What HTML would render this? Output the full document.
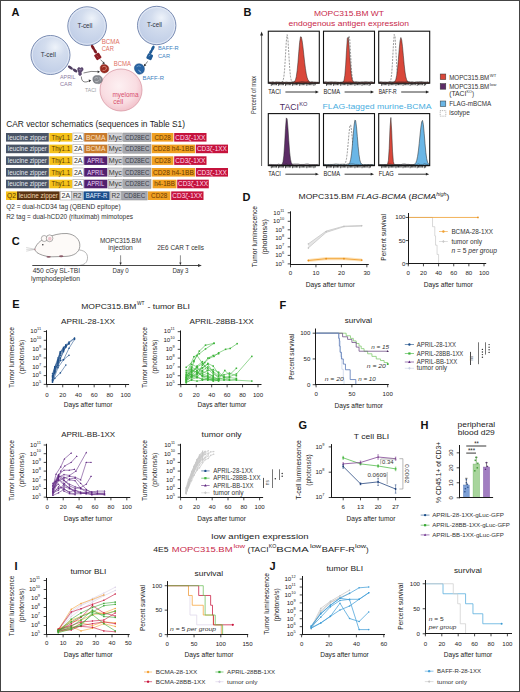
<!DOCTYPE html>
<html><head><meta charset="utf-8"><style>
html,body{margin:0;padding:0;background:#fff;}
svg{display:block;font-family:"Liberation Sans", sans-serif;}
</style></head><body>
<svg width="520" height="692" viewBox="0 0 520 692">
<rect x="0" y="0" width="520" height="692" fill="#fff"/>
<text x="11.60" y="16.40" font-size="11.0" fill="#111" font-weight="bold">A</text>
<defs>
<radialGradient id="tc" cx="62%" cy="30%" r="75%"><stop offset="0" stop-color="#eef3fa"/><stop offset="0.35" stop-color="#d3ddee"/><stop offset="0.85" stop-color="#c3d0e8"/><stop offset="1" stop-color="#b9c8e2"/></radialGradient>
<radialGradient id="my" cx="45%" cy="40%" r="60%"><stop offset="0" stop-color="#fdf0f2"/><stop offset="0.7" stop-color="#f9dde2"/><stop offset="1" stop-color="#f2c3cc"/></radialGradient>
</defs>
<circle cx="87.10" cy="26.10" r="19.30" fill="url(#tc)" stroke="#7a8cb2" stroke-width="1.0"/>
<circle cx="87.10" cy="26.10" r="18.10" fill="none" stroke="#e8eef8" stroke-width="0.8"/>
<text x="84.90" y="27.90" font-size="6.8" fill="#2e3444" text-anchor="middle" textLength="15.00" lengthAdjust="spacingAndGlyphs">T-cell</text>
<circle cx="50.50" cy="55.00" r="19.50" fill="url(#tc)" stroke="#7a8cb2" stroke-width="1.0"/>
<circle cx="50.50" cy="55.00" r="18.30" fill="none" stroke="#e8eef8" stroke-width="0.8"/>
<text x="48.30" y="56.80" font-size="6.8" fill="#2e3444" text-anchor="middle" textLength="15.00" lengthAdjust="spacingAndGlyphs">T-cell</text>
<circle cx="156.70" cy="25.50" r="19.20" fill="url(#tc)" stroke="#7a8cb2" stroke-width="1.0"/>
<circle cx="156.70" cy="25.50" r="18.00" fill="none" stroke="#e8eef8" stroke-width="0.8"/>
<text x="154.50" y="27.30" font-size="6.8" fill="#2e3444" text-anchor="middle" textLength="15.00" lengthAdjust="spacingAndGlyphs">T-cell</text>
<circle cx="121.00" cy="90.00" r="21.00" fill="url(#my)" stroke="#d99aa6" stroke-width="0.8"/>
<text x="112.50" y="96.60" font-size="6.6" fill="#d8506e" textLength="26.00" lengthAdjust="spacingAndGlyphs">myeloma</text>
<text x="113.30" y="103.80" font-size="6.6" fill="#d8506e">cell</text>
<ellipse cx="92.9" cy="47.4" rx="2.9" ry="1.45" fill="#7e1a22" transform="rotate(58 92.9 47.4)"/>
<ellipse cx="95.2" cy="51.2" rx="2.6" ry="1.45" fill="#7e1a22" transform="rotate(58 95.2 51.2)"/>
<rect x="95.00" y="53.40" width="5.60" height="6.00" fill="#8c1d24" stroke="none" stroke-width="0.5" rx="0.8" transform="rotate(-32 97.8 56.4)"/>
<line x1="96.60" y1="55.60" x2="98.60" y2="57.40" stroke="#d07070" stroke-width="0.45"/>
<path d="M100.5,59.6 L103.8,63" fill="none" stroke="#333" stroke-width="0.6"/>
<polygon points="104.8,64.2 102.2,63.4 104.0,61.6" fill="#333"/>
<path d="M100.2,68.5 C99.8,65.5 102.5,63.8 105,64.6 C107.8,65.2 109.4,67.6 108.6,70.2 C107.8,72.6 104.6,73.6 102.4,72.6 C100.8,71.8 100.3,70.2 100.2,68.5 Z" fill="#9c2c20" stroke="#6e1a12" stroke-width="0.4"/>
<path d="M102.2,67.2 q1.8,-1.8 3.6,-0.4 M102.6,70.4 q2.2,0.6 3.8,-1.2 M105.8,66.8 q1.2,1.2 0.2,2.4" fill="none" stroke="#f2c0b0" stroke-width="0.55"/>
<ellipse cx="70.4" cy="67.6" rx="2.9" ry="1.35" fill="#4e3e60" transform="rotate(32 70.4 67.6)"/>
<ellipse cx="75.0" cy="70.5" rx="2.6" ry="1.35" fill="#4e3e60" transform="rotate(32 75.0 70.5)"/>
<path d="M77.6,69.2 C77.4,67.4 79.4,66.8 80.4,68.2 C81.2,67 83.4,67.4 83.2,69.4 C83,71 81.4,71.4 81.2,72.6 C82,73.6 81.6,75.6 80,75.6 C78.6,75.6 78.2,74 78.8,72.8 C78,72 77.7,70.6 77.6,69.2 Z" fill="#5e4a72" stroke="#3e2e50" stroke-width="0.4"/>
<path d="M79,69.4 q1.2,1 2.6,0" fill="none" stroke="#c8b8d8" stroke-width="0.45"/>
<path d="M83.5,73 Q91,70.5 98.8,71.7" fill="none" stroke="#333" stroke-width="0.6"/>
<polygon points="100,71.8 97.6,70.4 97.7,73.2" fill="#333"/>
<path d="M81.3,76.5 Q81.5,82.5 86,82 Q88,81.5 90,80.7" fill="none" stroke="#333" stroke-width="0.6"/>
<polygon points="91.2,80.2 88.6,79.6 89.3,82.2" fill="#333"/>
<path d="M92.8,79.2 C92.6,76.6 95,75 97.4,75.6 C100.2,75.2 102.8,77.2 102.4,80 C102.2,82.6 99.6,84.2 97.2,83.6 C94.6,83.8 92.9,81.8 92.8,79.2 Z" fill="#868a90" stroke="#5a5e64" stroke-width="0.4"/>
<path d="M94.6,78.4 q1.6,-1.8 3.4,-0.2 M95.2,81.4 q2,0.8 3.6,-0.8 M99.2,77.4 q1.6,1 1,3" fill="none" stroke="#e6e8ea" stroke-width="0.5"/>
<ellipse cx="152.8" cy="48.2" rx="2.8" ry="1.4" fill="#1f5a96" transform="rotate(-60 152.8 48.2)"/>
<ellipse cx="150.9" cy="51.8" rx="2.6" ry="1.4" fill="#1f5a96" transform="rotate(-60 150.9 51.8)"/>
<rect x="146.90" y="53.80" width="5.60" height="5.80" fill="#1f5a96" stroke="none" stroke-width="0.5" rx="1.2" transform="rotate(25 149.7 56.7)"/>
<line x1="148.60" y1="56.20" x2="150.40" y2="55.00" stroke="#a8c8ea" stroke-width="0.5"/>
<path d="M147.6,61.4 L145,65" fill="none" stroke="#333" stroke-width="0.6"/>
<polygon points="144.0,66.6 144.1,63.7 146.3,65.2" fill="#333"/>
<path d="M134.4,67.6 C134.6,64.6 137.4,63.4 139.8,63.8 C142.8,64.2 144.8,66.6 144.4,69.6 C144.2,72.6 141.8,74.4 139.2,74.2 C137.8,74.1 136.6,73.2 136.2,72.2 C135.2,71.2 134.3,69.6 134.4,67.6 Z" fill="#2764a4" stroke="#174478" stroke-width="0.45"/>
<path d="M136.6,66.8 q2,-1.8 4.2,-0.4" fill="none" stroke="#9cc0e6" stroke-width="0.55"/>
<line x1="138.40" y1="70.20" x2="141.20" y2="72.40" stroke="#dbe8f6" stroke-width="0.7"/>
<text x="101.70" y="44.20" font-size="6.4" fill="#e0705f" textLength="18.00" lengthAdjust="spacingAndGlyphs">BCMA</text>
<text x="101.70" y="51.40" font-size="6.4" fill="#e0705f" textLength="12.20" lengthAdjust="spacingAndGlyphs">CAR</text>
<text x="113.80" y="66.00" font-size="6.4" fill="#e0705f" textLength="17.30" lengthAdjust="spacingAndGlyphs">BCMA</text>
<text x="60.00" y="79.20" font-size="6.2" fill="#8c7ca2" textLength="15.50" lengthAdjust="spacingAndGlyphs">APRIL</text>
<text x="60.00" y="86.40" font-size="6.2" fill="#8c7ca2" textLength="12.00" lengthAdjust="spacingAndGlyphs">CAR</text>
<text x="85.00" y="92.00" font-size="6.2" fill="#9a9ea4" textLength="11.30" lengthAdjust="spacingAndGlyphs">TACI</text>
<text x="158.00" y="50.20" font-size="6.2" fill="#3d7fc0" textLength="20.70" lengthAdjust="spacingAndGlyphs">BAFF-R</text>
<text x="158.00" y="57.80" font-size="6.2" fill="#3d7fc0" textLength="12.00" lengthAdjust="spacingAndGlyphs">CAR</text>
<text x="142.40" y="79.60" font-size="6.2" fill="#3d7fc0" textLength="21.60" lengthAdjust="spacingAndGlyphs">BAFF-R</text>
<text x="6.20" y="127.40" font-size="8.3" fill="#222" textLength="178.80" lengthAdjust="spacingAndGlyphs">CAR vector schematics (sequences in Table S1)</text>
<rect x="6.00" y="133.00" width="42.80" height="8.60" fill="#4a5466" stroke="none" stroke-width="0.5"/>
<text x="27.40" y="139.70" font-size="7.0" fill="#e4e7ee" text-anchor="middle" textLength="39.20" lengthAdjust="spacingAndGlyphs">leucine zipper</text>
<rect x="49.30" y="133.00" width="22.90" height="8.60" fill="#f5c21a" stroke="none" stroke-width="0.5"/>
<text x="60.75" y="139.70" font-size="7.0" fill="#573800" text-anchor="middle" textLength="18.50" lengthAdjust="spacingAndGlyphs">Thy1.1</text>
<rect x="72.90" y="133.00" width="10.50" height="8.60" fill="#ffffff" stroke="#999" stroke-width="0.5"/>
<text x="78.15" y="139.70" font-size="7.0" fill="#333" text-anchor="middle" textLength="8.50" lengthAdjust="spacingAndGlyphs">2A</text>
<rect x="84.20" y="133.00" width="23.10" height="8.60" fill="#c87a2c" stroke="none" stroke-width="0.5"/>
<text x="95.75" y="139.70" font-size="7.0" fill="#fbe3c5" text-anchor="middle" textLength="19.30" lengthAdjust="spacingAndGlyphs">BCMA</text>
<rect x="108.00" y="133.00" width="14.70" height="8.60" fill="#d3d3d7" stroke="#9a9a9a" stroke-width="0.5"/>
<text x="115.35" y="139.70" font-size="7.0" fill="#3a3a3a" text-anchor="middle" textLength="13.00" lengthAdjust="spacingAndGlyphs">Myc</text>
<rect x="123.40" y="133.00" width="27.60" height="8.60" fill="#a6a8b0" stroke="#888" stroke-width="0.5"/>
<text x="137.20" y="139.70" font-size="7.0" fill="#3c3f48" text-anchor="middle" textLength="24.60" lengthAdjust="spacingAndGlyphs">CD28EC</text>
<rect x="151.80" y="133.00" width="21.60" height="8.60" fill="#f0a022" stroke="none" stroke-width="0.5"/>
<text x="162.60" y="139.70" font-size="7.0" fill="#6a3a00" text-anchor="middle" textLength="16.10" lengthAdjust="spacingAndGlyphs">CD28</text>
<rect x="174.20" y="133.00" width="32.30" height="8.60" fill="#c5133c" stroke="none" stroke-width="0.5"/>
<text x="190.35" y="139.70" font-size="7.0" fill="#fde" text-anchor="middle" textLength="30.00" lengthAdjust="spacingAndGlyphs">CD3&#950;-1XX</text>
<rect x="6.00" y="144.60" width="42.80" height="8.60" fill="#4a5466" stroke="none" stroke-width="0.5"/>
<text x="27.40" y="151.30" font-size="7.0" fill="#e4e7ee" text-anchor="middle" textLength="39.20" lengthAdjust="spacingAndGlyphs">leucine zipper</text>
<rect x="49.30" y="144.60" width="22.90" height="8.60" fill="#f5c21a" stroke="none" stroke-width="0.5"/>
<text x="60.75" y="151.30" font-size="7.0" fill="#573800" text-anchor="middle" textLength="18.50" lengthAdjust="spacingAndGlyphs">Thy1.1</text>
<rect x="72.90" y="144.60" width="10.50" height="8.60" fill="#ffffff" stroke="#999" stroke-width="0.5"/>
<text x="78.15" y="151.30" font-size="7.0" fill="#333" text-anchor="middle" textLength="8.50" lengthAdjust="spacingAndGlyphs">2A</text>
<rect x="84.20" y="144.60" width="23.10" height="8.60" fill="#c87a2c" stroke="none" stroke-width="0.5"/>
<text x="95.75" y="151.30" font-size="7.0" fill="#fbe3c5" text-anchor="middle" textLength="19.30" lengthAdjust="spacingAndGlyphs">BCMA</text>
<rect x="108.00" y="144.60" width="14.70" height="8.60" fill="#d3d3d7" stroke="#9a9a9a" stroke-width="0.5"/>
<text x="115.35" y="151.30" font-size="7.0" fill="#3a3a3a" text-anchor="middle" textLength="13.00" lengthAdjust="spacingAndGlyphs">Myc</text>
<rect x="123.40" y="144.60" width="27.60" height="8.60" fill="#a6a8b0" stroke="#888" stroke-width="0.5"/>
<text x="137.20" y="151.30" font-size="7.0" fill="#3c3f48" text-anchor="middle" textLength="24.60" lengthAdjust="spacingAndGlyphs">CD28EC</text>
<rect x="151.80" y="144.60" width="43.20" height="8.60" fill="#f0a022" stroke="none" stroke-width="0.5"/>
<text x="173.40" y="151.30" font-size="7.0" fill="#6a3a00" text-anchor="middle" textLength="40.80" lengthAdjust="spacingAndGlyphs">CD28 h4-1BB</text>
<rect x="195.80" y="144.60" width="32.20" height="8.60" fill="#c5133c" stroke="none" stroke-width="0.5"/>
<text x="211.90" y="151.30" font-size="7.0" fill="#fde" text-anchor="middle" textLength="30.00" lengthAdjust="spacingAndGlyphs">CD3&#950;-1XX</text>
<rect x="6.00" y="156.30" width="42.80" height="8.60" fill="#4a5466" stroke="none" stroke-width="0.5"/>
<text x="27.40" y="163.00" font-size="7.0" fill="#e4e7ee" text-anchor="middle" textLength="39.20" lengthAdjust="spacingAndGlyphs">leucine zipper</text>
<rect x="49.30" y="156.30" width="22.90" height="8.60" fill="#f5c21a" stroke="none" stroke-width="0.5"/>
<text x="60.75" y="163.00" font-size="7.0" fill="#573800" text-anchor="middle" textLength="18.50" lengthAdjust="spacingAndGlyphs">Thy1.1</text>
<rect x="72.90" y="156.30" width="10.50" height="8.60" fill="#ffffff" stroke="#999" stroke-width="0.5"/>
<text x="78.15" y="163.00" font-size="7.0" fill="#333" text-anchor="middle" textLength="8.50" lengthAdjust="spacingAndGlyphs">2A</text>
<rect x="84.20" y="156.30" width="23.10" height="8.60" fill="#53206f" stroke="none" stroke-width="0.5"/>
<text x="95.75" y="163.00" font-size="7.0" fill="#ecd6f6" text-anchor="middle" textLength="17.00" lengthAdjust="spacingAndGlyphs">APRIL</text>
<rect x="108.00" y="156.30" width="14.70" height="8.60" fill="#d3d3d7" stroke="#9a9a9a" stroke-width="0.5"/>
<text x="115.35" y="163.00" font-size="7.0" fill="#3a3a3a" text-anchor="middle" textLength="13.00" lengthAdjust="spacingAndGlyphs">Myc</text>
<rect x="123.40" y="156.30" width="27.60" height="8.60" fill="#a6a8b0" stroke="#888" stroke-width="0.5"/>
<text x="137.20" y="163.00" font-size="7.0" fill="#3c3f48" text-anchor="middle" textLength="24.60" lengthAdjust="spacingAndGlyphs">CD28EC</text>
<rect x="151.80" y="156.30" width="21.60" height="8.60" fill="#f0a022" stroke="none" stroke-width="0.5"/>
<text x="162.60" y="163.00" font-size="7.0" fill="#6a3a00" text-anchor="middle" textLength="16.10" lengthAdjust="spacingAndGlyphs">CD28</text>
<rect x="174.20" y="156.30" width="32.30" height="8.60" fill="#c5133c" stroke="none" stroke-width="0.5"/>
<text x="190.35" y="163.00" font-size="7.0" fill="#fde" text-anchor="middle" textLength="30.00" lengthAdjust="spacingAndGlyphs">CD3&#950;-1XX</text>
<rect x="6.00" y="168.00" width="42.80" height="8.60" fill="#4a5466" stroke="none" stroke-width="0.5"/>
<text x="27.40" y="174.70" font-size="7.0" fill="#e4e7ee" text-anchor="middle" textLength="39.20" lengthAdjust="spacingAndGlyphs">leucine zipper</text>
<rect x="49.30" y="168.00" width="22.90" height="8.60" fill="#f5c21a" stroke="none" stroke-width="0.5"/>
<text x="60.75" y="174.70" font-size="7.0" fill="#573800" text-anchor="middle" textLength="18.50" lengthAdjust="spacingAndGlyphs">Thy1.1</text>
<rect x="72.90" y="168.00" width="10.50" height="8.60" fill="#ffffff" stroke="#999" stroke-width="0.5"/>
<text x="78.15" y="174.70" font-size="7.0" fill="#333" text-anchor="middle" textLength="8.50" lengthAdjust="spacingAndGlyphs">2A</text>
<rect x="84.20" y="168.00" width="23.10" height="8.60" fill="#53206f" stroke="none" stroke-width="0.5"/>
<text x="95.75" y="174.70" font-size="7.0" fill="#ecd6f6" text-anchor="middle" textLength="17.00" lengthAdjust="spacingAndGlyphs">APRIL</text>
<rect x="108.00" y="168.00" width="14.70" height="8.60" fill="#d3d3d7" stroke="#9a9a9a" stroke-width="0.5"/>
<text x="115.35" y="174.70" font-size="7.0" fill="#3a3a3a" text-anchor="middle" textLength="13.00" lengthAdjust="spacingAndGlyphs">Myc</text>
<rect x="123.40" y="168.00" width="27.60" height="8.60" fill="#a6a8b0" stroke="#888" stroke-width="0.5"/>
<text x="137.20" y="174.70" font-size="7.0" fill="#3c3f48" text-anchor="middle" textLength="24.60" lengthAdjust="spacingAndGlyphs">CD28EC</text>
<rect x="151.80" y="168.00" width="43.20" height="8.60" fill="#f0a022" stroke="none" stroke-width="0.5"/>
<text x="173.40" y="174.70" font-size="7.0" fill="#6a3a00" text-anchor="middle" textLength="40.80" lengthAdjust="spacingAndGlyphs">CD28 h4-1BB</text>
<rect x="195.80" y="168.00" width="32.20" height="8.60" fill="#c5133c" stroke="none" stroke-width="0.5"/>
<text x="211.90" y="174.70" font-size="7.0" fill="#fde" text-anchor="middle" textLength="30.00" lengthAdjust="spacingAndGlyphs">CD3&#950;-1XX</text>
<rect x="6.00" y="179.70" width="42.80" height="8.60" fill="#4a5466" stroke="none" stroke-width="0.5"/>
<text x="27.40" y="186.40" font-size="7.0" fill="#e4e7ee" text-anchor="middle" textLength="39.20" lengthAdjust="spacingAndGlyphs">leucine zipper</text>
<rect x="49.30" y="179.70" width="22.90" height="8.60" fill="#f5c21a" stroke="none" stroke-width="0.5"/>
<text x="60.75" y="186.40" font-size="7.0" fill="#573800" text-anchor="middle" textLength="18.50" lengthAdjust="spacingAndGlyphs">Thy1.1</text>
<rect x="72.90" y="179.70" width="10.50" height="8.60" fill="#ffffff" stroke="#999" stroke-width="0.5"/>
<text x="78.15" y="186.40" font-size="7.0" fill="#333" text-anchor="middle" textLength="8.50" lengthAdjust="spacingAndGlyphs">2A</text>
<rect x="84.20" y="179.70" width="23.10" height="8.60" fill="#53206f" stroke="none" stroke-width="0.5"/>
<text x="95.75" y="186.40" font-size="7.0" fill="#ecd6f6" text-anchor="middle" textLength="17.00" lengthAdjust="spacingAndGlyphs">APRIL</text>
<rect x="108.00" y="179.70" width="14.70" height="8.60" fill="#d3d3d7" stroke="#9a9a9a" stroke-width="0.5"/>
<text x="115.35" y="186.40" font-size="7.0" fill="#3a3a3a" text-anchor="middle" textLength="13.00" lengthAdjust="spacingAndGlyphs">Myc</text>
<rect x="123.40" y="179.70" width="27.60" height="8.60" fill="#a6a8b0" stroke="#888" stroke-width="0.5"/>
<text x="137.20" y="186.40" font-size="7.0" fill="#3c3f48" text-anchor="middle" textLength="24.60" lengthAdjust="spacingAndGlyphs">CD28EC</text>
<rect x="152.60" y="179.70" width="23.90" height="8.60" fill="#f0a022" stroke="none" stroke-width="0.5"/>
<text x="164.55" y="186.40" font-size="7.0" fill="#6a3a00" text-anchor="middle" textLength="20.80" lengthAdjust="spacingAndGlyphs">h4-1BB</text>
<rect x="177.20" y="179.70" width="31.60" height="8.60" fill="#c5133c" stroke="none" stroke-width="0.5"/>
<text x="193.00" y="186.40" font-size="7.0" fill="#fde" text-anchor="middle" textLength="30.00" lengthAdjust="spacingAndGlyphs">CD3&#950;-1XX</text>
<rect x="6.00" y="191.40" width="11.00" height="8.60" fill="#f5c21a" stroke="none" stroke-width="0.5"/>
<text x="11.50" y="198.10" font-size="7.0" fill="#573800" text-anchor="middle" textLength="9.00" lengthAdjust="spacingAndGlyphs">Q2</text>
<rect x="17.00" y="191.40" width="42.60" height="8.60" fill="#5a3412" stroke="none" stroke-width="0.5"/>
<text x="38.30" y="198.10" font-size="7.0" fill="#f3d7b0" text-anchor="middle" textLength="39.20" lengthAdjust="spacingAndGlyphs">leucine zipper</text>
<rect x="60.40" y="191.40" width="10.80" height="8.60" fill="#ffffff" stroke="#999" stroke-width="0.5"/>
<text x="65.80" y="198.10" font-size="7.0" fill="#333" text-anchor="middle" textLength="8.50" lengthAdjust="spacingAndGlyphs">2A</text>
<rect x="71.60" y="191.40" width="11.10" height="8.60" fill="#d3d3d7" stroke="#9a9a9a" stroke-width="0.5"/>
<text x="77.15" y="198.10" font-size="7.0" fill="#3a3a3a" text-anchor="middle" textLength="8.50" lengthAdjust="spacingAndGlyphs">R2</text>
<rect x="83.50" y="191.40" width="26.10" height="8.60" fill="#1d4f8c" stroke="none" stroke-width="0.5"/>
<text x="96.55" y="198.10" font-size="7.0" fill="#e6f0ff" text-anchor="middle" textLength="21.50" lengthAdjust="spacingAndGlyphs">BAFF-R</text>
<rect x="110.40" y="191.40" width="10.80" height="8.60" fill="#d3d3d7" stroke="#9a9a9a" stroke-width="0.5"/>
<text x="115.80" y="198.10" font-size="7.0" fill="#3a3a3a" text-anchor="middle" textLength="8.50" lengthAdjust="spacingAndGlyphs">R2</text>
<rect x="121.80" y="191.40" width="25.40" height="8.60" fill="#a6a8b0" stroke="#888" stroke-width="0.5"/>
<text x="134.50" y="198.10" font-size="7.0" fill="#3c3f48" text-anchor="middle" textLength="21.60" lengthAdjust="spacingAndGlyphs">CD8EC</text>
<rect x="148.00" y="191.40" width="22.30" height="8.60" fill="#f0a022" stroke="none" stroke-width="0.5"/>
<text x="159.15" y="198.10" font-size="7.0" fill="#6a3a00" text-anchor="middle" textLength="16.10" lengthAdjust="spacingAndGlyphs">CD28</text>
<rect x="171.20" y="191.40" width="32.30" height="8.60" fill="#c5133c" stroke="none" stroke-width="0.5"/>
<text x="187.35" y="198.10" font-size="7.0" fill="#fde" text-anchor="middle" textLength="30.00" lengthAdjust="spacingAndGlyphs">CD3&#950;-1XX</text>
<text x="6.20" y="209.40" font-size="6.3" fill="#333" textLength="114.40" lengthAdjust="spacingAndGlyphs">Q2 = dual-hCD34 tag (QBEND epitope)</text>
<text x="6.20" y="219.40" font-size="6.3" fill="#333" textLength="126.80" lengthAdjust="spacingAndGlyphs">R2 tag = dual-hCD20 (rituximab) mimotopes</text>
<text x="243.60" y="16.40" font-size="11.0" fill="#111" font-weight="bold">B</text>
<text x="349.00" y="16.20" font-size="8.0" fill="#c8284a" text-anchor="middle" textLength="70.00" lengthAdjust="spacingAndGlyphs">MOPC315.BM WT</text>
<text x="348.80" y="26.20" font-size="8.0" fill="#c8284a" text-anchor="middle" textLength="120.50" lengthAdjust="spacingAndGlyphs">endogenous antigen expression</text>
<line x1="261.60" y1="34.00" x2="261.60" y2="166.00" stroke="#222" stroke-width="0.7"/>
<polygon points="261.6,31.5 260.1,35.5 263.1,35.5" fill="#222"/>
<text x="256.00" y="95.00" font-size="6.4" fill="#333" text-anchor="middle" textLength="38.00" lengthAdjust="spacingAndGlyphs" transform="rotate(-90 256.00 95.00)">Percent of max</text>
<rect x="268.30" y="31.20" width="51.00" height="52.00" fill="#fff" stroke="none" stroke-width="0.5"/>
<path d="M268.80,82.40 L269.63,82.40 L270.47,82.40 L271.30,82.40 L272.13,82.40 L272.97,82.40 L273.80,82.40 L274.63,82.40 L275.47,82.40 L276.30,82.40 L277.13,82.40 L277.97,82.40 L278.80,82.40 L279.63,82.40 L280.47,82.39 L281.30,82.35 L282.13,82.08 L282.97,80.96 L283.80,77.40 L284.63,69.20 L285.47,55.82 L286.30,41.59 L287.13,34.64 L287.97,39.78 L288.80,53.41 L289.63,67.36 L290.47,76.45 L291.30,80.61 L292.13,81.99 L292.97,82.33 L293.80,82.39 L294.63,82.40 L295.47,82.40 L296.30,82.40 L297.13,82.40 L297.97,82.40 L298.80,82.40 L299.63,82.40 L300.47,82.40 L301.30,82.40 L302.13,82.40 L302.97,82.40 L303.80,82.40 L304.63,82.40 L305.47,82.40 L306.30,82.40 L307.13,82.40 L307.97,82.40 L308.80,82.40 L309.63,82.40 L310.47,82.40 L311.30,82.40 L312.13,82.40 L312.97,82.40 L313.80,82.40 L314.63,82.40 L315.47,82.40 L316.30,82.40 L317.13,82.40 L317.97,82.40 L318.80,82.40" fill="none" stroke="#666" stroke-width="0.65" stroke-dasharray="2,1.2"/>
<path d="M268.80,82.40 L269.63,82.40 L270.47,82.40 L271.30,82.40 L272.13,82.40 L272.97,82.40 L273.80,82.40 L274.63,82.40 L275.47,82.40 L276.30,82.40 L277.13,82.40 L277.97,82.40 L278.80,82.40 L279.63,82.40 L280.47,82.40 L281.30,82.40 L282.13,82.40 L282.97,82.40 L283.80,82.40 L284.63,82.40 L285.47,82.40 L286.30,82.40 L287.13,82.40 L287.97,82.40 L288.80,82.40 L289.63,82.40 L290.47,82.40 L291.30,82.40 L292.13,82.38 L292.97,82.31 L293.80,82.09 L294.63,81.46 L295.47,79.89 L296.30,76.60 L297.13,70.76 L297.97,62.13 L298.80,51.79 L299.63,42.30 L300.47,36.82 L301.30,36.94 L302.13,40.66 L302.97,46.95 L303.80,54.53 L304.63,62.13 L305.47,68.76 L306.30,73.91 L307.13,77.51 L307.97,79.79 L308.80,81.11 L309.63,81.81 L310.47,82.15 L311.30,82.30 L312.13,82.37 L312.97,82.39 L313.80,82.40 L314.63,82.40 L315.47,82.40 L316.30,82.40 L317.13,82.40 L317.97,82.40 L318.80,82.40 L318.80,83.20 L268.80,83.20 Z" fill="#d9473a" stroke="#222" stroke-width="0.5"/>
<polyline points="268.80,82.11 270.76,82.26 272.72,81.81 274.68,82.33 276.64,81.92 278.60,82.07 280.56,82.35 282.53,81.94 284.49,82.37 286.45,82.01 288.41,82.34 290.37,82.32 292.33,82.02 294.29,81.66 296.25,82.29 298.21,82.20 300.17,81.84 302.13,81.55 304.09,81.88 306.05,82.04 308.02,81.52 309.98,82.36 311.94,81.63 313.90,82.14 315.86,82.27 317.82,82.29" fill="none" stroke="#222" stroke-width="0.5" stroke-linejoin="round"/>
<rect x="268.30" y="31.20" width="51.00" height="52.00" fill="none" stroke="#111" stroke-width="1.1"/>
<line x1="271.30" y1="83.60" x2="271.30" y2="85.80" stroke="#111" stroke-width="0.75"/>
<line x1="272.60" y1="83.60" x2="272.60" y2="85.20" stroke="#111" stroke-width="0.75"/>
<line x1="273.90" y1="83.60" x2="273.90" y2="85.20" stroke="#111" stroke-width="0.75"/>
<line x1="275.20" y1="83.60" x2="275.20" y2="85.20" stroke="#111" stroke-width="0.75"/>
<line x1="276.50" y1="83.60" x2="276.50" y2="85.20" stroke="#111" stroke-width="0.75"/>
<line x1="278.40" y1="83.60" x2="278.40" y2="85.80" stroke="#111" stroke-width="0.75"/>
<line x1="279.70" y1="83.60" x2="279.70" y2="85.20" stroke="#111" stroke-width="0.75"/>
<line x1="281.00" y1="83.60" x2="281.00" y2="85.20" stroke="#111" stroke-width="0.75"/>
<line x1="282.30" y1="83.60" x2="282.30" y2="85.20" stroke="#111" stroke-width="0.75"/>
<line x1="283.60" y1="83.60" x2="283.60" y2="85.20" stroke="#111" stroke-width="0.75"/>
<line x1="285.50" y1="83.60" x2="285.50" y2="85.80" stroke="#111" stroke-width="0.75"/>
<line x1="286.80" y1="83.60" x2="286.80" y2="85.20" stroke="#111" stroke-width="0.75"/>
<line x1="288.10" y1="83.60" x2="288.10" y2="85.20" stroke="#111" stroke-width="0.75"/>
<line x1="289.40" y1="83.60" x2="289.40" y2="85.20" stroke="#111" stroke-width="0.75"/>
<line x1="290.70" y1="83.60" x2="290.70" y2="85.20" stroke="#111" stroke-width="0.75"/>
<line x1="292.60" y1="83.60" x2="292.60" y2="85.80" stroke="#111" stroke-width="0.75"/>
<line x1="293.90" y1="83.60" x2="293.90" y2="85.20" stroke="#111" stroke-width="0.75"/>
<line x1="295.20" y1="83.60" x2="295.20" y2="85.20" stroke="#111" stroke-width="0.75"/>
<line x1="296.50" y1="83.60" x2="296.50" y2="85.20" stroke="#111" stroke-width="0.75"/>
<line x1="297.80" y1="83.60" x2="297.80" y2="85.20" stroke="#111" stroke-width="0.75"/>
<line x1="299.70" y1="83.60" x2="299.70" y2="85.80" stroke="#111" stroke-width="0.75"/>
<line x1="301.00" y1="83.60" x2="301.00" y2="85.20" stroke="#111" stroke-width="0.75"/>
<line x1="302.30" y1="83.60" x2="302.30" y2="85.20" stroke="#111" stroke-width="0.75"/>
<line x1="303.60" y1="83.60" x2="303.60" y2="85.20" stroke="#111" stroke-width="0.75"/>
<line x1="304.90" y1="83.60" x2="304.90" y2="85.20" stroke="#111" stroke-width="0.75"/>
<line x1="306.80" y1="83.60" x2="306.80" y2="85.80" stroke="#111" stroke-width="0.75"/>
<line x1="308.10" y1="83.60" x2="308.10" y2="85.20" stroke="#111" stroke-width="0.75"/>
<line x1="309.40" y1="83.60" x2="309.40" y2="85.20" stroke="#111" stroke-width="0.75"/>
<line x1="310.70" y1="83.60" x2="310.70" y2="85.20" stroke="#111" stroke-width="0.75"/>
<line x1="312.00" y1="83.60" x2="312.00" y2="85.20" stroke="#111" stroke-width="0.75"/>
<line x1="313.90" y1="83.60" x2="313.90" y2="85.80" stroke="#111" stroke-width="0.75"/>
<line x1="315.20" y1="83.60" x2="315.20" y2="85.20" stroke="#111" stroke-width="0.75"/>
<rect x="323.50" y="31.20" width="51.00" height="52.00" fill="#fff" stroke="none" stroke-width="0.5"/>
<path d="M324.00,82.40 L324.83,82.40 L325.67,82.40 L326.50,82.40 L327.33,82.40 L328.17,82.40 L329.00,82.40 L329.83,82.40 L330.67,82.40 L331.50,82.40 L332.33,82.40 L333.17,82.40 L334.00,82.40 L334.83,82.40 L335.67,82.40 L336.50,82.40 L337.33,82.40 L338.17,82.40 L339.00,82.40 L339.83,82.40 L340.67,82.40 L341.50,82.40 L342.33,82.40 L343.17,82.40 L344.00,82.35 L344.83,82.04 L345.67,80.46 L346.50,75.10 L347.33,63.12 L348.17,46.68 L349.00,35.98 L349.83,40.06 L350.67,55.31 L351.50,70.24 L352.33,78.57 L353.17,81.55 L354.00,82.27 L354.83,82.39 L355.67,82.40 L356.50,82.40 L357.33,82.40 L358.17,82.40 L359.00,82.40 L359.83,82.40 L360.67,82.40 L361.50,82.40 L362.33,82.40 L363.17,82.40 L364.00,82.40 L364.83,82.40 L365.67,82.40 L366.50,82.40 L367.33,82.40 L368.17,82.40 L369.00,82.40 L369.83,82.40 L370.67,82.40 L371.50,82.40 L372.33,82.40 L373.17,82.40 L374.00,82.40" fill="none" stroke="#666" stroke-width="0.65" stroke-dasharray="2,1.2"/>
<path d="M324.00,82.40 L324.83,82.40 L325.67,82.40 L326.50,82.40 L327.33,82.40 L328.17,82.40 L329.00,82.40 L329.83,82.40 L330.67,82.40 L331.50,82.40 L332.33,82.40 L333.17,82.40 L334.00,82.40 L334.83,82.40 L335.67,82.40 L336.50,82.40 L337.33,82.40 L338.17,82.40 L339.00,82.40 L339.83,82.40 L340.67,82.40 L341.50,82.39 L342.33,82.32 L343.17,81.93 L344.00,80.29 L344.83,75.36 L345.67,64.96 L346.50,50.27 L347.33,38.40 L348.17,37.18 L349.00,44.88 L349.83,56.88 L350.67,68.16 L351.50,75.89 L352.33,79.96 L353.17,81.65 L354.00,82.21 L354.83,82.36 L355.67,82.39 L356.50,82.40 L357.33,82.40 L358.17,82.40 L359.00,82.40 L359.83,82.40 L360.67,82.40 L361.50,82.40 L362.33,82.40 L363.17,82.40 L364.00,82.40 L364.83,82.40 L365.67,82.40 L366.50,82.40 L367.33,82.40 L368.17,82.40 L369.00,82.40 L369.83,82.40 L370.67,82.40 L371.50,82.40 L372.33,82.40 L373.17,82.40 L374.00,82.40 L374.00,83.20 L324.00,83.20 Z" fill="#d9473a" stroke="#222" stroke-width="0.5"/>
<polyline points="324.00,82.12 325.96,81.67 327.92,82.24 329.88,81.88 331.84,81.82 333.80,82.06 335.76,81.91 337.73,82.34 339.69,82.35 341.65,82.21 343.61,81.79 345.57,82.02 347.53,82.12 349.49,81.87 351.45,81.99 353.41,82.13 355.37,81.69 357.33,81.77 359.29,82.18 361.25,81.88 363.22,81.93 365.18,81.61 367.14,81.74 369.10,82.14 371.06,81.52 373.02,82.29" fill="none" stroke="#222" stroke-width="0.5" stroke-linejoin="round"/>
<rect x="323.50" y="31.20" width="51.00" height="52.00" fill="none" stroke="#111" stroke-width="1.1"/>
<line x1="326.50" y1="83.60" x2="326.50" y2="85.80" stroke="#111" stroke-width="0.75"/>
<line x1="327.80" y1="83.60" x2="327.80" y2="85.20" stroke="#111" stroke-width="0.75"/>
<line x1="329.10" y1="83.60" x2="329.10" y2="85.20" stroke="#111" stroke-width="0.75"/>
<line x1="330.40" y1="83.60" x2="330.40" y2="85.20" stroke="#111" stroke-width="0.75"/>
<line x1="331.70" y1="83.60" x2="331.70" y2="85.20" stroke="#111" stroke-width="0.75"/>
<line x1="333.60" y1="83.60" x2="333.60" y2="85.80" stroke="#111" stroke-width="0.75"/>
<line x1="334.90" y1="83.60" x2="334.90" y2="85.20" stroke="#111" stroke-width="0.75"/>
<line x1="336.20" y1="83.60" x2="336.20" y2="85.20" stroke="#111" stroke-width="0.75"/>
<line x1="337.50" y1="83.60" x2="337.50" y2="85.20" stroke="#111" stroke-width="0.75"/>
<line x1="338.80" y1="83.60" x2="338.80" y2="85.20" stroke="#111" stroke-width="0.75"/>
<line x1="340.70" y1="83.60" x2="340.70" y2="85.80" stroke="#111" stroke-width="0.75"/>
<line x1="342.00" y1="83.60" x2="342.00" y2="85.20" stroke="#111" stroke-width="0.75"/>
<line x1="343.30" y1="83.60" x2="343.30" y2="85.20" stroke="#111" stroke-width="0.75"/>
<line x1="344.60" y1="83.60" x2="344.60" y2="85.20" stroke="#111" stroke-width="0.75"/>
<line x1="345.90" y1="83.60" x2="345.90" y2="85.20" stroke="#111" stroke-width="0.75"/>
<line x1="347.80" y1="83.60" x2="347.80" y2="85.80" stroke="#111" stroke-width="0.75"/>
<line x1="349.10" y1="83.60" x2="349.10" y2="85.20" stroke="#111" stroke-width="0.75"/>
<line x1="350.40" y1="83.60" x2="350.40" y2="85.20" stroke="#111" stroke-width="0.75"/>
<line x1="351.70" y1="83.60" x2="351.70" y2="85.20" stroke="#111" stroke-width="0.75"/>
<line x1="353.00" y1="83.60" x2="353.00" y2="85.20" stroke="#111" stroke-width="0.75"/>
<line x1="354.90" y1="83.60" x2="354.90" y2="85.80" stroke="#111" stroke-width="0.75"/>
<line x1="356.20" y1="83.60" x2="356.20" y2="85.20" stroke="#111" stroke-width="0.75"/>
<line x1="357.50" y1="83.60" x2="357.50" y2="85.20" stroke="#111" stroke-width="0.75"/>
<line x1="358.80" y1="83.60" x2="358.80" y2="85.20" stroke="#111" stroke-width="0.75"/>
<line x1="360.10" y1="83.60" x2="360.10" y2="85.20" stroke="#111" stroke-width="0.75"/>
<line x1="362.00" y1="83.60" x2="362.00" y2="85.80" stroke="#111" stroke-width="0.75"/>
<line x1="363.30" y1="83.60" x2="363.30" y2="85.20" stroke="#111" stroke-width="0.75"/>
<line x1="364.60" y1="83.60" x2="364.60" y2="85.20" stroke="#111" stroke-width="0.75"/>
<line x1="365.90" y1="83.60" x2="365.90" y2="85.20" stroke="#111" stroke-width="0.75"/>
<line x1="367.20" y1="83.60" x2="367.20" y2="85.20" stroke="#111" stroke-width="0.75"/>
<line x1="369.10" y1="83.60" x2="369.10" y2="85.80" stroke="#111" stroke-width="0.75"/>
<line x1="370.40" y1="83.60" x2="370.40" y2="85.20" stroke="#111" stroke-width="0.75"/>
<rect x="378.70" y="31.20" width="51.00" height="52.00" fill="#fff" stroke="none" stroke-width="0.5"/>
<path d="M379.20,82.40 L380.03,82.40 L380.87,82.40 L381.70,82.40 L382.53,82.40 L383.37,82.40 L384.20,82.40 L385.03,82.40 L385.87,82.40 L386.70,82.40 L387.53,82.40 L388.37,82.39 L389.20,82.30 L390.03,81.82 L390.87,79.80 L391.70,73.84 L392.53,61.70 L393.37,45.64 L394.20,34.47 L395.03,36.50 L395.87,50.11 L396.70,65.72 L397.53,76.07 L398.37,80.64 L399.20,82.04 L400.03,82.35 L400.87,82.39 L401.70,82.40 L402.53,82.40 L403.37,82.40 L404.20,82.40 L405.03,82.40 L405.87,82.40 L406.70,82.40 L407.53,82.40 L408.37,82.40 L409.20,82.40 L410.03,82.40 L410.87,82.40 L411.70,82.40 L412.53,82.40 L413.37,82.40 L414.20,82.40 L415.03,82.40 L415.87,82.40 L416.70,82.40 L417.53,82.40 L418.37,82.40 L419.20,82.40 L420.03,82.40 L420.87,82.40 L421.70,82.40 L422.53,82.40 L423.37,82.40 L424.20,82.40 L425.03,82.40 L425.87,82.40 L426.70,82.40 L427.53,82.40 L428.37,82.40 L429.20,82.40" fill="none" stroke="#666" stroke-width="0.65" stroke-dasharray="2,1.2"/>
<path d="M379.20,82.40 L380.03,82.40 L380.87,82.40 L381.70,82.40 L382.53,82.40 L383.37,82.40 L384.20,82.40 L385.03,82.40 L385.87,82.40 L386.70,82.40 L387.53,82.40 L388.37,82.40 L389.20,82.40 L390.03,82.40 L390.87,82.40 L391.70,82.39 L392.53,82.37 L393.37,82.28 L394.20,81.99 L395.03,81.18 L395.87,79.24 L396.70,75.32 L397.53,68.70 L398.37,59.47 L399.20,49.23 L400.03,40.90 L400.87,37.51 L401.70,39.90 L402.53,46.68 L403.37,55.75 L404.20,64.75 L405.03,72.02 L405.87,76.98 L406.70,79.89 L407.53,81.37 L408.37,82.02 L409.20,82.28 L410.03,82.36 L410.87,82.39 L411.70,82.40 L412.53,82.40 L413.37,82.40 L414.20,82.40 L415.03,82.40 L415.87,82.40 L416.70,82.40 L417.53,82.40 L418.37,82.40 L419.20,82.40 L420.03,82.40 L420.87,82.40 L421.70,82.40 L422.53,82.40 L423.37,82.40 L424.20,82.40 L425.03,82.40 L425.87,82.40 L426.70,82.40 L427.53,82.40 L428.37,82.40 L429.20,82.40 L429.20,83.20 L379.20,83.20 Z" fill="#d9473a" stroke="#222" stroke-width="0.5"/>
<polyline points="379.20,82.02 381.16,81.72 383.12,82.26 385.08,81.96 387.04,82.36 389.00,81.80 390.96,81.71 392.93,81.88 394.89,81.61 396.85,82.12 398.81,81.77 400.77,81.87 402.73,81.88 404.69,81.99 406.65,81.64 408.61,81.55 410.57,81.97 412.53,81.80 414.49,82.35 416.45,81.77 418.42,81.82 420.38,81.51 422.34,81.66 424.30,82.14 426.26,82.05 428.22,81.80" fill="none" stroke="#222" stroke-width="0.5" stroke-linejoin="round"/>
<rect x="378.70" y="31.20" width="51.00" height="52.00" fill="none" stroke="#111" stroke-width="1.1"/>
<line x1="381.70" y1="83.60" x2="381.70" y2="85.80" stroke="#111" stroke-width="0.75"/>
<line x1="383.00" y1="83.60" x2="383.00" y2="85.20" stroke="#111" stroke-width="0.75"/>
<line x1="384.30" y1="83.60" x2="384.30" y2="85.20" stroke="#111" stroke-width="0.75"/>
<line x1="385.60" y1="83.60" x2="385.60" y2="85.20" stroke="#111" stroke-width="0.75"/>
<line x1="386.90" y1="83.60" x2="386.90" y2="85.20" stroke="#111" stroke-width="0.75"/>
<line x1="388.80" y1="83.60" x2="388.80" y2="85.80" stroke="#111" stroke-width="0.75"/>
<line x1="390.10" y1="83.60" x2="390.10" y2="85.20" stroke="#111" stroke-width="0.75"/>
<line x1="391.40" y1="83.60" x2="391.40" y2="85.20" stroke="#111" stroke-width="0.75"/>
<line x1="392.70" y1="83.60" x2="392.70" y2="85.20" stroke="#111" stroke-width="0.75"/>
<line x1="394.00" y1="83.60" x2="394.00" y2="85.20" stroke="#111" stroke-width="0.75"/>
<line x1="395.90" y1="83.60" x2="395.90" y2="85.80" stroke="#111" stroke-width="0.75"/>
<line x1="397.20" y1="83.60" x2="397.20" y2="85.20" stroke="#111" stroke-width="0.75"/>
<line x1="398.50" y1="83.60" x2="398.50" y2="85.20" stroke="#111" stroke-width="0.75"/>
<line x1="399.80" y1="83.60" x2="399.80" y2="85.20" stroke="#111" stroke-width="0.75"/>
<line x1="401.10" y1="83.60" x2="401.10" y2="85.20" stroke="#111" stroke-width="0.75"/>
<line x1="403.00" y1="83.60" x2="403.00" y2="85.80" stroke="#111" stroke-width="0.75"/>
<line x1="404.30" y1="83.60" x2="404.30" y2="85.20" stroke="#111" stroke-width="0.75"/>
<line x1="405.60" y1="83.60" x2="405.60" y2="85.20" stroke="#111" stroke-width="0.75"/>
<line x1="406.90" y1="83.60" x2="406.90" y2="85.20" stroke="#111" stroke-width="0.75"/>
<line x1="408.20" y1="83.60" x2="408.20" y2="85.20" stroke="#111" stroke-width="0.75"/>
<line x1="410.10" y1="83.60" x2="410.10" y2="85.80" stroke="#111" stroke-width="0.75"/>
<line x1="411.40" y1="83.60" x2="411.40" y2="85.20" stroke="#111" stroke-width="0.75"/>
<line x1="412.70" y1="83.60" x2="412.70" y2="85.20" stroke="#111" stroke-width="0.75"/>
<line x1="414.00" y1="83.60" x2="414.00" y2="85.20" stroke="#111" stroke-width="0.75"/>
<line x1="415.30" y1="83.60" x2="415.30" y2="85.20" stroke="#111" stroke-width="0.75"/>
<line x1="417.20" y1="83.60" x2="417.20" y2="85.80" stroke="#111" stroke-width="0.75"/>
<line x1="418.50" y1="83.60" x2="418.50" y2="85.20" stroke="#111" stroke-width="0.75"/>
<line x1="419.80" y1="83.60" x2="419.80" y2="85.20" stroke="#111" stroke-width="0.75"/>
<line x1="421.10" y1="83.60" x2="421.10" y2="85.20" stroke="#111" stroke-width="0.75"/>
<line x1="422.40" y1="83.60" x2="422.40" y2="85.20" stroke="#111" stroke-width="0.75"/>
<line x1="424.30" y1="83.60" x2="424.30" y2="85.80" stroke="#111" stroke-width="0.75"/>
<line x1="425.60" y1="83.60" x2="425.60" y2="85.20" stroke="#111" stroke-width="0.75"/>
<rect x="268.30" y="113.60" width="51.00" height="52.00" fill="#fff" stroke="none" stroke-width="0.5"/>
<path d="M268.80,164.80 L269.63,164.80 L270.47,164.80 L271.30,164.80 L272.13,164.80 L272.97,164.80 L273.80,164.80 L274.63,164.80 L275.47,164.80 L276.30,164.80 L277.13,164.80 L277.97,164.80 L278.80,164.80 L279.63,164.80 L280.47,164.78 L281.30,164.68 L282.13,164.13 L282.97,161.95 L283.80,155.84 L284.63,143.88 L285.47,128.47 L286.30,117.91 L287.13,118.91 L287.97,128.20 L288.80,140.87 L289.63,151.97 L290.47,159.16 L291.30,162.77 L292.13,164.20 L292.97,164.65 L293.80,164.77 L294.63,164.80 L295.47,164.80 L296.30,164.80 L297.13,164.80 L297.97,164.80 L298.80,164.80 L299.63,164.80 L300.47,164.80 L301.30,164.80 L302.13,164.80 L302.97,164.80 L303.80,164.80 L304.63,164.80 L305.47,164.80 L306.30,164.80 L307.13,164.80 L307.97,164.80 L308.80,164.80 L309.63,164.80 L310.47,164.80 L311.30,164.80 L312.13,164.80 L312.97,164.80 L313.80,164.80 L314.63,164.80 L315.47,164.80 L316.30,164.80 L317.13,164.80 L317.97,164.80 L318.80,164.80 L318.80,165.60 L268.80,165.60 Z" fill="#5c2c66" stroke="#222" stroke-width="0.5"/>
<polyline points="268.80,164.78 270.76,164.38 272.72,164.65 274.68,164.69 276.64,164.75 278.60,164.11 280.56,164.68 282.53,164.58 284.49,164.45 286.45,164.02 288.41,164.73 290.37,164.40 292.33,164.31 294.29,164.00 296.25,164.06 298.21,164.02 300.17,164.55 302.13,164.43 304.09,164.48 306.05,164.00 308.02,163.94 309.98,164.66 311.94,164.64 313.90,164.59 315.86,164.59 317.82,164.36" fill="none" stroke="#222" stroke-width="0.5" stroke-linejoin="round"/>
<rect x="268.30" y="113.60" width="51.00" height="52.00" fill="none" stroke="#111" stroke-width="1.1"/>
<line x1="271.30" y1="166.00" x2="271.30" y2="168.20" stroke="#111" stroke-width="0.75"/>
<line x1="272.60" y1="166.00" x2="272.60" y2="167.60" stroke="#111" stroke-width="0.75"/>
<line x1="273.90" y1="166.00" x2="273.90" y2="167.60" stroke="#111" stroke-width="0.75"/>
<line x1="275.20" y1="166.00" x2="275.20" y2="167.60" stroke="#111" stroke-width="0.75"/>
<line x1="276.50" y1="166.00" x2="276.50" y2="167.60" stroke="#111" stroke-width="0.75"/>
<line x1="278.40" y1="166.00" x2="278.40" y2="168.20" stroke="#111" stroke-width="0.75"/>
<line x1="279.70" y1="166.00" x2="279.70" y2="167.60" stroke="#111" stroke-width="0.75"/>
<line x1="281.00" y1="166.00" x2="281.00" y2="167.60" stroke="#111" stroke-width="0.75"/>
<line x1="282.30" y1="166.00" x2="282.30" y2="167.60" stroke="#111" stroke-width="0.75"/>
<line x1="283.60" y1="166.00" x2="283.60" y2="167.60" stroke="#111" stroke-width="0.75"/>
<line x1="285.50" y1="166.00" x2="285.50" y2="168.20" stroke="#111" stroke-width="0.75"/>
<line x1="286.80" y1="166.00" x2="286.80" y2="167.60" stroke="#111" stroke-width="0.75"/>
<line x1="288.10" y1="166.00" x2="288.10" y2="167.60" stroke="#111" stroke-width="0.75"/>
<line x1="289.40" y1="166.00" x2="289.40" y2="167.60" stroke="#111" stroke-width="0.75"/>
<line x1="290.70" y1="166.00" x2="290.70" y2="167.60" stroke="#111" stroke-width="0.75"/>
<line x1="292.60" y1="166.00" x2="292.60" y2="168.20" stroke="#111" stroke-width="0.75"/>
<line x1="293.90" y1="166.00" x2="293.90" y2="167.60" stroke="#111" stroke-width="0.75"/>
<line x1="295.20" y1="166.00" x2="295.20" y2="167.60" stroke="#111" stroke-width="0.75"/>
<line x1="296.50" y1="166.00" x2="296.50" y2="167.60" stroke="#111" stroke-width="0.75"/>
<line x1="297.80" y1="166.00" x2="297.80" y2="167.60" stroke="#111" stroke-width="0.75"/>
<line x1="299.70" y1="166.00" x2="299.70" y2="168.20" stroke="#111" stroke-width="0.75"/>
<line x1="301.00" y1="166.00" x2="301.00" y2="167.60" stroke="#111" stroke-width="0.75"/>
<line x1="302.30" y1="166.00" x2="302.30" y2="167.60" stroke="#111" stroke-width="0.75"/>
<line x1="303.60" y1="166.00" x2="303.60" y2="167.60" stroke="#111" stroke-width="0.75"/>
<line x1="304.90" y1="166.00" x2="304.90" y2="167.60" stroke="#111" stroke-width="0.75"/>
<line x1="306.80" y1="166.00" x2="306.80" y2="168.20" stroke="#111" stroke-width="0.75"/>
<line x1="308.10" y1="166.00" x2="308.10" y2="167.60" stroke="#111" stroke-width="0.75"/>
<line x1="309.40" y1="166.00" x2="309.40" y2="167.60" stroke="#111" stroke-width="0.75"/>
<line x1="310.70" y1="166.00" x2="310.70" y2="167.60" stroke="#111" stroke-width="0.75"/>
<line x1="312.00" y1="166.00" x2="312.00" y2="167.60" stroke="#111" stroke-width="0.75"/>
<line x1="313.90" y1="166.00" x2="313.90" y2="168.20" stroke="#111" stroke-width="0.75"/>
<line x1="315.20" y1="166.00" x2="315.20" y2="167.60" stroke="#111" stroke-width="0.75"/>
<rect x="323.50" y="113.60" width="51.00" height="52.00" fill="#fff" stroke="none" stroke-width="0.5"/>
<path d="M324.00,164.80 L324.83,164.80 L325.67,164.80 L326.50,164.80 L327.33,164.80 L328.17,164.80 L329.00,164.80 L329.83,164.80 L330.67,164.80 L331.50,164.80 L332.33,164.80 L333.17,164.80 L334.00,164.80 L334.83,164.80 L335.67,164.80 L336.50,164.80 L337.33,164.80 L338.17,164.80 L339.00,164.80 L339.83,164.80 L340.67,164.80 L341.50,164.80 L342.33,164.79 L343.17,164.74 L344.00,164.56 L344.83,163.96 L345.67,162.35 L346.50,158.78 L347.33,152.36 L348.17,143.20 L349.00,133.26 L349.83,126.09 L350.67,124.86 L351.50,130.16 L352.33,139.54 L353.17,149.32 L354.00,156.82 L354.83,161.35 L355.67,163.54 L356.50,164.42 L357.33,164.70 L358.17,164.78 L359.00,164.80 L359.83,164.80 L360.67,164.80 L361.50,164.80 L362.33,164.80 L363.17,164.80 L364.00,164.80 L364.83,164.80 L365.67,164.80 L366.50,164.80 L367.33,164.80 L368.17,164.80 L369.00,164.80 L369.83,164.80 L370.67,164.80 L371.50,164.80 L372.33,164.80 L373.17,164.80 L374.00,164.80" fill="none" stroke="#666" stroke-width="0.65" stroke-dasharray="2,1.2"/>
<path d="M324.00,164.80 L324.83,164.80 L325.67,164.80 L326.50,164.80 L327.33,164.80 L328.17,164.80 L329.00,164.80 L329.83,164.80 L330.67,164.80 L331.50,164.80 L332.33,164.80 L333.17,164.80 L334.00,164.80 L334.83,164.80 L335.67,164.80 L336.50,164.80 L337.33,164.80 L338.17,164.80 L339.00,164.80 L339.83,164.80 L340.67,164.80 L341.50,164.80 L342.33,164.80 L343.17,164.80 L344.00,164.80 L344.83,164.80 L345.67,164.80 L346.50,164.78 L347.33,164.72 L348.17,164.53 L349.00,163.95 L349.83,162.49 L350.67,159.39 L351.50,153.81 L352.33,145.46 L353.17,135.31 L354.00,125.85 L354.83,120.22 L355.67,120.61 L356.50,126.84 L357.33,136.55 L358.17,146.59 L359.00,154.63 L359.83,159.88 L360.67,162.74 L361.50,164.05 L362.33,164.56 L363.17,164.74 L364.00,164.78 L364.83,164.80 L365.67,164.80 L366.50,164.80 L367.33,164.80 L368.17,164.80 L369.00,164.80 L369.83,164.80 L370.67,164.80 L371.50,164.80 L372.33,164.80 L373.17,164.80 L374.00,164.80 L374.00,165.60 L324.00,165.60 Z" fill="#6ab6e6" stroke="#222" stroke-width="0.5"/>
<polyline points="324.00,164.27 325.96,164.56 327.92,164.80 329.88,164.42 331.84,164.47 333.80,164.29 335.76,163.94 337.73,164.18 339.69,164.34 341.65,164.24 343.61,164.19 345.57,164.75 347.53,163.99 349.49,164.10 351.45,164.01 353.41,164.08 355.37,164.45 357.33,164.44 359.29,164.71 361.25,164.23 363.22,164.74 365.18,164.74 367.14,164.61 369.10,164.65 371.06,164.49 373.02,164.75" fill="none" stroke="#222" stroke-width="0.5" stroke-linejoin="round"/>
<rect x="323.50" y="113.60" width="51.00" height="52.00" fill="none" stroke="#111" stroke-width="1.1"/>
<line x1="326.50" y1="166.00" x2="326.50" y2="168.20" stroke="#111" stroke-width="0.75"/>
<line x1="327.80" y1="166.00" x2="327.80" y2="167.60" stroke="#111" stroke-width="0.75"/>
<line x1="329.10" y1="166.00" x2="329.10" y2="167.60" stroke="#111" stroke-width="0.75"/>
<line x1="330.40" y1="166.00" x2="330.40" y2="167.60" stroke="#111" stroke-width="0.75"/>
<line x1="331.70" y1="166.00" x2="331.70" y2="167.60" stroke="#111" stroke-width="0.75"/>
<line x1="333.60" y1="166.00" x2="333.60" y2="168.20" stroke="#111" stroke-width="0.75"/>
<line x1="334.90" y1="166.00" x2="334.90" y2="167.60" stroke="#111" stroke-width="0.75"/>
<line x1="336.20" y1="166.00" x2="336.20" y2="167.60" stroke="#111" stroke-width="0.75"/>
<line x1="337.50" y1="166.00" x2="337.50" y2="167.60" stroke="#111" stroke-width="0.75"/>
<line x1="338.80" y1="166.00" x2="338.80" y2="167.60" stroke="#111" stroke-width="0.75"/>
<line x1="340.70" y1="166.00" x2="340.70" y2="168.20" stroke="#111" stroke-width="0.75"/>
<line x1="342.00" y1="166.00" x2="342.00" y2="167.60" stroke="#111" stroke-width="0.75"/>
<line x1="343.30" y1="166.00" x2="343.30" y2="167.60" stroke="#111" stroke-width="0.75"/>
<line x1="344.60" y1="166.00" x2="344.60" y2="167.60" stroke="#111" stroke-width="0.75"/>
<line x1="345.90" y1="166.00" x2="345.90" y2="167.60" stroke="#111" stroke-width="0.75"/>
<line x1="347.80" y1="166.00" x2="347.80" y2="168.20" stroke="#111" stroke-width="0.75"/>
<line x1="349.10" y1="166.00" x2="349.10" y2="167.60" stroke="#111" stroke-width="0.75"/>
<line x1="350.40" y1="166.00" x2="350.40" y2="167.60" stroke="#111" stroke-width="0.75"/>
<line x1="351.70" y1="166.00" x2="351.70" y2="167.60" stroke="#111" stroke-width="0.75"/>
<line x1="353.00" y1="166.00" x2="353.00" y2="167.60" stroke="#111" stroke-width="0.75"/>
<line x1="354.90" y1="166.00" x2="354.90" y2="168.20" stroke="#111" stroke-width="0.75"/>
<line x1="356.20" y1="166.00" x2="356.20" y2="167.60" stroke="#111" stroke-width="0.75"/>
<line x1="357.50" y1="166.00" x2="357.50" y2="167.60" stroke="#111" stroke-width="0.75"/>
<line x1="358.80" y1="166.00" x2="358.80" y2="167.60" stroke="#111" stroke-width="0.75"/>
<line x1="360.10" y1="166.00" x2="360.10" y2="167.60" stroke="#111" stroke-width="0.75"/>
<line x1="362.00" y1="166.00" x2="362.00" y2="168.20" stroke="#111" stroke-width="0.75"/>
<line x1="363.30" y1="166.00" x2="363.30" y2="167.60" stroke="#111" stroke-width="0.75"/>
<line x1="364.60" y1="166.00" x2="364.60" y2="167.60" stroke="#111" stroke-width="0.75"/>
<line x1="365.90" y1="166.00" x2="365.90" y2="167.60" stroke="#111" stroke-width="0.75"/>
<line x1="367.20" y1="166.00" x2="367.20" y2="167.60" stroke="#111" stroke-width="0.75"/>
<line x1="369.10" y1="166.00" x2="369.10" y2="168.20" stroke="#111" stroke-width="0.75"/>
<line x1="370.40" y1="166.00" x2="370.40" y2="167.60" stroke="#111" stroke-width="0.75"/>
<rect x="378.70" y="113.60" width="51.00" height="52.00" fill="#fff" stroke="none" stroke-width="0.5"/>
<path d="M379.20,164.80 L380.03,164.80 L380.87,164.80 L381.70,164.80 L382.53,164.80 L383.37,164.80 L384.20,164.80 L385.03,164.80 L385.87,164.80 L386.70,164.75 L387.53,164.22 L388.37,160.70 L389.20,148.34 L390.03,127.62 L390.87,117.49 L391.70,130.88 L392.53,151.10 L393.37,161.68 L394.20,164.40 L395.03,164.77 L395.87,164.80 L396.70,164.80 L397.53,164.80 L398.37,164.80 L399.20,164.80 L400.03,164.80 L400.87,164.80 L401.70,164.80 L402.53,164.80 L403.37,164.80 L404.20,164.80 L405.03,164.80 L405.87,164.80 L406.70,164.80 L407.53,164.80 L408.37,164.80 L409.20,164.80 L410.03,164.80 L410.87,164.80 L411.70,164.80 L412.53,164.80 L413.37,164.80 L414.20,164.80 L415.03,164.80 L415.87,164.80 L416.70,164.80 L417.53,164.80 L418.37,164.80 L419.20,164.80 L420.03,164.80 L420.87,164.80 L421.70,164.80 L422.53,164.80 L423.37,164.80 L424.20,164.80 L425.03,164.80 L425.87,164.80 L426.70,164.80 L427.53,164.80 L428.37,164.80 L429.20,164.80 L429.20,165.60 L379.20,165.60 Z" fill="#d9473a" stroke="#222" stroke-width="0.5"/>
<path d="M379.20,164.80 L380.03,164.80 L380.87,164.80 L381.70,164.80 L382.53,164.80 L383.37,164.80 L384.20,164.80 L385.03,164.80 L385.87,164.80 L386.70,164.80 L387.53,164.80 L388.37,164.80 L389.20,164.80 L390.03,164.80 L390.87,164.80 L391.70,164.80 L392.53,164.80 L393.37,164.80 L394.20,164.80 L395.03,164.80 L395.87,164.80 L396.70,164.80 L397.53,164.80 L398.37,164.80 L399.20,164.80 L400.03,164.80 L400.87,164.80 L401.70,164.80 L402.53,164.80 L403.37,164.80 L404.20,164.80 L405.03,164.80 L405.87,164.80 L406.70,164.80 L407.53,164.80 L408.37,164.80 L409.20,164.80 L410.03,164.80 L410.87,164.80 L411.70,164.79 L412.53,164.76 L413.37,164.67 L414.20,164.44 L415.03,163.89 L415.87,162.72 L416.70,160.47 L417.53,156.66 L418.37,150.95 L419.20,143.45 L420.03,135.03 L420.87,127.21 L421.70,121.84 L422.53,120.38 L423.37,124.54 L424.20,133.35 L425.03,143.64 L425.87,152.52 L426.70,158.67 L427.53,162.16 L428.37,163.82 L429.20,164.49 L429.20,165.60 L379.20,165.60 Z" fill="#6ab6e6" stroke="#222" stroke-width="0.5"/>
<polyline points="379.20,164.80 381.16,164.66 383.12,164.71 385.08,164.47 387.04,164.78 389.00,164.01 390.96,164.25 392.93,164.67 394.89,164.57 396.85,164.49 398.81,164.47 400.77,164.69 402.73,164.04 404.69,163.91 406.65,164.38 408.61,164.36 410.57,164.72 412.53,164.71 414.49,164.49 416.45,164.56 418.42,164.05 420.38,164.65 422.34,164.78 424.30,163.94 426.26,164.32 428.22,164.67" fill="none" stroke="#222" stroke-width="0.5" stroke-linejoin="round"/>
<rect x="378.70" y="113.60" width="51.00" height="52.00" fill="none" stroke="#111" stroke-width="1.1"/>
<line x1="381.70" y1="166.00" x2="381.70" y2="168.20" stroke="#111" stroke-width="0.75"/>
<line x1="383.00" y1="166.00" x2="383.00" y2="167.60" stroke="#111" stroke-width="0.75"/>
<line x1="384.30" y1="166.00" x2="384.30" y2="167.60" stroke="#111" stroke-width="0.75"/>
<line x1="385.60" y1="166.00" x2="385.60" y2="167.60" stroke="#111" stroke-width="0.75"/>
<line x1="386.90" y1="166.00" x2="386.90" y2="167.60" stroke="#111" stroke-width="0.75"/>
<line x1="388.80" y1="166.00" x2="388.80" y2="168.20" stroke="#111" stroke-width="0.75"/>
<line x1="390.10" y1="166.00" x2="390.10" y2="167.60" stroke="#111" stroke-width="0.75"/>
<line x1="391.40" y1="166.00" x2="391.40" y2="167.60" stroke="#111" stroke-width="0.75"/>
<line x1="392.70" y1="166.00" x2="392.70" y2="167.60" stroke="#111" stroke-width="0.75"/>
<line x1="394.00" y1="166.00" x2="394.00" y2="167.60" stroke="#111" stroke-width="0.75"/>
<line x1="395.90" y1="166.00" x2="395.90" y2="168.20" stroke="#111" stroke-width="0.75"/>
<line x1="397.20" y1="166.00" x2="397.20" y2="167.60" stroke="#111" stroke-width="0.75"/>
<line x1="398.50" y1="166.00" x2="398.50" y2="167.60" stroke="#111" stroke-width="0.75"/>
<line x1="399.80" y1="166.00" x2="399.80" y2="167.60" stroke="#111" stroke-width="0.75"/>
<line x1="401.10" y1="166.00" x2="401.10" y2="167.60" stroke="#111" stroke-width="0.75"/>
<line x1="403.00" y1="166.00" x2="403.00" y2="168.20" stroke="#111" stroke-width="0.75"/>
<line x1="404.30" y1="166.00" x2="404.30" y2="167.60" stroke="#111" stroke-width="0.75"/>
<line x1="405.60" y1="166.00" x2="405.60" y2="167.60" stroke="#111" stroke-width="0.75"/>
<line x1="406.90" y1="166.00" x2="406.90" y2="167.60" stroke="#111" stroke-width="0.75"/>
<line x1="408.20" y1="166.00" x2="408.20" y2="167.60" stroke="#111" stroke-width="0.75"/>
<line x1="410.10" y1="166.00" x2="410.10" y2="168.20" stroke="#111" stroke-width="0.75"/>
<line x1="411.40" y1="166.00" x2="411.40" y2="167.60" stroke="#111" stroke-width="0.75"/>
<line x1="412.70" y1="166.00" x2="412.70" y2="167.60" stroke="#111" stroke-width="0.75"/>
<line x1="414.00" y1="166.00" x2="414.00" y2="167.60" stroke="#111" stroke-width="0.75"/>
<line x1="415.30" y1="166.00" x2="415.30" y2="167.60" stroke="#111" stroke-width="0.75"/>
<line x1="417.20" y1="166.00" x2="417.20" y2="168.20" stroke="#111" stroke-width="0.75"/>
<line x1="418.50" y1="166.00" x2="418.50" y2="167.60" stroke="#111" stroke-width="0.75"/>
<line x1="419.80" y1="166.00" x2="419.80" y2="167.60" stroke="#111" stroke-width="0.75"/>
<line x1="421.10" y1="166.00" x2="421.10" y2="167.60" stroke="#111" stroke-width="0.75"/>
<line x1="422.40" y1="166.00" x2="422.40" y2="167.60" stroke="#111" stroke-width="0.75"/>
<line x1="424.30" y1="166.00" x2="424.30" y2="168.20" stroke="#111" stroke-width="0.75"/>
<line x1="425.60" y1="166.00" x2="425.60" y2="167.60" stroke="#111" stroke-width="0.75"/>
<text x="268.30" y="94.20" font-size="6.6" fill="#222" textLength="12.60" lengthAdjust="spacingAndGlyphs">TACI</text>
<line x1="285.40" y1="92.00" x2="316.30" y2="92.00" stroke="#222" stroke-width="0.9"/>
<polygon points="318.80,92.00 315.50,90.60 315.50,93.40" fill="#222"/>
<text x="323.50" y="94.20" font-size="6.6" fill="#222" textLength="16.60" lengthAdjust="spacingAndGlyphs">BCMA</text>
<line x1="344.60" y1="92.00" x2="371.50" y2="92.00" stroke="#222" stroke-width="0.9"/>
<polygon points="374.00,92.00 370.70,90.60 370.70,93.40" fill="#222"/>
<text x="378.70" y="94.20" font-size="6.6" fill="#222" textLength="18.00" lengthAdjust="spacingAndGlyphs">BAFF-R</text>
<line x1="401.20" y1="92.00" x2="426.70" y2="92.00" stroke="#222" stroke-width="0.9"/>
<polygon points="429.20,92.00 425.90,90.60 425.90,93.40" fill="#222"/>
<text x="268.30" y="176.40" font-size="6.6" fill="#222" textLength="12.60" lengthAdjust="spacingAndGlyphs">TACI</text>
<line x1="285.40" y1="174.20" x2="316.30" y2="174.20" stroke="#222" stroke-width="0.9"/>
<polygon points="318.80,174.20 315.50,172.80 315.50,175.60" fill="#222"/>
<text x="323.50" y="176.40" font-size="6.6" fill="#222" textLength="16.60" lengthAdjust="spacingAndGlyphs">BCMA</text>
<line x1="344.60" y1="174.20" x2="371.50" y2="174.20" stroke="#222" stroke-width="0.9"/>
<polygon points="374.00,174.20 370.70,172.80 370.70,175.60" fill="#222"/>
<text x="378.70" y="176.40" font-size="6.6" fill="#222" textLength="15.00" lengthAdjust="spacingAndGlyphs">FLAG</text>
<line x1="398.20" y1="174.20" x2="426.70" y2="174.20" stroke="#222" stroke-width="0.9"/>
<polygon points="429.20,174.20 425.90,172.80 425.90,175.60" fill="#222"/>
<text x="279.80" y="109.80" font-size="8.4" fill="#4a2a5e" textLength="19.00" lengthAdjust="spacingAndGlyphs">TACI</text>
<text x="299.20" y="106.00" font-size="5.4" fill="#4a2a5e" textLength="8.20" lengthAdjust="spacingAndGlyphs">KO</text>
<text x="377.00" y="109.00" font-size="8.0" fill="#4aaee0" text-anchor="middle" textLength="109.00" lengthAdjust="spacingAndGlyphs">FLAG-tagged murine-BCMA</text>
<rect x="440.20" y="74.00" width="5.60" height="5.60" fill="#d9473a" stroke="#333" stroke-width="0.5"/>
<rect x="440.20" y="83.60" width="5.60" height="5.60" fill="#5c2c66" stroke="#333" stroke-width="0.5"/>
<rect x="440.20" y="101.00" width="5.60" height="5.60" fill="#6ab6e6" stroke="#333" stroke-width="0.5"/>
<rect x="440.20" y="110.60" width="5.60" height="5.60" fill="#fff" stroke="#888" stroke-width="0.6" stroke-dasharray="1,0.8"/>
<text x="449.20" y="79.60" font-size="6.3" fill="#333" textLength="40.00" lengthAdjust="spacingAndGlyphs">MOPC315.BM</text>
<text x="489.80" y="76.60" font-size="4.0" fill="#333" textLength="6.50" lengthAdjust="spacingAndGlyphs">WT</text>
<text x="449.20" y="88.60" font-size="6.3" fill="#333" textLength="40.00" lengthAdjust="spacingAndGlyphs">MOPC315.BM</text>
<text x="489.80" y="85.60" font-size="4.0" fill="#333" textLength="6.50" lengthAdjust="spacingAndGlyphs">low</text>
<text x="449.20" y="95.60" font-size="6.3" fill="#333" textLength="17.20" lengthAdjust="spacingAndGlyphs">(TACI</text>
<text x="466.60" y="92.60" font-size="4.0" fill="#333" textLength="5.20" lengthAdjust="spacingAndGlyphs">KO</text>
<text x="472.00" y="95.60" font-size="6.3" fill="#333">)</text>
<text x="449.20" y="106.40" font-size="6.3" fill="#333" textLength="42.00" lengthAdjust="spacingAndGlyphs">FLAG-mBCMA</text>
<text x="449.20" y="114.80" font-size="6.3" fill="#333" textLength="20.70" lengthAdjust="spacingAndGlyphs">isotype</text>
<text x="11.80" y="244.50" font-size="11.0" fill="#111" font-weight="bold">C</text>
<g transform="translate(57 246) scale(1.0 1.04) translate(-57 -246)">
<path d="M79.2,249.8 C86.5,250.5 88.4,255 87.2,259.5 C86.2,263 83,264.6 77,265 L64,265" fill="none" stroke="#8a8a8a" stroke-width="0.6"/>
<path d="M34.6,249.5 C36,244.5 40,240.5 46,238.5 C52,235.5 60,233.6 67,234 C75,234.8 80.5,240 79.8,246.5 C79.2,252.2 74,255.6 66,256 L51,256.4 C44.5,256 40,254.2 37,252.4 Z" fill="#fdfaf8" stroke="#555" stroke-width="0.55"/>
<circle cx="44.20" cy="238.80" r="2.90" fill="#fdfaf8" stroke="#555" stroke-width="0.45"/>
<circle cx="49.60" cy="238.60" r="3.30" fill="#fdfaf8" stroke="#555" stroke-width="0.45"/>
<circle cx="49.80" cy="239.00" r="1.80" fill="#ecc3cb" stroke="none" stroke-width="0.5"/>
<circle cx="42.80" cy="244.80" r="0.80" fill="#333" stroke="none" stroke-width="0.5"/>
<circle cx="34.90" cy="249.30" r="0.70" fill="#d08a98" stroke="none" stroke-width="0.5"/>
<line x1="35.00" y1="249.20" x2="26.20" y2="247.40" stroke="#999" stroke-width="0.35"/>
<line x1="35.00" y1="249.20" x2="26.20" y2="249.20" stroke="#999" stroke-width="0.35"/>
<line x1="35.00" y1="249.20" x2="26.20" y2="251.00" stroke="#999" stroke-width="0.35"/>
<ellipse cx="48.6" cy="256.4" rx="2.2" ry="0.9" fill="#8a5a68"/>
<ellipse cx="61.2" cy="255.9" rx="2.2" ry="0.9" fill="#8a5a68"/>
</g>
<line x1="32.30" y1="265.50" x2="199.00" y2="265.50" stroke="#333" stroke-width="0.9"/>
<polygon points="201.8,265.5 198,263.9 198,267.1" fill="#333"/>
<line x1="120.60" y1="255.30" x2="120.60" y2="263.50" stroke="#333" stroke-width="0.55"/>
<polygon points="120.6,265.3 119.5,262.6 121.69999999999999,262.6" fill="#333"/>
<line x1="180.40" y1="255.30" x2="180.40" y2="263.50" stroke="#333" stroke-width="0.55"/>
<polygon points="180.4,265.3 179.3,262.6 181.5,262.6" fill="#333"/>
<text x="120.60" y="243.00" font-size="6.4" fill="#333" text-anchor="middle" textLength="41.30" lengthAdjust="spacingAndGlyphs">MOPC315.BM</text>
<text x="120.60" y="249.60" font-size="6.4" fill="#333" text-anchor="middle" textLength="24.50" lengthAdjust="spacingAndGlyphs">injection</text>
<text x="180.60" y="249.60" font-size="6.4" fill="#333" text-anchor="middle" textLength="46.70" lengthAdjust="spacingAndGlyphs">2E6 CAR T cells</text>
<text x="120.60" y="273.40" font-size="6.4" fill="#333" text-anchor="middle" textLength="16.00" lengthAdjust="spacingAndGlyphs">Day 0</text>
<text x="180.40" y="273.40" font-size="6.4" fill="#333" text-anchor="middle" textLength="16.00" lengthAdjust="spacingAndGlyphs">Day 3</text>
<text x="56.40" y="273.40" font-size="6.4" fill="#333" text-anchor="middle" textLength="47.50" lengthAdjust="spacingAndGlyphs">450 cGy SL-TBI</text>
<text x="55.60" y="280.60" font-size="6.4" fill="#333" text-anchor="middle" textLength="49.00" lengthAdjust="spacingAndGlyphs">lymphodepletion</text>
<text x="242.40" y="201.30" font-size="11.0" fill="#111" font-weight="bold">D</text>
<text x="374" y="199.2" font-size="7.2" fill="#222" text-anchor="middle" textLength="151" lengthAdjust="spacingAndGlyphs">MOPC315.BM <tspan font-style="italic">FLAG-BCMA</tspan> (<tspan font-style="italic">BCMA</tspan><tspan font-size="4.6" dy="-2.8" font-style="italic">high</tspan><tspan dy="2.8">)</tspan></text>
<polygon points="308.31,243.88 326.13,231.10 343.94,226.16 361.76,225.56 361.76,226.07 343.94,226.67 326.13,232.38 308.31,247.97" fill="#e6e6e6"/>
<polyline points="308.31,243.88 326.13,231.10 343.94,226.16 361.76,225.56" fill="none" stroke="#cccccc" stroke-width="0.9" stroke-linejoin="round"/>
<polyline points="308.31,247.97 326.13,232.38 343.94,226.67 361.76,226.07" fill="none" stroke="#cccccc" stroke-width="0.9" stroke-linejoin="round"/>
<polygon points="308.31,246.98 307.42,247.97 308.31,248.96 309.21,247.97" fill="#bdbdbd"/>
<polygon points="308.31,242.89 307.42,243.88 308.31,244.87 309.21,243.88" fill="#bdbdbd"/>
<polygon points="326.13,230.79 325.23,231.78 326.13,232.77 327.03,231.78" fill="#bdbdbd"/>
<polygon points="343.94,225.42 343.05,226.41 343.94,227.40 344.84,226.41" fill="#bdbdbd"/>
<polygon points="361.76,224.83 360.86,225.82 361.76,226.81 362.66,225.82" fill="#bdbdbd"/>
<polygon points="308.31,258.96 326.13,257.08 343.94,257.08 361.76,258.53 361.76,261.60 343.94,260.32 326.13,260.32 308.31,262.03" fill="#fde3bb"/>
<polyline points="308.31,260.49 326.13,258.70 343.94,258.70 361.76,260.07" fill="none" stroke="#f0a030" stroke-width="0.9" stroke-linejoin="round"/>
<circle cx="308.31" cy="260.49" r="0.90" fill="#e8901a" stroke="none" stroke-width="0.5"/>
<circle cx="326.13" cy="258.70" r="0.90" fill="#e8901a" stroke="none" stroke-width="0.5"/>
<circle cx="343.94" cy="258.70" r="0.90" fill="#e8901a" stroke="none" stroke-width="0.5"/>
<circle cx="361.76" cy="260.07" r="0.90" fill="#e8901a" stroke="none" stroke-width="0.5"/>
<line x1="290.50" y1="211.30" x2="290.50" y2="265.00" stroke="#1a1a1a" stroke-width="1.0"/>
<line x1="287.70" y1="263.90" x2="290.50" y2="263.90" stroke="#1a1a1a" stroke-width="0.8"/>
<text x="284.20" y="265.70" font-size="6.1" fill="#222" text-anchor="end">10<tspan font-size="3.90" dy="-3.05">5</tspan></text>
<line x1="287.70" y1="255.38" x2="290.50" y2="255.38" stroke="#1a1a1a" stroke-width="0.8"/>
<text x="284.20" y="257.18" font-size="6.1" fill="#222" text-anchor="end">10<tspan font-size="3.90" dy="-3.05">6</tspan></text>
<line x1="287.70" y1="246.86" x2="290.50" y2="246.86" stroke="#1a1a1a" stroke-width="0.8"/>
<text x="284.20" y="248.66" font-size="6.1" fill="#222" text-anchor="end">10<tspan font-size="3.90" dy="-3.05">7</tspan></text>
<line x1="287.70" y1="238.34" x2="290.50" y2="238.34" stroke="#1a1a1a" stroke-width="0.8"/>
<text x="284.20" y="240.14" font-size="6.1" fill="#222" text-anchor="end">10<tspan font-size="3.90" dy="-3.05">8</tspan></text>
<line x1="287.70" y1="229.82" x2="290.50" y2="229.82" stroke="#1a1a1a" stroke-width="0.8"/>
<text x="284.20" y="231.62" font-size="6.1" fill="#222" text-anchor="end">10<tspan font-size="3.90" dy="-3.05">9</tspan></text>
<line x1="287.70" y1="221.30" x2="290.50" y2="221.30" stroke="#1a1a1a" stroke-width="0.8"/>
<text x="284.20" y="223.10" font-size="6.1" fill="#222" text-anchor="end">10<tspan font-size="3.90" dy="-3.05">10</tspan></text>
<line x1="287.70" y1="212.78" x2="290.50" y2="212.78" stroke="#1a1a1a" stroke-width="0.8"/>
<text x="284.20" y="214.58" font-size="6.1" fill="#222" text-anchor="end">10<tspan font-size="3.90" dy="-3.05">11</tspan></text>
<line x1="290.00" y1="264.50" x2="368.80" y2="264.50" stroke="#1a1a1a" stroke-width="1.0"/>
<line x1="290.50" y1="264.50" x2="290.50" y2="267.30" stroke="#1a1a1a" stroke-width="0.8"/>
<text x="290.50" y="275.20" font-size="6.1" fill="#222" text-anchor="middle">0</text>
<line x1="315.95" y1="264.50" x2="315.95" y2="267.30" stroke="#1a1a1a" stroke-width="0.8"/>
<text x="315.95" y="275.20" font-size="6.1" fill="#222" text-anchor="middle">10</text>
<line x1="341.40" y1="264.50" x2="341.40" y2="267.30" stroke="#1a1a1a" stroke-width="0.8"/>
<text x="341.40" y="275.20" font-size="6.1" fill="#222" text-anchor="middle">20</text>
<line x1="366.85" y1="264.50" x2="366.85" y2="267.30" stroke="#1a1a1a" stroke-width="0.8"/>
<text x="366.85" y="275.20" font-size="6.1" fill="#222" text-anchor="middle">30</text>
<text x="330.40" y="286.50" font-size="7.4" fill="#222" text-anchor="middle" textLength="49.30" lengthAdjust="spacingAndGlyphs">Days after tumor</text>
<text x="257.20" y="236.60" font-size="7.3" fill="#222" text-anchor="middle" textLength="61.20" lengthAdjust="spacingAndGlyphs" transform="rotate(-90 257.20 236.60)">Tumor luminescence</text>
<text x="266.70" y="236.90" font-size="7.3" fill="#222" text-anchor="middle" textLength="35.40" lengthAdjust="spacingAndGlyphs" transform="rotate(-90 266.70 236.90)">(photons/s)</text>
<path d="M408.30,217.45 H432.52 V226.70 H434.80 V235.95 H435.55 V245.20 H437.07 V254.45 H438.58 V263.70" fill="none" stroke="#c8c8c8" stroke-width="0.7"/>
<line x1="408.30" y1="217.45" x2="477.94" y2="217.45" stroke="#f0a030" stroke-width="0.8"/>
<circle cx="477.94" cy="217.45" r="0.90" fill="#e8901a" stroke="none" stroke-width="0.5"/>
<line x1="408.50" y1="213.00" x2="408.50" y2="264.40" stroke="#1a1a1a" stroke-width="1.0"/>
<line x1="405.70" y1="217.45" x2="408.50" y2="217.45" stroke="#1a1a1a" stroke-width="0.8"/>
<text x="405.50" y="219.45" font-size="6.1" fill="#222" text-anchor="end">100</text>
<line x1="405.70" y1="240.57" x2="408.50" y2="240.57" stroke="#1a1a1a" stroke-width="0.8"/>
<text x="405.50" y="242.57" font-size="6.1" fill="#222" text-anchor="end">50</text>
<line x1="405.70" y1="263.70" x2="408.50" y2="263.70" stroke="#1a1a1a" stroke-width="0.8"/>
<text x="405.50" y="265.70" font-size="6.1" fill="#222" text-anchor="end">0</text>
<line x1="408.00" y1="263.50" x2="486.20" y2="263.50" stroke="#1a1a1a" stroke-width="1.0"/>
<line x1="408.30" y1="263.50" x2="408.30" y2="266.30" stroke="#1a1a1a" stroke-width="0.8"/>
<text x="408.30" y="274.90" font-size="6.1" fill="#222" text-anchor="middle">0</text>
<line x1="423.44" y1="263.50" x2="423.44" y2="266.30" stroke="#1a1a1a" stroke-width="0.8"/>
<text x="423.44" y="274.90" font-size="6.1" fill="#222" text-anchor="middle">20</text>
<line x1="438.58" y1="263.50" x2="438.58" y2="266.30" stroke="#1a1a1a" stroke-width="0.8"/>
<text x="438.58" y="274.90" font-size="6.1" fill="#222" text-anchor="middle">40</text>
<line x1="453.72" y1="263.50" x2="453.72" y2="266.30" stroke="#1a1a1a" stroke-width="0.8"/>
<text x="453.72" y="274.90" font-size="6.1" fill="#222" text-anchor="middle">60</text>
<line x1="468.86" y1="263.50" x2="468.86" y2="266.30" stroke="#1a1a1a" stroke-width="0.8"/>
<text x="468.86" y="274.90" font-size="6.1" fill="#222" text-anchor="middle">80</text>
<line x1="484.00" y1="263.50" x2="484.00" y2="266.30" stroke="#1a1a1a" stroke-width="0.8"/>
<text x="484.00" y="274.90" font-size="6.1" fill="#222" text-anchor="middle">100</text>
<text x="448.30" y="286.50" font-size="7.4" fill="#222" text-anchor="middle" textLength="49.30" lengthAdjust="spacingAndGlyphs">Days after tumor</text>
<text x="386.40" y="237.40" font-size="7.3" fill="#222" text-anchor="middle" textLength="46.50" lengthAdjust="spacingAndGlyphs" transform="rotate(-90 386.40 237.40)">Percent survival</text>
<line x1="439.00" y1="231.50" x2="447.80" y2="231.50" stroke="#f0a030" stroke-width="0.6"/>
<circle cx="443.40" cy="231.50" r="1.17" fill="#f0a030" stroke="none" stroke-width="0.5"/>
<text x="451.40" y="233.60" font-size="6.3" fill="#333" textLength="41.50" lengthAdjust="spacingAndGlyphs">BCMA-28-1XX</text>
<line x1="439.00" y1="241.50" x2="447.80" y2="241.50" stroke="#c8c8c8" stroke-width="0.6"/>
<polygon points="443.40,240.07 442.10,241.50 443.40,242.93 444.70,241.50" fill="#c8c8c8"/>
<text x="451.40" y="243.60" font-size="6.3" fill="#333" textLength="30.70" lengthAdjust="spacingAndGlyphs">tumor only</text>
<text x="451.4" y="252.8" font-size="6.3" fill="#333" textLength="45.5" lengthAdjust="spacingAndGlyphs"><tspan font-style="italic">n</tspan> = 5 <tspan font-style="italic">per group</tspan></text>
<text x="12.20" y="307.60" font-size="11.0" fill="#111" font-weight="bold">E</text>
<text x="81.25" y="308.80" font-size="7.8" fill="#222" textLength="55.00" lengthAdjust="spacingAndGlyphs">MOPC315.BM</text>
<text x="137.00" y="305.00" font-size="4.8" fill="#222" textLength="7.50" lengthAdjust="spacingAndGlyphs">WT</text>
<text x="147.50" y="308.80" font-size="7.8" fill="#222" textLength="42.50" lengthAdjust="spacingAndGlyphs">- tumor BLI</text>
<polyline points="52.50,379.99 54.86,371.17 58.00,362.35 60.36,355.29 63.51,350.00 65.86,346.47 69.01,342.95 74.51,338.54" fill="none" stroke="#1d4f8a" stroke-width="0.55" stroke-linejoin="round"/>
<circle cx="52.50" cy="379.99" r="0.81" fill="#1d4f8a" stroke="none" stroke-width="0.5"/>
<circle cx="54.86" cy="371.17" r="0.81" fill="#1d4f8a" stroke="none" stroke-width="0.5"/>
<circle cx="58.00" cy="362.35" r="0.81" fill="#1d4f8a" stroke="none" stroke-width="0.5"/>
<circle cx="60.36" cy="355.29" r="0.81" fill="#1d4f8a" stroke="none" stroke-width="0.5"/>
<circle cx="63.51" cy="350.00" r="0.81" fill="#1d4f8a" stroke="none" stroke-width="0.5"/>
<circle cx="65.86" cy="346.47" r="0.81" fill="#1d4f8a" stroke="none" stroke-width="0.5"/>
<circle cx="69.01" cy="342.95" r="0.81" fill="#1d4f8a" stroke="none" stroke-width="0.5"/>
<circle cx="74.51" cy="338.54" r="0.81" fill="#1d4f8a" stroke="none" stroke-width="0.5"/>
<polyline points="52.50,377.34 54.86,367.64 58.00,359.70 60.36,352.65 63.51,349.12 65.86,345.59 69.01,343.83" fill="none" stroke="#1d4f8a" stroke-width="0.55" stroke-linejoin="round"/>
<circle cx="52.50" cy="377.34" r="0.81" fill="#1d4f8a" stroke="none" stroke-width="0.5"/>
<circle cx="54.86" cy="367.64" r="0.81" fill="#1d4f8a" stroke="none" stroke-width="0.5"/>
<circle cx="58.00" cy="359.70" r="0.81" fill="#1d4f8a" stroke="none" stroke-width="0.5"/>
<circle cx="60.36" cy="352.65" r="0.81" fill="#1d4f8a" stroke="none" stroke-width="0.5"/>
<circle cx="63.51" cy="349.12" r="0.81" fill="#1d4f8a" stroke="none" stroke-width="0.5"/>
<circle cx="65.86" cy="345.59" r="0.81" fill="#1d4f8a" stroke="none" stroke-width="0.5"/>
<circle cx="69.01" cy="343.83" r="0.81" fill="#1d4f8a" stroke="none" stroke-width="0.5"/>
<polyline points="52.50,373.82 54.86,366.76 58.00,357.94 60.36,351.77 63.51,348.24 65.86,344.71 69.01,342.06 74.51,338.09" fill="none" stroke="#1d4f8a" stroke-width="0.55" stroke-linejoin="round"/>
<circle cx="52.50" cy="373.82" r="0.81" fill="#1d4f8a" stroke="none" stroke-width="0.5"/>
<circle cx="54.86" cy="366.76" r="0.81" fill="#1d4f8a" stroke="none" stroke-width="0.5"/>
<circle cx="58.00" cy="357.94" r="0.81" fill="#1d4f8a" stroke="none" stroke-width="0.5"/>
<circle cx="60.36" cy="351.77" r="0.81" fill="#1d4f8a" stroke="none" stroke-width="0.5"/>
<circle cx="63.51" cy="348.24" r="0.81" fill="#1d4f8a" stroke="none" stroke-width="0.5"/>
<circle cx="65.86" cy="344.71" r="0.81" fill="#1d4f8a" stroke="none" stroke-width="0.5"/>
<circle cx="69.01" cy="342.06" r="0.81" fill="#1d4f8a" stroke="none" stroke-width="0.5"/>
<circle cx="74.51" cy="338.09" r="0.81" fill="#1d4f8a" stroke="none" stroke-width="0.5"/>
<polyline points="52.50,379.11 54.86,370.29 58.00,363.23 60.36,357.94 63.51,350.88 65.86,347.36" fill="none" stroke="#1d4f8a" stroke-width="0.55" stroke-linejoin="round"/>
<circle cx="52.50" cy="379.11" r="0.81" fill="#1d4f8a" stroke="none" stroke-width="0.5"/>
<circle cx="54.86" cy="370.29" r="0.81" fill="#1d4f8a" stroke="none" stroke-width="0.5"/>
<circle cx="58.00" cy="363.23" r="0.81" fill="#1d4f8a" stroke="none" stroke-width="0.5"/>
<circle cx="60.36" cy="357.94" r="0.81" fill="#1d4f8a" stroke="none" stroke-width="0.5"/>
<circle cx="63.51" cy="350.88" r="0.81" fill="#1d4f8a" stroke="none" stroke-width="0.5"/>
<circle cx="65.86" cy="347.36" r="0.81" fill="#1d4f8a" stroke="none" stroke-width="0.5"/>
<polyline points="52.50,380.87 54.86,372.93 58.00,365.88 60.36,360.59 63.51,359.70 69.01,348.24 74.51,339.42" fill="none" stroke="#1d4f8a" stroke-width="0.55" stroke-linejoin="round"/>
<circle cx="52.50" cy="380.87" r="0.81" fill="#1d4f8a" stroke="none" stroke-width="0.5"/>
<circle cx="54.86" cy="372.93" r="0.81" fill="#1d4f8a" stroke="none" stroke-width="0.5"/>
<circle cx="58.00" cy="365.88" r="0.81" fill="#1d4f8a" stroke="none" stroke-width="0.5"/>
<circle cx="60.36" cy="360.59" r="0.81" fill="#1d4f8a" stroke="none" stroke-width="0.5"/>
<circle cx="63.51" cy="359.70" r="0.81" fill="#1d4f8a" stroke="none" stroke-width="0.5"/>
<circle cx="69.01" cy="348.24" r="0.81" fill="#1d4f8a" stroke="none" stroke-width="0.5"/>
<circle cx="74.51" cy="339.42" r="0.81" fill="#1d4f8a" stroke="none" stroke-width="0.5"/>
<polyline points="52.50,375.58 54.86,366.76 58.00,361.47 60.36,353.53 63.51,349.12" fill="none" stroke="#1d4f8a" stroke-width="0.55" stroke-linejoin="round"/>
<circle cx="52.50" cy="375.58" r="0.81" fill="#1d4f8a" stroke="none" stroke-width="0.5"/>
<circle cx="54.86" cy="366.76" r="0.81" fill="#1d4f8a" stroke="none" stroke-width="0.5"/>
<circle cx="58.00" cy="361.47" r="0.81" fill="#1d4f8a" stroke="none" stroke-width="0.5"/>
<circle cx="60.36" cy="353.53" r="0.81" fill="#1d4f8a" stroke="none" stroke-width="0.5"/>
<circle cx="63.51" cy="349.12" r="0.81" fill="#1d4f8a" stroke="none" stroke-width="0.5"/>
<polyline points="52.50,381.75 54.86,378.23 60.36,372.93 65.86,365.00" fill="none" stroke="#1d4f8a" stroke-width="0.55" stroke-linejoin="round"/>
<circle cx="52.50" cy="381.75" r="0.81" fill="#1d4f8a" stroke="none" stroke-width="0.5"/>
<circle cx="54.86" cy="378.23" r="0.81" fill="#1d4f8a" stroke="none" stroke-width="0.5"/>
<circle cx="60.36" cy="372.93" r="0.81" fill="#1d4f8a" stroke="none" stroke-width="0.5"/>
<circle cx="65.86" cy="365.00" r="0.81" fill="#1d4f8a" stroke="none" stroke-width="0.5"/>
<polyline points="52.50,379.99 54.86,368.52 58.00,365.00 60.36,358.82 63.51,351.77 65.86,346.47 69.01,343.83" fill="none" stroke="#1d4f8a" stroke-width="0.55" stroke-linejoin="round"/>
<circle cx="52.50" cy="379.99" r="0.81" fill="#1d4f8a" stroke="none" stroke-width="0.5"/>
<circle cx="54.86" cy="368.52" r="0.81" fill="#1d4f8a" stroke="none" stroke-width="0.5"/>
<circle cx="58.00" cy="365.00" r="0.81" fill="#1d4f8a" stroke="none" stroke-width="0.5"/>
<circle cx="60.36" cy="358.82" r="0.81" fill="#1d4f8a" stroke="none" stroke-width="0.5"/>
<circle cx="63.51" cy="351.77" r="0.81" fill="#1d4f8a" stroke="none" stroke-width="0.5"/>
<circle cx="65.86" cy="346.47" r="0.81" fill="#1d4f8a" stroke="none" stroke-width="0.5"/>
<circle cx="69.01" cy="343.83" r="0.81" fill="#1d4f8a" stroke="none" stroke-width="0.5"/>
<polyline points="52.50,376.46 54.86,372.05 58.00,360.59 60.36,351.77 63.51,347.36 65.86,345.59" fill="none" stroke="#1d4f8a" stroke-width="0.55" stroke-linejoin="round"/>
<circle cx="52.50" cy="376.46" r="0.81" fill="#1d4f8a" stroke="none" stroke-width="0.5"/>
<circle cx="54.86" cy="372.05" r="0.81" fill="#1d4f8a" stroke="none" stroke-width="0.5"/>
<circle cx="58.00" cy="360.59" r="0.81" fill="#1d4f8a" stroke="none" stroke-width="0.5"/>
<circle cx="60.36" cy="351.77" r="0.81" fill="#1d4f8a" stroke="none" stroke-width="0.5"/>
<circle cx="63.51" cy="347.36" r="0.81" fill="#1d4f8a" stroke="none" stroke-width="0.5"/>
<circle cx="65.86" cy="345.59" r="0.81" fill="#1d4f8a" stroke="none" stroke-width="0.5"/>
<polyline points="52.50,382.19 58.00,367.64 63.51,359.70 69.01,355.29" fill="none" stroke="#1d4f8a" stroke-width="0.55" stroke-linejoin="round"/>
<circle cx="52.50" cy="382.19" r="0.81" fill="#1d4f8a" stroke="none" stroke-width="0.5"/>
<circle cx="58.00" cy="367.64" r="0.81" fill="#1d4f8a" stroke="none" stroke-width="0.5"/>
<circle cx="63.51" cy="359.70" r="0.81" fill="#1d4f8a" stroke="none" stroke-width="0.5"/>
<circle cx="69.01" cy="355.29" r="0.81" fill="#1d4f8a" stroke="none" stroke-width="0.5"/>
<line x1="46.50" y1="330.28" x2="46.50" y2="384.90" stroke="#1a1a1a" stroke-width="1.0"/>
<line x1="43.70" y1="384.40" x2="46.50" y2="384.40" stroke="#1a1a1a" stroke-width="0.8"/>
<text x="41.10" y="386.20" font-size="6.1" fill="#222" text-anchor="end">10<tspan font-size="3.90" dy="-3.05">5</tspan></text>
<line x1="43.70" y1="375.58" x2="46.50" y2="375.58" stroke="#1a1a1a" stroke-width="0.8"/>
<text x="41.10" y="377.38" font-size="6.1" fill="#222" text-anchor="end">10<tspan font-size="3.90" dy="-3.05">6</tspan></text>
<line x1="43.70" y1="366.76" x2="46.50" y2="366.76" stroke="#1a1a1a" stroke-width="0.8"/>
<text x="41.10" y="368.56" font-size="6.1" fill="#222" text-anchor="end">10<tspan font-size="3.90" dy="-3.05">7</tspan></text>
<line x1="43.70" y1="357.94" x2="46.50" y2="357.94" stroke="#1a1a1a" stroke-width="0.8"/>
<text x="41.10" y="359.74" font-size="6.1" fill="#222" text-anchor="end">10<tspan font-size="3.90" dy="-3.05">8</tspan></text>
<line x1="43.70" y1="349.12" x2="46.50" y2="349.12" stroke="#1a1a1a" stroke-width="0.8"/>
<text x="41.10" y="350.92" font-size="6.1" fill="#222" text-anchor="end">10<tspan font-size="3.90" dy="-3.05">9</tspan></text>
<line x1="43.70" y1="340.30" x2="46.50" y2="340.30" stroke="#1a1a1a" stroke-width="0.8"/>
<text x="41.10" y="342.10" font-size="6.1" fill="#222" text-anchor="end">10<tspan font-size="3.90" dy="-3.05">10</tspan></text>
<line x1="43.70" y1="331.48" x2="46.50" y2="331.48" stroke="#1a1a1a" stroke-width="0.8"/>
<text x="41.10" y="333.28" font-size="6.1" fill="#222" text-anchor="end">10<tspan font-size="3.90" dy="-3.05">11</tspan></text>
<line x1="46.00" y1="384.50" x2="129.10" y2="384.50" stroke="#1a1a1a" stroke-width="1.0"/>
<line x1="47.00" y1="384.50" x2="47.00" y2="387.30" stroke="#1a1a1a" stroke-width="0.8"/>
<text x="47.00" y="396.50" font-size="6.1" fill="#222" text-anchor="middle">0</text>
<line x1="62.72" y1="384.50" x2="62.72" y2="387.30" stroke="#1a1a1a" stroke-width="0.8"/>
<text x="62.72" y="396.50" font-size="6.1" fill="#222" text-anchor="middle">20</text>
<line x1="78.44" y1="384.50" x2="78.44" y2="387.30" stroke="#1a1a1a" stroke-width="0.8"/>
<text x="78.44" y="396.50" font-size="6.1" fill="#222" text-anchor="middle">40</text>
<line x1="94.16" y1="384.50" x2="94.16" y2="387.30" stroke="#1a1a1a" stroke-width="0.8"/>
<text x="94.16" y="396.50" font-size="6.1" fill="#222" text-anchor="middle">60</text>
<line x1="109.88" y1="384.50" x2="109.88" y2="387.30" stroke="#1a1a1a" stroke-width="0.8"/>
<text x="109.88" y="396.50" font-size="6.1" fill="#222" text-anchor="middle">80</text>
<line x1="125.60" y1="384.50" x2="125.60" y2="387.30" stroke="#1a1a1a" stroke-width="0.8"/>
<text x="125.60" y="396.50" font-size="6.1" fill="#222" text-anchor="middle">100</text>
<text x="88.00" y="323.50" font-size="7.8" fill="#222" text-anchor="middle" textLength="53.80" lengthAdjust="spacingAndGlyphs">APRIL-28-1XX</text>
<text x="88.10" y="406.80" font-size="7.4" fill="#222" text-anchor="middle" textLength="48.80" lengthAdjust="spacingAndGlyphs">Days after tumor</text>
<text x="13.80" y="357.50" font-size="7.3" fill="#222" text-anchor="middle" textLength="61.00" lengthAdjust="spacingAndGlyphs" transform="rotate(-90 13.80 357.50)">Tumor luminescence</text>
<text x="23.60" y="356.80" font-size="7.3" fill="#222" text-anchor="middle" textLength="34.20" lengthAdjust="spacingAndGlyphs" transform="rotate(-90 23.60 356.80)">(photons/s)</text>
<polyline points="186.20,367.31 193.92,360.61 199.33,351.08 205.50,345.17 214.00,343.32" fill="none" stroke="#3db43a" stroke-width="0.55" stroke-linejoin="round"/>
<rect x="185.44" y="366.55" width="1.53" height="1.53" fill="#3db43a" stroke="none" stroke-width="0.5"/>
<rect x="193.16" y="359.84" width="1.53" height="1.53" fill="#3db43a" stroke="none" stroke-width="0.5"/>
<rect x="198.56" y="350.32" width="1.53" height="1.53" fill="#3db43a" stroke="none" stroke-width="0.5"/>
<rect x="204.74" y="344.41" width="1.53" height="1.53" fill="#3db43a" stroke="none" stroke-width="0.5"/>
<rect x="213.23" y="342.56" width="1.53" height="1.53" fill="#3db43a" stroke="none" stroke-width="0.5"/>
<polyline points="186.20,374.02 193.92,356.73 199.33,353.73 205.50,348.97 214.00,343.32" fill="none" stroke="#3db43a" stroke-width="0.55" stroke-linejoin="round"/>
<rect x="185.44" y="373.25" width="1.53" height="1.53" fill="#3db43a" stroke="none" stroke-width="0.5"/>
<rect x="193.16" y="355.96" width="1.53" height="1.53" fill="#3db43a" stroke="none" stroke-width="0.5"/>
<rect x="198.56" y="352.97" width="1.53" height="1.53" fill="#3db43a" stroke="none" stroke-width="0.5"/>
<rect x="204.74" y="348.20" width="1.53" height="1.53" fill="#3db43a" stroke="none" stroke-width="0.5"/>
<rect x="213.23" y="342.56" width="1.53" height="1.53" fill="#3db43a" stroke="none" stroke-width="0.5"/>
<polyline points="186.20,377.54 191.61,371.37 197.01,366.96 204.73,362.55 209.36,358.14 214.00,356.38 218.63,352.85 225.58,349.32 230.21,348.44 237.16,343.68" fill="none" stroke="#3db43a" stroke-width="0.55" stroke-linejoin="round"/>
<rect x="185.44" y="376.78" width="1.53" height="1.53" fill="#3db43a" stroke="none" stroke-width="0.5"/>
<rect x="190.84" y="370.61" width="1.53" height="1.53" fill="#3db43a" stroke="none" stroke-width="0.5"/>
<rect x="196.25" y="366.20" width="1.53" height="1.53" fill="#3db43a" stroke="none" stroke-width="0.5"/>
<rect x="203.97" y="361.79" width="1.53" height="1.53" fill="#3db43a" stroke="none" stroke-width="0.5"/>
<rect x="208.60" y="357.38" width="1.53" height="1.53" fill="#3db43a" stroke="none" stroke-width="0.5"/>
<rect x="213.23" y="355.61" width="1.53" height="1.53" fill="#3db43a" stroke="none" stroke-width="0.5"/>
<rect x="217.86" y="352.08" width="1.53" height="1.53" fill="#3db43a" stroke="none" stroke-width="0.5"/>
<rect x="224.81" y="348.56" width="1.53" height="1.53" fill="#3db43a" stroke="none" stroke-width="0.5"/>
<rect x="229.44" y="347.67" width="1.53" height="1.53" fill="#3db43a" stroke="none" stroke-width="0.5"/>
<rect x="236.39" y="342.91" width="1.53" height="1.53" fill="#3db43a" stroke="none" stroke-width="0.5"/>
<polyline points="186.20,379.31 191.61,375.78 197.01,373.13 202.42,375.78 207.82,377.54 213.22,378.43 218.63,379.31 224.03,377.54 229.44,376.66 236.38,374.02 251.82,356.38" fill="none" stroke="#3db43a" stroke-width="0.55" stroke-linejoin="round"/>
<rect x="185.44" y="378.54" width="1.53" height="1.53" fill="#3db43a" stroke="none" stroke-width="0.5"/>
<rect x="190.84" y="375.02" width="1.53" height="1.53" fill="#3db43a" stroke="none" stroke-width="0.5"/>
<rect x="196.25" y="372.37" width="1.53" height="1.53" fill="#3db43a" stroke="none" stroke-width="0.5"/>
<rect x="201.65" y="375.02" width="1.53" height="1.53" fill="#3db43a" stroke="none" stroke-width="0.5"/>
<rect x="207.06" y="376.78" width="1.53" height="1.53" fill="#3db43a" stroke="none" stroke-width="0.5"/>
<rect x="212.46" y="377.66" width="1.53" height="1.53" fill="#3db43a" stroke="none" stroke-width="0.5"/>
<rect x="217.86" y="378.54" width="1.53" height="1.53" fill="#3db43a" stroke="none" stroke-width="0.5"/>
<rect x="223.27" y="376.78" width="1.53" height="1.53" fill="#3db43a" stroke="none" stroke-width="0.5"/>
<rect x="228.67" y="375.90" width="1.53" height="1.53" fill="#3db43a" stroke="none" stroke-width="0.5"/>
<rect x="235.62" y="373.25" width="1.53" height="1.53" fill="#3db43a" stroke="none" stroke-width="0.5"/>
<rect x="251.06" y="355.61" width="1.53" height="1.53" fill="#3db43a" stroke="none" stroke-width="0.5"/>
<polyline points="186.20,380.19 191.61,377.54 197.01,376.66 202.42,379.31 207.82,378.43 213.22,380.19 224.03,380.19 236.38,380.19 251.82,381.07" fill="none" stroke="#3db43a" stroke-width="0.55" stroke-linejoin="round"/>
<rect x="185.44" y="379.43" width="1.53" height="1.53" fill="#3db43a" stroke="none" stroke-width="0.5"/>
<rect x="190.84" y="376.78" width="1.53" height="1.53" fill="#3db43a" stroke="none" stroke-width="0.5"/>
<rect x="196.25" y="375.90" width="1.53" height="1.53" fill="#3db43a" stroke="none" stroke-width="0.5"/>
<rect x="201.65" y="378.54" width="1.53" height="1.53" fill="#3db43a" stroke="none" stroke-width="0.5"/>
<rect x="207.06" y="377.66" width="1.53" height="1.53" fill="#3db43a" stroke="none" stroke-width="0.5"/>
<rect x="212.46" y="379.43" width="1.53" height="1.53" fill="#3db43a" stroke="none" stroke-width="0.5"/>
<rect x="223.27" y="379.43" width="1.53" height="1.53" fill="#3db43a" stroke="none" stroke-width="0.5"/>
<rect x="235.62" y="379.43" width="1.53" height="1.53" fill="#3db43a" stroke="none" stroke-width="0.5"/>
<rect x="251.06" y="380.31" width="1.53" height="1.53" fill="#3db43a" stroke="none" stroke-width="0.5"/>
<polyline points="186.20,375.78 191.61,370.49 197.01,372.25 202.42,374.02 207.82,375.78 213.22,377.54 218.63,379.31 224.80,370.49 229.44,374.90 236.38,368.28" fill="none" stroke="#3db43a" stroke-width="0.55" stroke-linejoin="round"/>
<rect x="185.44" y="375.02" width="1.53" height="1.53" fill="#3db43a" stroke="none" stroke-width="0.5"/>
<rect x="190.84" y="369.72" width="1.53" height="1.53" fill="#3db43a" stroke="none" stroke-width="0.5"/>
<rect x="196.25" y="371.49" width="1.53" height="1.53" fill="#3db43a" stroke="none" stroke-width="0.5"/>
<rect x="201.65" y="373.25" width="1.53" height="1.53" fill="#3db43a" stroke="none" stroke-width="0.5"/>
<rect x="207.06" y="375.02" width="1.53" height="1.53" fill="#3db43a" stroke="none" stroke-width="0.5"/>
<rect x="212.46" y="376.78" width="1.53" height="1.53" fill="#3db43a" stroke="none" stroke-width="0.5"/>
<rect x="217.86" y="378.54" width="1.53" height="1.53" fill="#3db43a" stroke="none" stroke-width="0.5"/>
<rect x="224.04" y="369.72" width="1.53" height="1.53" fill="#3db43a" stroke="none" stroke-width="0.5"/>
<rect x="228.67" y="374.13" width="1.53" height="1.53" fill="#3db43a" stroke="none" stroke-width="0.5"/>
<rect x="235.62" y="367.52" width="1.53" height="1.53" fill="#3db43a" stroke="none" stroke-width="0.5"/>
<polyline points="186.20,381.95 191.61,368.72 193.92,361.67 197.01,355.49 202.42,363.43 207.82,368.72 213.22,374.02 218.63,376.66" fill="none" stroke="#3db43a" stroke-width="0.55" stroke-linejoin="round"/>
<rect x="185.44" y="381.19" width="1.53" height="1.53" fill="#3db43a" stroke="none" stroke-width="0.5"/>
<rect x="190.84" y="367.96" width="1.53" height="1.53" fill="#3db43a" stroke="none" stroke-width="0.5"/>
<rect x="193.16" y="360.90" width="1.53" height="1.53" fill="#3db43a" stroke="none" stroke-width="0.5"/>
<rect x="196.25" y="354.73" width="1.53" height="1.53" fill="#3db43a" stroke="none" stroke-width="0.5"/>
<rect x="201.65" y="362.67" width="1.53" height="1.53" fill="#3db43a" stroke="none" stroke-width="0.5"/>
<rect x="207.06" y="367.96" width="1.53" height="1.53" fill="#3db43a" stroke="none" stroke-width="0.5"/>
<rect x="212.46" y="373.25" width="1.53" height="1.53" fill="#3db43a" stroke="none" stroke-width="0.5"/>
<rect x="217.86" y="375.90" width="1.53" height="1.53" fill="#3db43a" stroke="none" stroke-width="0.5"/>
<polyline points="186.20,378.43 191.61,366.96 197.01,370.49 202.42,367.84 207.82,364.31 213.22,372.25 218.63,378.43 224.03,379.31 229.44,380.19 236.38,379.31" fill="none" stroke="#3db43a" stroke-width="0.55" stroke-linejoin="round"/>
<rect x="185.44" y="377.66" width="1.53" height="1.53" fill="#3db43a" stroke="none" stroke-width="0.5"/>
<rect x="190.84" y="366.20" width="1.53" height="1.53" fill="#3db43a" stroke="none" stroke-width="0.5"/>
<rect x="196.25" y="369.72" width="1.53" height="1.53" fill="#3db43a" stroke="none" stroke-width="0.5"/>
<rect x="201.65" y="367.08" width="1.53" height="1.53" fill="#3db43a" stroke="none" stroke-width="0.5"/>
<rect x="207.06" y="363.55" width="1.53" height="1.53" fill="#3db43a" stroke="none" stroke-width="0.5"/>
<rect x="212.46" y="371.49" width="1.53" height="1.53" fill="#3db43a" stroke="none" stroke-width="0.5"/>
<rect x="217.86" y="377.66" width="1.53" height="1.53" fill="#3db43a" stroke="none" stroke-width="0.5"/>
<rect x="223.27" y="378.54" width="1.53" height="1.53" fill="#3db43a" stroke="none" stroke-width="0.5"/>
<rect x="228.67" y="379.43" width="1.53" height="1.53" fill="#3db43a" stroke="none" stroke-width="0.5"/>
<rect x="235.62" y="378.54" width="1.53" height="1.53" fill="#3db43a" stroke="none" stroke-width="0.5"/>
<polyline points="186.20,376.66 191.61,374.02 197.01,366.08 202.42,361.67 207.82,373.13 213.22,376.66 218.63,379.31" fill="none" stroke="#3db43a" stroke-width="0.55" stroke-linejoin="round"/>
<rect x="185.44" y="375.90" width="1.53" height="1.53" fill="#3db43a" stroke="none" stroke-width="0.5"/>
<rect x="190.84" y="373.25" width="1.53" height="1.53" fill="#3db43a" stroke="none" stroke-width="0.5"/>
<rect x="196.25" y="365.31" width="1.53" height="1.53" fill="#3db43a" stroke="none" stroke-width="0.5"/>
<rect x="201.65" y="360.90" width="1.53" height="1.53" fill="#3db43a" stroke="none" stroke-width="0.5"/>
<rect x="207.06" y="372.37" width="1.53" height="1.53" fill="#3db43a" stroke="none" stroke-width="0.5"/>
<rect x="212.46" y="375.90" width="1.53" height="1.53" fill="#3db43a" stroke="none" stroke-width="0.5"/>
<rect x="217.86" y="378.54" width="1.53" height="1.53" fill="#3db43a" stroke="none" stroke-width="0.5"/>
<polyline points="186.20,381.07 191.61,376.66 197.01,374.02 202.42,367.84 207.82,363.43 213.22,366.08 218.63,374.02 224.03,377.54 229.44,379.31" fill="none" stroke="#3db43a" stroke-width="0.55" stroke-linejoin="round"/>
<rect x="185.44" y="380.31" width="1.53" height="1.53" fill="#3db43a" stroke="none" stroke-width="0.5"/>
<rect x="190.84" y="375.90" width="1.53" height="1.53" fill="#3db43a" stroke="none" stroke-width="0.5"/>
<rect x="196.25" y="373.25" width="1.53" height="1.53" fill="#3db43a" stroke="none" stroke-width="0.5"/>
<rect x="201.65" y="367.08" width="1.53" height="1.53" fill="#3db43a" stroke="none" stroke-width="0.5"/>
<rect x="207.06" y="362.67" width="1.53" height="1.53" fill="#3db43a" stroke="none" stroke-width="0.5"/>
<rect x="212.46" y="365.31" width="1.53" height="1.53" fill="#3db43a" stroke="none" stroke-width="0.5"/>
<rect x="217.86" y="373.25" width="1.53" height="1.53" fill="#3db43a" stroke="none" stroke-width="0.5"/>
<rect x="223.27" y="376.78" width="1.53" height="1.53" fill="#3db43a" stroke="none" stroke-width="0.5"/>
<rect x="228.67" y="378.54" width="1.53" height="1.53" fill="#3db43a" stroke="none" stroke-width="0.5"/>
<polyline points="186.20,372.25 191.61,374.90 197.01,377.54 202.42,379.31 207.82,380.19 213.22,379.31 218.63,380.19" fill="none" stroke="#3db43a" stroke-width="0.55" stroke-linejoin="round"/>
<rect x="185.44" y="371.49" width="1.53" height="1.53" fill="#3db43a" stroke="none" stroke-width="0.5"/>
<rect x="190.84" y="374.13" width="1.53" height="1.53" fill="#3db43a" stroke="none" stroke-width="0.5"/>
<rect x="196.25" y="376.78" width="1.53" height="1.53" fill="#3db43a" stroke="none" stroke-width="0.5"/>
<rect x="201.65" y="378.54" width="1.53" height="1.53" fill="#3db43a" stroke="none" stroke-width="0.5"/>
<rect x="207.06" y="379.43" width="1.53" height="1.53" fill="#3db43a" stroke="none" stroke-width="0.5"/>
<rect x="212.46" y="378.54" width="1.53" height="1.53" fill="#3db43a" stroke="none" stroke-width="0.5"/>
<rect x="217.86" y="379.43" width="1.53" height="1.53" fill="#3db43a" stroke="none" stroke-width="0.5"/>
<polyline points="186.20,382.84 191.61,379.31 197.01,377.54 202.42,370.49 207.82,366.96 213.22,371.37 218.63,375.78 224.03,374.90 229.44,373.13 236.38,375.78" fill="none" stroke="#3db43a" stroke-width="0.55" stroke-linejoin="round"/>
<rect x="185.44" y="382.07" width="1.53" height="1.53" fill="#3db43a" stroke="none" stroke-width="0.5"/>
<rect x="190.84" y="378.54" width="1.53" height="1.53" fill="#3db43a" stroke="none" stroke-width="0.5"/>
<rect x="196.25" y="376.78" width="1.53" height="1.53" fill="#3db43a" stroke="none" stroke-width="0.5"/>
<rect x="201.65" y="369.72" width="1.53" height="1.53" fill="#3db43a" stroke="none" stroke-width="0.5"/>
<rect x="207.06" y="366.20" width="1.53" height="1.53" fill="#3db43a" stroke="none" stroke-width="0.5"/>
<rect x="212.46" y="370.61" width="1.53" height="1.53" fill="#3db43a" stroke="none" stroke-width="0.5"/>
<rect x="217.86" y="375.02" width="1.53" height="1.53" fill="#3db43a" stroke="none" stroke-width="0.5"/>
<rect x="223.27" y="374.13" width="1.53" height="1.53" fill="#3db43a" stroke="none" stroke-width="0.5"/>
<rect x="228.67" y="372.37" width="1.53" height="1.53" fill="#3db43a" stroke="none" stroke-width="0.5"/>
<rect x="235.62" y="375.02" width="1.53" height="1.53" fill="#3db43a" stroke="none" stroke-width="0.5"/>
<polyline points="186.20,370.49 191.61,369.61 197.01,372.25 202.42,375.78 207.82,376.66 213.22,379.31 218.63,381.07" fill="none" stroke="#3db43a" stroke-width="0.55" stroke-linejoin="round"/>
<rect x="185.44" y="369.72" width="1.53" height="1.53" fill="#3db43a" stroke="none" stroke-width="0.5"/>
<rect x="190.84" y="368.84" width="1.53" height="1.53" fill="#3db43a" stroke="none" stroke-width="0.5"/>
<rect x="196.25" y="371.49" width="1.53" height="1.53" fill="#3db43a" stroke="none" stroke-width="0.5"/>
<rect x="201.65" y="375.02" width="1.53" height="1.53" fill="#3db43a" stroke="none" stroke-width="0.5"/>
<rect x="207.06" y="375.90" width="1.53" height="1.53" fill="#3db43a" stroke="none" stroke-width="0.5"/>
<rect x="212.46" y="378.54" width="1.53" height="1.53" fill="#3db43a" stroke="none" stroke-width="0.5"/>
<rect x="217.86" y="380.31" width="1.53" height="1.53" fill="#3db43a" stroke="none" stroke-width="0.5"/>
<polyline points="186.20,379.31 191.61,372.25 197.01,367.84 202.42,373.13 207.82,370.49 213.22,369.61 218.63,372.25 224.03,376.66 229.44,377.54 236.38,378.43" fill="none" stroke="#3db43a" stroke-width="0.55" stroke-linejoin="round"/>
<rect x="185.44" y="378.54" width="1.53" height="1.53" fill="#3db43a" stroke="none" stroke-width="0.5"/>
<rect x="190.84" y="371.49" width="1.53" height="1.53" fill="#3db43a" stroke="none" stroke-width="0.5"/>
<rect x="196.25" y="367.08" width="1.53" height="1.53" fill="#3db43a" stroke="none" stroke-width="0.5"/>
<rect x="201.65" y="372.37" width="1.53" height="1.53" fill="#3db43a" stroke="none" stroke-width="0.5"/>
<rect x="207.06" y="369.72" width="1.53" height="1.53" fill="#3db43a" stroke="none" stroke-width="0.5"/>
<rect x="212.46" y="368.84" width="1.53" height="1.53" fill="#3db43a" stroke="none" stroke-width="0.5"/>
<rect x="217.86" y="371.49" width="1.53" height="1.53" fill="#3db43a" stroke="none" stroke-width="0.5"/>
<rect x="223.27" y="375.90" width="1.53" height="1.53" fill="#3db43a" stroke="none" stroke-width="0.5"/>
<rect x="228.67" y="376.78" width="1.53" height="1.53" fill="#3db43a" stroke="none" stroke-width="0.5"/>
<rect x="235.62" y="377.66" width="1.53" height="1.53" fill="#3db43a" stroke="none" stroke-width="0.5"/>
<polyline points="186.20,381.95 191.61,380.19 197.01,381.07 202.42,380.19 207.82,379.31 213.22,381.07 218.63,380.19" fill="none" stroke="#3db43a" stroke-width="0.55" stroke-linejoin="round"/>
<rect x="185.44" y="381.19" width="1.53" height="1.53" fill="#3db43a" stroke="none" stroke-width="0.5"/>
<rect x="190.84" y="379.43" width="1.53" height="1.53" fill="#3db43a" stroke="none" stroke-width="0.5"/>
<rect x="196.25" y="380.31" width="1.53" height="1.53" fill="#3db43a" stroke="none" stroke-width="0.5"/>
<rect x="201.65" y="379.43" width="1.53" height="1.53" fill="#3db43a" stroke="none" stroke-width="0.5"/>
<rect x="207.06" y="378.54" width="1.53" height="1.53" fill="#3db43a" stroke="none" stroke-width="0.5"/>
<rect x="212.46" y="380.31" width="1.53" height="1.53" fill="#3db43a" stroke="none" stroke-width="0.5"/>
<rect x="217.86" y="379.43" width="1.53" height="1.53" fill="#3db43a" stroke="none" stroke-width="0.5"/>
<polyline points="186.20,377.54 191.61,364.31 197.01,366.96 202.42,371.37 207.82,374.02 213.22,375.78" fill="none" stroke="#3db43a" stroke-width="0.55" stroke-linejoin="round"/>
<rect x="185.44" y="376.78" width="1.53" height="1.53" fill="#3db43a" stroke="none" stroke-width="0.5"/>
<rect x="190.84" y="363.55" width="1.53" height="1.53" fill="#3db43a" stroke="none" stroke-width="0.5"/>
<rect x="196.25" y="366.20" width="1.53" height="1.53" fill="#3db43a" stroke="none" stroke-width="0.5"/>
<rect x="201.65" y="370.61" width="1.53" height="1.53" fill="#3db43a" stroke="none" stroke-width="0.5"/>
<rect x="207.06" y="373.25" width="1.53" height="1.53" fill="#3db43a" stroke="none" stroke-width="0.5"/>
<rect x="212.46" y="375.02" width="1.53" height="1.53" fill="#3db43a" stroke="none" stroke-width="0.5"/>
<polyline points="186.20,374.90 191.61,376.66 197.01,374.90 202.42,365.20 207.82,358.14 213.22,355.49 218.63,353.73" fill="none" stroke="#3db43a" stroke-width="0.55" stroke-linejoin="round"/>
<rect x="185.44" y="374.13" width="1.53" height="1.53" fill="#3db43a" stroke="none" stroke-width="0.5"/>
<rect x="190.84" y="375.90" width="1.53" height="1.53" fill="#3db43a" stroke="none" stroke-width="0.5"/>
<rect x="196.25" y="374.13" width="1.53" height="1.53" fill="#3db43a" stroke="none" stroke-width="0.5"/>
<rect x="201.65" y="364.43" width="1.53" height="1.53" fill="#3db43a" stroke="none" stroke-width="0.5"/>
<rect x="207.06" y="357.38" width="1.53" height="1.53" fill="#3db43a" stroke="none" stroke-width="0.5"/>
<rect x="212.46" y="354.73" width="1.53" height="1.53" fill="#3db43a" stroke="none" stroke-width="0.5"/>
<rect x="217.86" y="352.97" width="1.53" height="1.53" fill="#3db43a" stroke="none" stroke-width="0.5"/>
<polyline points="186.20,380.19 191.61,374.90 197.01,370.49 202.42,376.66 207.82,379.31 213.22,380.19" fill="none" stroke="#3db43a" stroke-width="0.55" stroke-linejoin="round"/>
<rect x="185.44" y="379.43" width="1.53" height="1.53" fill="#3db43a" stroke="none" stroke-width="0.5"/>
<rect x="190.84" y="374.13" width="1.53" height="1.53" fill="#3db43a" stroke="none" stroke-width="0.5"/>
<rect x="196.25" y="369.72" width="1.53" height="1.53" fill="#3db43a" stroke="none" stroke-width="0.5"/>
<rect x="201.65" y="375.90" width="1.53" height="1.53" fill="#3db43a" stroke="none" stroke-width="0.5"/>
<rect x="207.06" y="378.54" width="1.53" height="1.53" fill="#3db43a" stroke="none" stroke-width="0.5"/>
<rect x="212.46" y="379.43" width="1.53" height="1.53" fill="#3db43a" stroke="none" stroke-width="0.5"/>
<line x1="180.50" y1="330.48" x2="180.50" y2="385.10" stroke="#1a1a1a" stroke-width="1.0"/>
<line x1="177.70" y1="384.60" x2="180.50" y2="384.60" stroke="#1a1a1a" stroke-width="0.8"/>
<text x="174.60" y="386.40" font-size="6.1" fill="#222" text-anchor="end">10<tspan font-size="3.90" dy="-3.05">5</tspan></text>
<line x1="177.70" y1="375.78" x2="180.50" y2="375.78" stroke="#1a1a1a" stroke-width="0.8"/>
<text x="174.60" y="377.58" font-size="6.1" fill="#222" text-anchor="end">10<tspan font-size="3.90" dy="-3.05">6</tspan></text>
<line x1="177.70" y1="366.96" x2="180.50" y2="366.96" stroke="#1a1a1a" stroke-width="0.8"/>
<text x="174.60" y="368.76" font-size="6.1" fill="#222" text-anchor="end">10<tspan font-size="3.90" dy="-3.05">7</tspan></text>
<line x1="177.70" y1="358.14" x2="180.50" y2="358.14" stroke="#1a1a1a" stroke-width="0.8"/>
<text x="174.60" y="359.94" font-size="6.1" fill="#222" text-anchor="end">10<tspan font-size="3.90" dy="-3.05">8</tspan></text>
<line x1="177.70" y1="349.32" x2="180.50" y2="349.32" stroke="#1a1a1a" stroke-width="0.8"/>
<text x="174.60" y="351.12" font-size="6.1" fill="#222" text-anchor="end">10<tspan font-size="3.90" dy="-3.05">9</tspan></text>
<line x1="177.70" y1="340.50" x2="180.50" y2="340.50" stroke="#1a1a1a" stroke-width="0.8"/>
<text x="174.60" y="342.30" font-size="6.1" fill="#222" text-anchor="end">10<tspan font-size="3.90" dy="-3.05">10</tspan></text>
<line x1="177.70" y1="331.68" x2="180.50" y2="331.68" stroke="#1a1a1a" stroke-width="0.8"/>
<text x="174.60" y="333.48" font-size="6.1" fill="#222" text-anchor="end">10<tspan font-size="3.90" dy="-3.05">11</tspan></text>
<line x1="180.00" y1="384.50" x2="261.50" y2="384.50" stroke="#1a1a1a" stroke-width="1.0"/>
<line x1="180.80" y1="384.50" x2="180.80" y2="387.30" stroke="#1a1a1a" stroke-width="0.8"/>
<text x="180.80" y="396.70" font-size="6.1" fill="#222" text-anchor="middle">0</text>
<line x1="196.24" y1="384.50" x2="196.24" y2="387.30" stroke="#1a1a1a" stroke-width="0.8"/>
<text x="196.24" y="396.70" font-size="6.1" fill="#222" text-anchor="middle">20</text>
<line x1="211.68" y1="384.50" x2="211.68" y2="387.30" stroke="#1a1a1a" stroke-width="0.8"/>
<text x="211.68" y="396.70" font-size="6.1" fill="#222" text-anchor="middle">40</text>
<line x1="227.12" y1="384.50" x2="227.12" y2="387.30" stroke="#1a1a1a" stroke-width="0.8"/>
<text x="227.12" y="396.70" font-size="6.1" fill="#222" text-anchor="middle">60</text>
<line x1="242.56" y1="384.50" x2="242.56" y2="387.30" stroke="#1a1a1a" stroke-width="0.8"/>
<text x="242.56" y="396.70" font-size="6.1" fill="#222" text-anchor="middle">80</text>
<line x1="258.00" y1="384.50" x2="258.00" y2="387.30" stroke="#1a1a1a" stroke-width="0.8"/>
<text x="258.00" y="396.70" font-size="6.1" fill="#222" text-anchor="middle">100</text>
<text x="221.60" y="323.50" font-size="7.8" fill="#222" text-anchor="middle" textLength="64.20" lengthAdjust="spacingAndGlyphs">APRIL-28BB-1XX</text>
<text x="221.90" y="406.80" font-size="7.4" fill="#222" text-anchor="middle" textLength="48.80" lengthAdjust="spacingAndGlyphs">Days after tumor</text>
<text x="147.20" y="357.50" font-size="7.3" fill="#222" text-anchor="middle" textLength="61.00" lengthAdjust="spacingAndGlyphs" transform="rotate(-90 147.20 357.50)">Tumor luminescence</text>
<text x="157.40" y="356.60" font-size="7.3" fill="#222" text-anchor="middle" textLength="34.20" lengthAdjust="spacingAndGlyphs" transform="rotate(-90 157.40 356.60)">(photons/s)</text>
<polyline points="52.86,486.76 56.05,474.14 60.81,466.75 64.39,458.92 71.15,453.00" fill="none" stroke="#5e2580" stroke-width="0.55" stroke-linejoin="round"/>
<polygon points="52.86,485.77 51.96,487.39 53.76,487.39" fill="#5e2580"/>
<polygon points="56.05,473.15 55.15,474.77 56.95,474.77" fill="#5e2580"/>
<polygon points="60.81,465.76 59.91,467.38 61.71,467.38" fill="#5e2580"/>
<polygon points="64.39,457.93 63.49,459.55 65.29,459.55" fill="#5e2580"/>
<polygon points="71.15,452.01 70.25,453.63 72.05,453.63" fill="#5e2580"/>
<polyline points="52.86,490.24 58.43,478.06 60.81,471.10 64.79,465.88 71.15,462.40 76.72,456.31" fill="none" stroke="#5e2580" stroke-width="0.55" stroke-linejoin="round"/>
<polygon points="52.86,489.25 51.96,490.87 53.76,490.87" fill="#5e2580"/>
<polygon points="58.43,477.07 57.53,478.69 59.33,478.69" fill="#5e2580"/>
<polygon points="60.81,470.11 59.91,471.73 61.71,471.73" fill="#5e2580"/>
<polygon points="64.79,464.89 63.89,466.51 65.69,466.51" fill="#5e2580"/>
<polygon points="71.15,461.41 70.25,463.03 72.05,463.03" fill="#5e2580"/>
<polygon points="76.72,455.32 75.81,456.94 77.62,456.94" fill="#5e2580"/>
<polyline points="52.86,488.50 58.43,477.19 63.99,474.58 69.56,475.45 75.92,471.10 86.25,452.57" fill="none" stroke="#5e2580" stroke-width="0.55" stroke-linejoin="round"/>
<polygon points="52.86,487.51 51.96,489.13 53.76,489.13" fill="#5e2580"/>
<polygon points="58.43,476.20 57.53,477.82 59.33,477.82" fill="#5e2580"/>
<polygon points="63.99,473.59 63.09,475.21 64.89,475.21" fill="#5e2580"/>
<polygon points="69.56,474.46 68.66,476.08 70.46,476.08" fill="#5e2580"/>
<polygon points="75.92,470.11 75.02,471.73 76.82,471.73" fill="#5e2580"/>
<polygon points="86.25,451.58 85.35,453.20 87.16,453.20" fill="#5e2580"/>
<polyline points="52.86,493.72 58.43,480.67 63.99,478.06 69.56,476.32 75.12,477.19 80.69,479.80 86.25,462.40 91.03,462.40" fill="none" stroke="#5e2580" stroke-width="0.55" stroke-linejoin="round"/>
<polygon points="52.86,492.73 51.96,494.35 53.76,494.35" fill="#5e2580"/>
<polygon points="58.43,479.68 57.53,481.30 59.33,481.30" fill="#5e2580"/>
<polygon points="63.99,477.07 63.09,478.69 64.89,478.69" fill="#5e2580"/>
<polygon points="69.56,475.33 68.66,476.95 70.46,476.95" fill="#5e2580"/>
<polygon points="75.12,476.20 74.22,477.82 76.03,477.82" fill="#5e2580"/>
<polygon points="80.69,478.81 79.79,480.43 81.59,480.43" fill="#5e2580"/>
<polygon points="86.25,461.41 85.35,463.03 87.16,463.03" fill="#5e2580"/>
<polygon points="91.03,461.41 90.12,463.03 91.93,463.03" fill="#5e2580"/>
<polyline points="52.86,491.98 58.43,475.45 63.99,479.80 69.56,485.89 75.12,488.50 80.69,487.63 86.25,484.15 91.03,476.32" fill="none" stroke="#5e2580" stroke-width="0.55" stroke-linejoin="round"/>
<polygon points="52.86,490.99 51.96,492.61 53.76,492.61" fill="#5e2580"/>
<polygon points="58.43,474.46 57.53,476.08 59.33,476.08" fill="#5e2580"/>
<polygon points="63.99,478.81 63.09,480.43 64.89,480.43" fill="#5e2580"/>
<polygon points="69.56,484.90 68.66,486.52 70.46,486.52" fill="#5e2580"/>
<polygon points="75.12,487.51 74.22,489.13 76.03,489.13" fill="#5e2580"/>
<polygon points="80.69,486.64 79.79,488.26 81.59,488.26" fill="#5e2580"/>
<polygon points="86.25,483.16 85.35,484.78 87.16,484.78" fill="#5e2580"/>
<polygon points="91.03,475.33 90.12,476.95 91.93,476.95" fill="#5e2580"/>
<polyline points="52.86,485.02 58.43,474.58 63.99,470.23 69.24,470.23 74.33,469.36" fill="none" stroke="#5e2580" stroke-width="0.55" stroke-linejoin="round"/>
<polygon points="52.86,484.03 51.96,485.65 53.76,485.65" fill="#5e2580"/>
<polygon points="58.43,473.59 57.53,475.21 59.33,475.21" fill="#5e2580"/>
<polygon points="63.99,469.24 63.09,470.86 64.89,470.86" fill="#5e2580"/>
<polygon points="69.24,469.24 68.34,470.86 70.14,470.86" fill="#5e2580"/>
<polygon points="74.33,468.37 73.43,469.99 75.23,469.99" fill="#5e2580"/>
<polyline points="52.86,494.59 58.43,486.76 63.99,488.50 69.56,492.85 75.12,493.72 80.69,493.72 86.25,492.85 91.82,494.59 97.38,493.72 104.54,492.85" fill="none" stroke="#5e2580" stroke-width="0.55" stroke-linejoin="round"/>
<polygon points="52.86,493.60 51.96,495.22 53.76,495.22" fill="#5e2580"/>
<polygon points="58.43,485.77 57.53,487.39 59.33,487.39" fill="#5e2580"/>
<polygon points="63.99,487.51 63.09,489.13 64.89,489.13" fill="#5e2580"/>
<polygon points="69.56,491.86 68.66,493.48 70.46,493.48" fill="#5e2580"/>
<polygon points="75.12,492.73 74.22,494.35 76.03,494.35" fill="#5e2580"/>
<polygon points="80.69,492.73 79.79,494.35 81.59,494.35" fill="#5e2580"/>
<polygon points="86.25,491.86 85.35,493.48 87.16,493.48" fill="#5e2580"/>
<polygon points="91.82,493.60 90.92,495.22 92.72,495.22" fill="#5e2580"/>
<polygon points="97.38,492.73 96.48,494.35 98.28,494.35" fill="#5e2580"/>
<polygon points="104.54,491.86 103.64,493.48 105.44,493.48" fill="#5e2580"/>
<polyline points="52.86,491.11 58.43,478.93 63.99,483.28 69.56,488.50 75.12,490.24 80.69,491.98 86.25,492.85 91.82,491.98 97.38,491.11 104.54,491.11" fill="none" stroke="#5e2580" stroke-width="0.55" stroke-linejoin="round"/>
<polygon points="52.86,490.12 51.96,491.74 53.76,491.74" fill="#5e2580"/>
<polygon points="58.43,477.94 57.53,479.56 59.33,479.56" fill="#5e2580"/>
<polygon points="63.99,482.29 63.09,483.91 64.89,483.91" fill="#5e2580"/>
<polygon points="69.56,487.51 68.66,489.13 70.46,489.13" fill="#5e2580"/>
<polygon points="75.12,489.25 74.22,490.87 76.03,490.87" fill="#5e2580"/>
<polygon points="80.69,490.99 79.79,492.61 81.59,492.61" fill="#5e2580"/>
<polygon points="86.25,491.86 85.35,493.48 87.16,493.48" fill="#5e2580"/>
<polygon points="91.82,490.99 90.92,492.61 92.72,492.61" fill="#5e2580"/>
<polygon points="97.38,490.12 96.48,491.74 98.28,491.74" fill="#5e2580"/>
<polygon points="104.54,490.12 103.64,491.74 105.44,491.74" fill="#5e2580"/>
<polyline points="52.86,489.37 55.25,481.54 58.43,476.32 63.99,477.19 69.56,479.80 75.12,480.67 80.69,488.50 86.25,491.98 91.82,493.72 97.38,493.72 104.54,494.59" fill="none" stroke="#5e2580" stroke-width="0.55" stroke-linejoin="round"/>
<polygon points="52.86,488.38 51.96,490.00 53.76,490.00" fill="#5e2580"/>
<polygon points="55.25,480.55 54.35,482.17 56.15,482.17" fill="#5e2580"/>
<polygon points="58.43,475.33 57.53,476.95 59.33,476.95" fill="#5e2580"/>
<polygon points="63.99,476.20 63.09,477.82 64.89,477.82" fill="#5e2580"/>
<polygon points="69.56,478.81 68.66,480.43 70.46,480.43" fill="#5e2580"/>
<polygon points="75.12,479.68 74.22,481.30 76.03,481.30" fill="#5e2580"/>
<polygon points="80.69,487.51 79.79,489.13 81.59,489.13" fill="#5e2580"/>
<polygon points="86.25,490.99 85.35,492.61 87.16,492.61" fill="#5e2580"/>
<polygon points="91.82,492.73 90.92,494.35 92.72,494.35" fill="#5e2580"/>
<polygon points="97.38,492.73 96.48,494.35 98.28,494.35" fill="#5e2580"/>
<polygon points="104.54,493.60 103.64,495.22 105.44,495.22" fill="#5e2580"/>
<polyline points="52.86,483.28 58.43,479.80 63.99,485.02 69.56,487.63 75.12,491.98 80.69,492.85 86.25,493.72" fill="none" stroke="#5e2580" stroke-width="0.55" stroke-linejoin="round"/>
<polygon points="52.86,482.29 51.96,483.91 53.76,483.91" fill="#5e2580"/>
<polygon points="58.43,478.81 57.53,480.43 59.33,480.43" fill="#5e2580"/>
<polygon points="63.99,484.03 63.09,485.65 64.89,485.65" fill="#5e2580"/>
<polygon points="69.56,486.64 68.66,488.26 70.46,488.26" fill="#5e2580"/>
<polygon points="75.12,490.99 74.22,492.61 76.03,492.61" fill="#5e2580"/>
<polygon points="80.69,491.86 79.79,493.48 81.59,493.48" fill="#5e2580"/>
<polygon points="86.25,492.73 85.35,494.35 87.16,494.35" fill="#5e2580"/>
<polyline points="52.86,492.85 58.43,490.24 63.99,484.15 69.56,478.93 75.12,478.06 80.69,483.28 86.25,489.37 91.82,492.85" fill="none" stroke="#5e2580" stroke-width="0.55" stroke-linejoin="round"/>
<polygon points="52.86,491.86 51.96,493.48 53.76,493.48" fill="#5e2580"/>
<polygon points="58.43,489.25 57.53,490.87 59.33,490.87" fill="#5e2580"/>
<polygon points="63.99,483.16 63.09,484.78 64.89,484.78" fill="#5e2580"/>
<polygon points="69.56,477.94 68.66,479.56 70.46,479.56" fill="#5e2580"/>
<polygon points="75.12,477.07 74.22,478.69 76.03,478.69" fill="#5e2580"/>
<polygon points="80.69,482.29 79.79,483.91 81.59,483.91" fill="#5e2580"/>
<polygon points="86.25,488.38 85.35,490.00 87.16,490.00" fill="#5e2580"/>
<polygon points="91.82,491.86 90.92,493.48 92.72,493.48" fill="#5e2580"/>
<polyline points="52.86,488.50 58.43,484.15 63.99,491.11 69.56,493.72 75.12,494.59" fill="none" stroke="#5e2580" stroke-width="0.55" stroke-linejoin="round"/>
<polygon points="52.86,487.51 51.96,489.13 53.76,489.13" fill="#5e2580"/>
<polygon points="58.43,483.16 57.53,484.78 59.33,484.78" fill="#5e2580"/>
<polygon points="63.99,490.12 63.09,491.74 64.89,491.74" fill="#5e2580"/>
<polygon points="69.56,492.73 68.66,494.35 70.46,494.35" fill="#5e2580"/>
<polygon points="75.12,493.60 74.22,495.22 76.03,495.22" fill="#5e2580"/>
<polyline points="52.86,495.46 58.43,492.85 63.99,489.37 69.56,491.98 75.12,490.24 80.69,492.85 86.25,493.72 91.82,494.59 104.54,494.59" fill="none" stroke="#5e2580" stroke-width="0.55" stroke-linejoin="round"/>
<polygon points="52.86,494.47 51.96,496.09 53.76,496.09" fill="#5e2580"/>
<polygon points="58.43,491.86 57.53,493.48 59.33,493.48" fill="#5e2580"/>
<polygon points="63.99,488.38 63.09,490.00 64.89,490.00" fill="#5e2580"/>
<polygon points="69.56,490.99 68.66,492.61 70.46,492.61" fill="#5e2580"/>
<polygon points="75.12,489.25 74.22,490.87 76.03,490.87" fill="#5e2580"/>
<polygon points="80.69,491.86 79.79,493.48 81.59,493.48" fill="#5e2580"/>
<polygon points="86.25,492.73 85.35,494.35 87.16,494.35" fill="#5e2580"/>
<polygon points="91.82,493.60 90.92,495.22 92.72,495.22" fill="#5e2580"/>
<polygon points="104.54,493.60 103.64,495.22 105.44,495.22" fill="#5e2580"/>
<polyline points="52.86,485.89 58.43,477.19 63.99,480.67 69.56,484.15 75.12,486.76 80.69,488.50 86.25,490.24 91.82,491.98 97.38,492.85 104.54,493.72" fill="none" stroke="#5e2580" stroke-width="0.55" stroke-linejoin="round"/>
<polygon points="52.86,484.90 51.96,486.52 53.76,486.52" fill="#5e2580"/>
<polygon points="58.43,476.20 57.53,477.82 59.33,477.82" fill="#5e2580"/>
<polygon points="63.99,479.68 63.09,481.30 64.89,481.30" fill="#5e2580"/>
<polygon points="69.56,483.16 68.66,484.78 70.46,484.78" fill="#5e2580"/>
<polygon points="75.12,485.77 74.22,487.39 76.03,487.39" fill="#5e2580"/>
<polygon points="80.69,487.51 79.79,489.13 81.59,489.13" fill="#5e2580"/>
<polygon points="86.25,489.25 85.35,490.87 87.16,490.87" fill="#5e2580"/>
<polygon points="91.82,490.99 90.92,492.61 92.72,492.61" fill="#5e2580"/>
<polygon points="97.38,491.86 96.48,493.48 98.28,493.48" fill="#5e2580"/>
<polygon points="104.54,492.73 103.64,494.35 105.44,494.35" fill="#5e2580"/>
<polyline points="52.86,491.98 58.43,488.50 63.99,486.76 69.56,488.50 75.12,491.98" fill="none" stroke="#5e2580" stroke-width="0.55" stroke-linejoin="round"/>
<polygon points="52.86,490.99 51.96,492.61 53.76,492.61" fill="#5e2580"/>
<polygon points="58.43,487.51 57.53,489.13 59.33,489.13" fill="#5e2580"/>
<polygon points="63.99,485.77 63.09,487.39 64.89,487.39" fill="#5e2580"/>
<polygon points="69.56,487.51 68.66,489.13 70.46,489.13" fill="#5e2580"/>
<polygon points="75.12,490.99 74.22,492.61 76.03,492.61" fill="#5e2580"/>
<line x1="46.50" y1="443.80" x2="46.50" y2="497.70" stroke="#1a1a1a" stroke-width="1.0"/>
<line x1="43.70" y1="497.20" x2="46.50" y2="497.20" stroke="#1a1a1a" stroke-width="0.8"/>
<text x="40.90" y="499.00" font-size="6.1" fill="#222" text-anchor="end">10<tspan font-size="3.90" dy="-3.05">5</tspan></text>
<line x1="43.70" y1="488.50" x2="46.50" y2="488.50" stroke="#1a1a1a" stroke-width="0.8"/>
<text x="40.90" y="490.30" font-size="6.1" fill="#222" text-anchor="end">10<tspan font-size="3.90" dy="-3.05">6</tspan></text>
<line x1="43.70" y1="479.80" x2="46.50" y2="479.80" stroke="#1a1a1a" stroke-width="0.8"/>
<text x="40.90" y="481.60" font-size="6.1" fill="#222" text-anchor="end">10<tspan font-size="3.90" dy="-3.05">7</tspan></text>
<line x1="43.70" y1="471.10" x2="46.50" y2="471.10" stroke="#1a1a1a" stroke-width="0.8"/>
<text x="40.90" y="472.90" font-size="6.1" fill="#222" text-anchor="end">10<tspan font-size="3.90" dy="-3.05">8</tspan></text>
<line x1="43.70" y1="462.40" x2="46.50" y2="462.40" stroke="#1a1a1a" stroke-width="0.8"/>
<text x="40.90" y="464.20" font-size="6.1" fill="#222" text-anchor="end">10<tspan font-size="3.90" dy="-3.05">9</tspan></text>
<line x1="43.70" y1="453.70" x2="46.50" y2="453.70" stroke="#1a1a1a" stroke-width="0.8"/>
<text x="40.90" y="455.50" font-size="6.1" fill="#222" text-anchor="end">10<tspan font-size="3.90" dy="-3.05">10</tspan></text>
<line x1="43.70" y1="445.00" x2="46.50" y2="445.00" stroke="#1a1a1a" stroke-width="0.8"/>
<text x="40.90" y="446.80" font-size="6.1" fill="#222" text-anchor="end">10<tspan font-size="3.90" dy="-3.05">11</tspan></text>
<line x1="46.00" y1="497.50" x2="130.30" y2="497.50" stroke="#1a1a1a" stroke-width="1.0"/>
<line x1="47.30" y1="497.50" x2="47.30" y2="500.30" stroke="#1a1a1a" stroke-width="0.8"/>
<text x="47.30" y="509.30" font-size="6.1" fill="#222" text-anchor="middle">0</text>
<line x1="63.20" y1="497.50" x2="63.20" y2="500.30" stroke="#1a1a1a" stroke-width="0.8"/>
<text x="63.20" y="509.30" font-size="6.1" fill="#222" text-anchor="middle">20</text>
<line x1="79.10" y1="497.50" x2="79.10" y2="500.30" stroke="#1a1a1a" stroke-width="0.8"/>
<text x="79.10" y="509.30" font-size="6.1" fill="#222" text-anchor="middle">40</text>
<line x1="95.00" y1="497.50" x2="95.00" y2="500.30" stroke="#1a1a1a" stroke-width="0.8"/>
<text x="95.00" y="509.30" font-size="6.1" fill="#222" text-anchor="middle">60</text>
<line x1="110.90" y1="497.50" x2="110.90" y2="500.30" stroke="#1a1a1a" stroke-width="0.8"/>
<text x="110.90" y="509.30" font-size="6.1" fill="#222" text-anchor="middle">80</text>
<line x1="126.80" y1="497.50" x2="126.80" y2="500.30" stroke="#1a1a1a" stroke-width="0.8"/>
<text x="126.80" y="509.30" font-size="6.1" fill="#222" text-anchor="middle">100</text>
<text x="88.20" y="437.00" font-size="7.8" fill="#222" text-anchor="middle" textLength="54.00" lengthAdjust="spacingAndGlyphs">APRIL-BB-1XX</text>
<text x="88.10" y="520.80" font-size="7.4" fill="#222" text-anchor="middle" textLength="48.80" lengthAdjust="spacingAndGlyphs">Days after tumor</text>
<text x="13.80" y="470.50" font-size="7.3" fill="#222" text-anchor="middle" textLength="61.00" lengthAdjust="spacingAndGlyphs" transform="rotate(-90 13.80 470.50)">Tumor luminescence</text>
<text x="23.60" y="469.80" font-size="7.3" fill="#222" text-anchor="middle" textLength="34.20" lengthAdjust="spacingAndGlyphs" transform="rotate(-90 23.60 469.80)">(photons/s)</text>
<polyline points="186.13,492.82 188.50,484.32 191.66,473.11 194.03,466.19 197.19,460.16 199.56,456.12 202.72,451.08" fill="none" stroke="#c9c9c9" stroke-width="0.7" stroke-linejoin="round"/>
<polygon points="186.13,491.94 185.33,492.82 186.13,493.70 186.93,492.82" fill="#c9c9c9"/>
<polygon points="188.50,483.44 187.70,484.32 188.50,485.20 189.30,484.32" fill="#c9c9c9"/>
<polygon points="191.66,472.23 190.86,473.11 191.66,473.99 192.46,473.11" fill="#c9c9c9"/>
<polygon points="194.03,465.31 193.23,466.19 194.03,467.07 194.83,466.19" fill="#c9c9c9"/>
<polygon points="197.19,459.28 196.39,460.16 197.19,461.04 197.99,460.16" fill="#c9c9c9"/>
<polygon points="199.56,455.24 198.76,456.12 199.56,457.00 200.36,456.12" fill="#c9c9c9"/>
<polygon points="202.72,450.20 201.92,451.08 202.72,451.96 203.52,451.08" fill="#c9c9c9"/>
<polyline points="186.13,493.48 188.50,482.96 191.66,474.11 194.03,466.43 197.19,459.77 199.56,454.82 202.72,451.99" fill="none" stroke="#c9c9c9" stroke-width="0.7" stroke-linejoin="round"/>
<polygon points="186.13,492.60 185.33,493.48 186.13,494.36 186.93,493.48" fill="#c9c9c9"/>
<polygon points="188.50,482.08 187.70,482.96 188.50,483.84 189.30,482.96" fill="#c9c9c9"/>
<polygon points="191.66,473.23 190.86,474.11 191.66,474.99 192.46,474.11" fill="#c9c9c9"/>
<polygon points="194.03,465.55 193.23,466.43 194.03,467.31 194.83,466.43" fill="#c9c9c9"/>
<polygon points="197.19,458.89 196.39,459.77 197.19,460.65 197.99,459.77" fill="#c9c9c9"/>
<polygon points="199.56,453.94 198.76,454.82 199.56,455.70 200.36,454.82" fill="#c9c9c9"/>
<polygon points="202.72,451.11 201.92,451.99 202.72,452.87 203.52,451.99" fill="#c9c9c9"/>
<polyline points="186.13,489.21 188.50,483.09 191.66,474.08 194.03,468.65 197.19,463.82 199.56,458.10 202.72,454.77 205.09,454.22" fill="none" stroke="#c9c9c9" stroke-width="0.7" stroke-linejoin="round"/>
<polygon points="186.13,488.33 185.33,489.21 186.13,490.09 186.93,489.21" fill="#c9c9c9"/>
<polygon points="188.50,482.21 187.70,483.09 188.50,483.97 189.30,483.09" fill="#c9c9c9"/>
<polygon points="191.66,473.20 190.86,474.08 191.66,474.96 192.46,474.08" fill="#c9c9c9"/>
<polygon points="194.03,467.77 193.23,468.65 194.03,469.53 194.83,468.65" fill="#c9c9c9"/>
<polygon points="197.19,462.94 196.39,463.82 197.19,464.70 197.99,463.82" fill="#c9c9c9"/>
<polygon points="199.56,457.22 198.76,458.10 199.56,458.98 200.36,458.10" fill="#c9c9c9"/>
<polygon points="202.72,453.89 201.92,454.77 202.72,455.65 203.52,454.77" fill="#c9c9c9"/>
<polygon points="205.09,453.34 204.29,454.22 205.09,455.10 205.89,454.22" fill="#c9c9c9"/>
<polyline points="186.13,493.42 188.50,486.13 191.66,475.64 194.03,468.85 197.19,462.31 199.56,457.89 202.72,456.58" fill="none" stroke="#c9c9c9" stroke-width="0.7" stroke-linejoin="round"/>
<polygon points="186.13,492.54 185.33,493.42 186.13,494.30 186.93,493.42" fill="#c9c9c9"/>
<polygon points="188.50,485.25 187.70,486.13 188.50,487.01 189.30,486.13" fill="#c9c9c9"/>
<polygon points="191.66,474.76 190.86,475.64 191.66,476.52 192.46,475.64" fill="#c9c9c9"/>
<polygon points="194.03,467.97 193.23,468.85 194.03,469.73 194.83,468.85" fill="#c9c9c9"/>
<polygon points="197.19,461.43 196.39,462.31 197.19,463.19 197.99,462.31" fill="#c9c9c9"/>
<polygon points="199.56,457.01 198.76,457.89 199.56,458.77 200.36,457.89" fill="#c9c9c9"/>
<polygon points="202.72,455.70 201.92,456.58 202.72,457.46 203.52,456.58" fill="#c9c9c9"/>
<polyline points="186.13,489.16 188.50,481.59 191.66,474.04 194.03,470.84 197.19,464.55 199.56,460.33 202.72,454.00 205.09,452.94 208.25,450.76" fill="none" stroke="#c9c9c9" stroke-width="0.7" stroke-linejoin="round"/>
<polygon points="186.13,488.28 185.33,489.16 186.13,490.04 186.93,489.16" fill="#c9c9c9"/>
<polygon points="188.50,480.71 187.70,481.59 188.50,482.47 189.30,481.59" fill="#c9c9c9"/>
<polygon points="191.66,473.16 190.86,474.04 191.66,474.92 192.46,474.04" fill="#c9c9c9"/>
<polygon points="194.03,469.96 193.23,470.84 194.03,471.72 194.83,470.84" fill="#c9c9c9"/>
<polygon points="197.19,463.67 196.39,464.55 197.19,465.43 197.99,464.55" fill="#c9c9c9"/>
<polygon points="199.56,459.45 198.76,460.33 199.56,461.21 200.36,460.33" fill="#c9c9c9"/>
<polygon points="202.72,453.12 201.92,454.00 202.72,454.88 203.52,454.00" fill="#c9c9c9"/>
<polygon points="205.09,452.06 204.29,452.94 205.09,453.82 205.89,452.94" fill="#c9c9c9"/>
<polygon points="208.25,449.88 207.45,450.76 208.25,451.64 209.05,450.76" fill="#c9c9c9"/>
<polyline points="186.13,492.48 188.50,487.38 191.66,480.71 194.03,475.40 197.19,469.64 199.56,464.89 202.72,460.84 205.09,457.20 208.25,454.12 210.62,451.94 213.78,451.51" fill="none" stroke="#c9c9c9" stroke-width="0.7" stroke-linejoin="round"/>
<polygon points="186.13,491.60 185.33,492.48 186.13,493.36 186.93,492.48" fill="#c9c9c9"/>
<polygon points="188.50,486.50 187.70,487.38 188.50,488.26 189.30,487.38" fill="#c9c9c9"/>
<polygon points="191.66,479.83 190.86,480.71 191.66,481.59 192.46,480.71" fill="#c9c9c9"/>
<polygon points="194.03,474.52 193.23,475.40 194.03,476.28 194.83,475.40" fill="#c9c9c9"/>
<polygon points="197.19,468.76 196.39,469.64 197.19,470.52 197.99,469.64" fill="#c9c9c9"/>
<polygon points="199.56,464.01 198.76,464.89 199.56,465.77 200.36,464.89" fill="#c9c9c9"/>
<polygon points="202.72,459.96 201.92,460.84 202.72,461.72 203.52,460.84" fill="#c9c9c9"/>
<polygon points="205.09,456.32 204.29,457.20 205.09,458.08 205.89,457.20" fill="#c9c9c9"/>
<polygon points="208.25,453.24 207.45,454.12 208.25,455.00 209.05,454.12" fill="#c9c9c9"/>
<polygon points="210.62,451.06 209.82,451.94 210.62,452.82 211.42,451.94" fill="#c9c9c9"/>
<polygon points="213.78,450.63 212.98,451.51 213.78,452.39 214.58,451.51" fill="#c9c9c9"/>
<polyline points="186.13,492.51 188.50,484.97 191.66,476.42 194.03,471.56 197.19,464.71 199.56,462.16 202.72,457.04" fill="none" stroke="#c9c9c9" stroke-width="0.7" stroke-linejoin="round"/>
<polygon points="186.13,491.63 185.33,492.51 186.13,493.39 186.93,492.51" fill="#c9c9c9"/>
<polygon points="188.50,484.09 187.70,484.97 188.50,485.85 189.30,484.97" fill="#c9c9c9"/>
<polygon points="191.66,475.54 190.86,476.42 191.66,477.30 192.46,476.42" fill="#c9c9c9"/>
<polygon points="194.03,470.68 193.23,471.56 194.03,472.44 194.83,471.56" fill="#c9c9c9"/>
<polygon points="197.19,463.83 196.39,464.71 197.19,465.59 197.99,464.71" fill="#c9c9c9"/>
<polygon points="199.56,461.28 198.76,462.16 199.56,463.04 200.36,462.16" fill="#c9c9c9"/>
<polygon points="202.72,456.16 201.92,457.04 202.72,457.92 203.52,457.04" fill="#c9c9c9"/>
<polyline points="186.13,491.16 188.50,485.91 191.66,476.70 194.03,471.50 197.19,468.11 199.56,462.54 202.72,459.50 205.09,457.91 208.25,455.98" fill="none" stroke="#c9c9c9" stroke-width="0.7" stroke-linejoin="round"/>
<polygon points="186.13,490.28 185.33,491.16 186.13,492.04 186.93,491.16" fill="#c9c9c9"/>
<polygon points="188.50,485.03 187.70,485.91 188.50,486.79 189.30,485.91" fill="#c9c9c9"/>
<polygon points="191.66,475.82 190.86,476.70 191.66,477.58 192.46,476.70" fill="#c9c9c9"/>
<polygon points="194.03,470.62 193.23,471.50 194.03,472.38 194.83,471.50" fill="#c9c9c9"/>
<polygon points="197.19,467.23 196.39,468.11 197.19,468.99 197.99,468.11" fill="#c9c9c9"/>
<polygon points="199.56,461.66 198.76,462.54 199.56,463.42 200.36,462.54" fill="#c9c9c9"/>
<polygon points="202.72,458.62 201.92,459.50 202.72,460.38 203.52,459.50" fill="#c9c9c9"/>
<polygon points="205.09,457.03 204.29,457.91 205.09,458.79 205.89,457.91" fill="#c9c9c9"/>
<polygon points="208.25,455.10 207.45,455.98 208.25,456.86 209.05,455.98" fill="#c9c9c9"/>
<polyline points="186.13,488.27 188.50,482.66 191.66,471.98 194.03,467.52 197.19,459.26 199.56,456.64 202.72,452.71" fill="none" stroke="#c9c9c9" stroke-width="0.7" stroke-linejoin="round"/>
<polygon points="186.13,487.39 185.33,488.27 186.13,489.15 186.93,488.27" fill="#c9c9c9"/>
<polygon points="188.50,481.78 187.70,482.66 188.50,483.54 189.30,482.66" fill="#c9c9c9"/>
<polygon points="191.66,471.10 190.86,471.98 191.66,472.86 192.46,471.98" fill="#c9c9c9"/>
<polygon points="194.03,466.64 193.23,467.52 194.03,468.40 194.83,467.52" fill="#c9c9c9"/>
<polygon points="197.19,458.38 196.39,459.26 197.19,460.14 197.99,459.26" fill="#c9c9c9"/>
<polygon points="199.56,455.76 198.76,456.64 199.56,457.52 200.36,456.64" fill="#c9c9c9"/>
<polygon points="202.72,451.83 201.92,452.71 202.72,453.59 203.52,452.71" fill="#c9c9c9"/>
<polyline points="186.13,487.75 188.50,479.41 191.66,472.71 194.03,467.68 197.19,459.87 199.56,457.42 202.72,453.20 205.09,451.33" fill="none" stroke="#c9c9c9" stroke-width="0.7" stroke-linejoin="round"/>
<polygon points="186.13,486.87 185.33,487.75 186.13,488.63 186.93,487.75" fill="#c9c9c9"/>
<polygon points="188.50,478.53 187.70,479.41 188.50,480.29 189.30,479.41" fill="#c9c9c9"/>
<polygon points="191.66,471.83 190.86,472.71 191.66,473.59 192.46,472.71" fill="#c9c9c9"/>
<polygon points="194.03,466.80 193.23,467.68 194.03,468.56 194.83,467.68" fill="#c9c9c9"/>
<polygon points="197.19,458.99 196.39,459.87 197.19,460.75 197.99,459.87" fill="#c9c9c9"/>
<polygon points="199.56,456.54 198.76,457.42 199.56,458.30 200.36,457.42" fill="#c9c9c9"/>
<polygon points="202.72,452.32 201.92,453.20 202.72,454.08 203.52,453.20" fill="#c9c9c9"/>
<polygon points="205.09,450.45 204.29,451.33 205.09,452.21 205.89,451.33" fill="#c9c9c9"/>
<polyline points="186.13,491.24 188.50,483.15 191.66,471.40 194.03,467.00 197.19,459.68 199.56,457.88" fill="none" stroke="#c9c9c9" stroke-width="0.7" stroke-linejoin="round"/>
<polygon points="186.13,490.36 185.33,491.24 186.13,492.12 186.93,491.24" fill="#c9c9c9"/>
<polygon points="188.50,482.27 187.70,483.15 188.50,484.03 189.30,483.15" fill="#c9c9c9"/>
<polygon points="191.66,470.52 190.86,471.40 191.66,472.28 192.46,471.40" fill="#c9c9c9"/>
<polygon points="194.03,466.12 193.23,467.00 194.03,467.88 194.83,467.00" fill="#c9c9c9"/>
<polygon points="197.19,458.80 196.39,459.68 197.19,460.56 197.99,459.68" fill="#c9c9c9"/>
<polygon points="199.56,457.00 198.76,457.88 199.56,458.76 200.36,457.88" fill="#c9c9c9"/>
<polyline points="186.13,492.06 188.50,485.42 191.66,477.15 194.03,471.88 197.19,465.58 199.56,461.29 202.72,455.94 205.09,454.55 208.25,453.01" fill="none" stroke="#c9c9c9" stroke-width="0.7" stroke-linejoin="round"/>
<polygon points="186.13,491.18 185.33,492.06 186.13,492.94 186.93,492.06" fill="#c9c9c9"/>
<polygon points="188.50,484.54 187.70,485.42 188.50,486.30 189.30,485.42" fill="#c9c9c9"/>
<polygon points="191.66,476.27 190.86,477.15 191.66,478.03 192.46,477.15" fill="#c9c9c9"/>
<polygon points="194.03,471.00 193.23,471.88 194.03,472.76 194.83,471.88" fill="#c9c9c9"/>
<polygon points="197.19,464.70 196.39,465.58 197.19,466.46 197.99,465.58" fill="#c9c9c9"/>
<polygon points="199.56,460.41 198.76,461.29 199.56,462.17 200.36,461.29" fill="#c9c9c9"/>
<polygon points="202.72,455.06 201.92,455.94 202.72,456.82 203.52,455.94" fill="#c9c9c9"/>
<polygon points="205.09,453.67 204.29,454.55 205.09,455.43 205.89,454.55" fill="#c9c9c9"/>
<polygon points="208.25,452.13 207.45,453.01 208.25,453.89 209.05,453.01" fill="#c9c9c9"/>
<polyline points="186.13,490.26 188.50,485.42 191.66,477.82 194.03,474.95 197.19,469.90 199.56,467.93 202.72,462.87 205.09,459.86 208.25,458.49 210.62,455.36 213.78,454.23" fill="none" stroke="#c9c9c9" stroke-width="0.7" stroke-linejoin="round"/>
<polygon points="186.13,489.38 185.33,490.26 186.13,491.14 186.93,490.26" fill="#c9c9c9"/>
<polygon points="188.50,484.54 187.70,485.42 188.50,486.30 189.30,485.42" fill="#c9c9c9"/>
<polygon points="191.66,476.94 190.86,477.82 191.66,478.70 192.46,477.82" fill="#c9c9c9"/>
<polygon points="194.03,474.07 193.23,474.95 194.03,475.83 194.83,474.95" fill="#c9c9c9"/>
<polygon points="197.19,469.02 196.39,469.90 197.19,470.78 197.99,469.90" fill="#c9c9c9"/>
<polygon points="199.56,467.05 198.76,467.93 199.56,468.81 200.36,467.93" fill="#c9c9c9"/>
<polygon points="202.72,461.99 201.92,462.87 202.72,463.75 203.52,462.87" fill="#c9c9c9"/>
<polygon points="205.09,458.98 204.29,459.86 205.09,460.74 205.89,459.86" fill="#c9c9c9"/>
<polygon points="208.25,457.61 207.45,458.49 208.25,459.37 209.05,458.49" fill="#c9c9c9"/>
<polygon points="210.62,454.48 209.82,455.36 210.62,456.24 211.42,455.36" fill="#c9c9c9"/>
<polygon points="213.78,453.35 212.98,454.23 213.78,455.11 214.58,454.23" fill="#c9c9c9"/>
<polyline points="186.13,493.84 188.50,485.98 191.66,475.49 194.03,469.81 197.19,461.50 199.56,457.02 202.72,454.91" fill="none" stroke="#c9c9c9" stroke-width="0.7" stroke-linejoin="round"/>
<polygon points="186.13,492.96 185.33,493.84 186.13,494.72 186.93,493.84" fill="#c9c9c9"/>
<polygon points="188.50,485.10 187.70,485.98 188.50,486.86 189.30,485.98" fill="#c9c9c9"/>
<polygon points="191.66,474.61 190.86,475.49 191.66,476.37 192.46,475.49" fill="#c9c9c9"/>
<polygon points="194.03,468.93 193.23,469.81 194.03,470.69 194.83,469.81" fill="#c9c9c9"/>
<polygon points="197.19,460.62 196.39,461.50 197.19,462.38 197.99,461.50" fill="#c9c9c9"/>
<polygon points="199.56,456.14 198.76,457.02 199.56,457.90 200.36,457.02" fill="#c9c9c9"/>
<polygon points="202.72,454.03 201.92,454.91 202.72,455.79 203.52,454.91" fill="#c9c9c9"/>
<polyline points="186.13,493.71 188.50,485.06 191.66,477.58 194.03,471.00 197.19,464.04 199.56,461.06 202.72,458.41" fill="none" stroke="#c9c9c9" stroke-width="0.7" stroke-linejoin="round"/>
<polygon points="186.13,492.83 185.33,493.71 186.13,494.59 186.93,493.71" fill="#c9c9c9"/>
<polygon points="188.50,484.18 187.70,485.06 188.50,485.94 189.30,485.06" fill="#c9c9c9"/>
<polygon points="191.66,476.70 190.86,477.58 191.66,478.46 192.46,477.58" fill="#c9c9c9"/>
<polygon points="194.03,470.12 193.23,471.00 194.03,471.88 194.83,471.00" fill="#c9c9c9"/>
<polygon points="197.19,463.16 196.39,464.04 197.19,464.92 197.99,464.04" fill="#c9c9c9"/>
<polygon points="199.56,460.18 198.76,461.06 199.56,461.94 200.36,461.06" fill="#c9c9c9"/>
<polygon points="202.72,457.53 201.92,458.41 202.72,459.29 203.52,458.41" fill="#c9c9c9"/>
<polyline points="186.13,492.76 188.50,484.88 191.66,476.80 194.03,470.65 197.19,462.68 199.56,460.25 202.72,454.27 205.09,451.59" fill="none" stroke="#c9c9c9" stroke-width="0.7" stroke-linejoin="round"/>
<polygon points="186.13,491.88 185.33,492.76 186.13,493.64 186.93,492.76" fill="#c9c9c9"/>
<polygon points="188.50,484.00 187.70,484.88 188.50,485.76 189.30,484.88" fill="#c9c9c9"/>
<polygon points="191.66,475.92 190.86,476.80 191.66,477.68 192.46,476.80" fill="#c9c9c9"/>
<polygon points="194.03,469.77 193.23,470.65 194.03,471.53 194.83,470.65" fill="#c9c9c9"/>
<polygon points="197.19,461.80 196.39,462.68 197.19,463.56 197.99,462.68" fill="#c9c9c9"/>
<polygon points="199.56,459.37 198.76,460.25 199.56,461.13 200.36,460.25" fill="#c9c9c9"/>
<polygon points="202.72,453.39 201.92,454.27 202.72,455.15 203.52,454.27" fill="#c9c9c9"/>
<polygon points="205.09,450.71 204.29,451.59 205.09,452.47 205.89,451.59" fill="#c9c9c9"/>
<line x1="180.50" y1="443.80" x2="180.50" y2="497.70" stroke="#1a1a1a" stroke-width="1.0"/>
<line x1="177.70" y1="497.20" x2="180.50" y2="497.20" stroke="#1a1a1a" stroke-width="0.8"/>
<text x="175.00" y="499.00" font-size="6.1" fill="#222" text-anchor="end">10<tspan font-size="3.90" dy="-3.05">5</tspan></text>
<line x1="177.70" y1="488.50" x2="180.50" y2="488.50" stroke="#1a1a1a" stroke-width="0.8"/>
<text x="175.00" y="490.30" font-size="6.1" fill="#222" text-anchor="end">10<tspan font-size="3.90" dy="-3.05">6</tspan></text>
<line x1="177.70" y1="479.80" x2="180.50" y2="479.80" stroke="#1a1a1a" stroke-width="0.8"/>
<text x="175.00" y="481.60" font-size="6.1" fill="#222" text-anchor="end">10<tspan font-size="3.90" dy="-3.05">7</tspan></text>
<line x1="177.70" y1="471.10" x2="180.50" y2="471.10" stroke="#1a1a1a" stroke-width="0.8"/>
<text x="175.00" y="472.90" font-size="6.1" fill="#222" text-anchor="end">10<tspan font-size="3.90" dy="-3.05">8</tspan></text>
<line x1="177.70" y1="462.40" x2="180.50" y2="462.40" stroke="#1a1a1a" stroke-width="0.8"/>
<text x="175.00" y="464.20" font-size="6.1" fill="#222" text-anchor="end">10<tspan font-size="3.90" dy="-3.05">9</tspan></text>
<line x1="177.70" y1="453.70" x2="180.50" y2="453.70" stroke="#1a1a1a" stroke-width="0.8"/>
<text x="175.00" y="455.50" font-size="6.1" fill="#222" text-anchor="end">10<tspan font-size="3.90" dy="-3.05">10</tspan></text>
<line x1="177.70" y1="445.00" x2="180.50" y2="445.00" stroke="#1a1a1a" stroke-width="0.8"/>
<text x="175.00" y="446.80" font-size="6.1" fill="#222" text-anchor="end">10<tspan font-size="3.90" dy="-3.05">11</tspan></text>
<line x1="180.00" y1="497.50" x2="263.10" y2="497.50" stroke="#1a1a1a" stroke-width="1.0"/>
<line x1="180.60" y1="497.50" x2="180.60" y2="500.30" stroke="#1a1a1a" stroke-width="0.8"/>
<text x="180.60" y="509.30" font-size="6.1" fill="#222" text-anchor="middle">0</text>
<line x1="196.40" y1="497.50" x2="196.40" y2="500.30" stroke="#1a1a1a" stroke-width="0.8"/>
<text x="196.40" y="509.30" font-size="6.1" fill="#222" text-anchor="middle">20</text>
<line x1="212.20" y1="497.50" x2="212.20" y2="500.30" stroke="#1a1a1a" stroke-width="0.8"/>
<text x="212.20" y="509.30" font-size="6.1" fill="#222" text-anchor="middle">40</text>
<line x1="228.00" y1="497.50" x2="228.00" y2="500.30" stroke="#1a1a1a" stroke-width="0.8"/>
<text x="228.00" y="509.30" font-size="6.1" fill="#222" text-anchor="middle">60</text>
<line x1="243.80" y1="497.50" x2="243.80" y2="500.30" stroke="#1a1a1a" stroke-width="0.8"/>
<text x="243.80" y="509.30" font-size="6.1" fill="#222" text-anchor="middle">80</text>
<line x1="259.60" y1="497.50" x2="259.60" y2="500.30" stroke="#1a1a1a" stroke-width="0.8"/>
<text x="259.60" y="509.30" font-size="6.1" fill="#222" text-anchor="middle">100</text>
<text x="221.60" y="437.00" font-size="7.8" fill="#222" text-anchor="middle" textLength="40.00" lengthAdjust="spacingAndGlyphs">tumor only</text>
<text x="221.60" y="520.80" font-size="7.4" fill="#222" text-anchor="middle" textLength="48.80" lengthAdjust="spacingAndGlyphs">Days after tumor</text>
<text x="147.20" y="470.50" font-size="7.3" fill="#222" text-anchor="middle" textLength="61.00" lengthAdjust="spacingAndGlyphs" transform="rotate(-90 147.20 470.50)">Tumor luminescence</text>
<text x="157.40" y="469.80" font-size="7.3" fill="#222" text-anchor="middle" textLength="34.20" lengthAdjust="spacingAndGlyphs" transform="rotate(-90 157.40 469.80)">(photons/s)</text>
<line x1="201.20" y1="470.90" x2="209.60" y2="470.90" stroke="#1d4f8a" stroke-width="0.6"/>
<circle cx="205.40" cy="470.90" r="1.17" fill="#1d4f8a" stroke="none" stroke-width="0.5"/>
<text x="213.20" y="473.00" font-size="6.3" fill="#333" textLength="39.50" lengthAdjust="spacingAndGlyphs">APRIL-28-1XX</text>
<line x1="201.20" y1="478.20" x2="209.60" y2="478.20" stroke="#3db43a" stroke-width="0.6"/>
<rect x="204.29" y="477.09" width="2.21" height="2.21" fill="#3db43a" stroke="none" stroke-width="0.5"/>
<text x="213.20" y="480.30" font-size="6.3" fill="#333" textLength="47.20" lengthAdjust="spacingAndGlyphs">APRIL-28BB-1XX</text>
<line x1="201.20" y1="485.50" x2="209.60" y2="485.50" stroke="#5e2580" stroke-width="0.6"/>
<polygon points="205.40,484.07 204.10,486.41 206.70,486.41" fill="#5e2580"/>
<text x="213.20" y="487.60" font-size="6.3" fill="#333" textLength="40.30" lengthAdjust="spacingAndGlyphs">APRIL-BB-1XX</text>
<line x1="201.20" y1="492.80" x2="209.60" y2="492.80" stroke="#c9c9c9" stroke-width="0.6"/>
<polygon points="205.40,491.37 204.10,492.80 205.40,494.23 206.70,492.80" fill="#c9c9c9"/>
<text x="213.20" y="494.90" font-size="6.3" fill="#333" textLength="30.30" lengthAdjust="spacingAndGlyphs">tumor only</text>
<line x1="263.50" y1="477.90" x2="263.50" y2="488.00" stroke="#444" stroke-width="0.9"/>
<text x="268.60" y="482.60" font-size="4.8" fill="#555" text-anchor="middle" transform="rotate(-90 268.60 482.60)">ns</text>
<line x1="272.50" y1="469.30" x2="272.50" y2="488.00" stroke="#777" stroke-width="1.0"/>
<circle cx="275.30" cy="478.70" r="0.75" fill="#333" stroke="none" stroke-width="0.5"/>
<line x1="279.50" y1="469.30" x2="279.50" y2="480.00" stroke="#777" stroke-width="1.0"/>
<circle cx="282.20" cy="473.60" r="0.75" fill="#333" stroke="none" stroke-width="0.5"/>
<circle cx="282.20" cy="476.20" r="0.75" fill="#333" stroke="none" stroke-width="0.5"/>
<text x="279.60" y="308.80" font-size="11.0" fill="#111" font-weight="bold">F</text>
<text x="358.50" y="323.20" font-size="7.8" fill="#222" text-anchor="middle" textLength="27.30" lengthAdjust="spacingAndGlyphs">survival</text>
<path d="M316.10,333.20 H339.37 V340.93 H340.44 V356.38 H341.88 V369.25 H343.31 V379.55 H344.02 V384.70" fill="none" stroke="#c6d2e8" stroke-width="0.7"/>
<path d="M316.10,333.20 H346.17 V335.77 H350.47 V338.35 H353.33 V340.93 H356.20 V343.50 H359.06 V346.07 H361.21 V348.65 H364.07 V351.22 H367.65 V353.80 H371.95 V356.38 H376.24 V358.95 H380.54 V360.50 H384.12 V362.56 H387.70 V364.10 H388.42" fill="none" stroke="#7cc868" stroke-width="0.75"/>
<path d="M316.10,333.20 H342.59 V336.81 H347.60 V339.38 H351.90 V342.47 H356.20 V347.11 H359.06 V351.22 H387.70" fill="none" stroke="#6a4a80" stroke-width="0.75"/>
<polygon points="387.70,350.01 386.60,351.99 388.80,351.99" fill="#4a2a5e"/>
<rect x="386.85" y="363.25" width="1.70" height="1.70" fill="#3aa935" stroke="none" stroke-width="0.5"/>
<path d="M316.10,333.20 H338.65 V338.35 H339.37 V346.07 H340.09 V352.25 H341.45 V358.95 H343.31 V364.10 H345.46 V369.76 H350.18 V379.55 H355.84 V384.70" fill="none" stroke="#4d6fb0" stroke-width="0.75"/>
<line x1="316.10" y1="333.20" x2="338.65" y2="333.20" stroke="#8ea4cc" stroke-width="0.8"/>
<line x1="315.50" y1="328.50" x2="315.50" y2="385.20" stroke="#1a1a1a" stroke-width="1.0"/>
<line x1="312.70" y1="333.20" x2="315.50" y2="333.20" stroke="#1a1a1a" stroke-width="0.8"/>
<text x="310.40" y="335.20" font-size="6.1" fill="#222" text-anchor="end">100</text>
<line x1="312.70" y1="358.95" x2="315.50" y2="358.95" stroke="#1a1a1a" stroke-width="0.8"/>
<text x="310.40" y="360.95" font-size="6.1" fill="#222" text-anchor="end">50</text>
<line x1="312.70" y1="384.70" x2="315.50" y2="384.70" stroke="#1a1a1a" stroke-width="0.8"/>
<text x="310.40" y="386.70" font-size="6.1" fill="#222" text-anchor="end">0</text>
<line x1="315.00" y1="384.50" x2="388.80" y2="384.50" stroke="#1a1a1a" stroke-width="1.0"/>
<line x1="316.10" y1="384.50" x2="316.10" y2="387.30" stroke="#1a1a1a" stroke-width="0.8"/>
<text x="316.10" y="395.60" font-size="6.1" fill="#222" text-anchor="middle">0</text>
<line x1="351.90" y1="384.50" x2="351.90" y2="387.30" stroke="#1a1a1a" stroke-width="0.8"/>
<text x="351.90" y="395.60" font-size="6.1" fill="#222" text-anchor="middle">50</text>
<line x1="387.70" y1="384.50" x2="387.70" y2="387.30" stroke="#1a1a1a" stroke-width="0.8"/>
<text x="387.70" y="395.60" font-size="6.1" fill="#222" text-anchor="middle">100</text>
<text x="358.80" y="407.50" font-size="7.4" fill="#222" text-anchor="middle" textLength="48.50" lengthAdjust="spacingAndGlyphs">Days after tumor</text>
<text x="293.90" y="356.80" font-size="7.3" fill="#222" text-anchor="middle" textLength="46.00" lengthAdjust="spacingAndGlyphs" transform="rotate(-90 293.90 356.80)">Percent survival</text>
<text x="371.20" y="349.00" font-size="6.2" fill="#333" font-style="italic" textLength="17.8" lengthAdjust="spacingAndGlyphs">n = 15</text>
<text x="366.80" y="368.40" font-size="6.2" fill="#333" font-style="italic" textLength="19.0" lengthAdjust="spacingAndGlyphs">n = 20</text>
<text x="324.70" y="380.60" font-size="6.2" fill="#333" font-style="italic" textLength="19.0" lengthAdjust="spacingAndGlyphs">n = 20</text>
<text x="358.20" y="380.60" font-size="6.2" fill="#333" font-style="italic" textLength="17.6" lengthAdjust="spacingAndGlyphs">n = 10</text>
<line x1="404.80" y1="344.50" x2="414.00" y2="344.50" stroke="#1d4f8a" stroke-width="0.6"/>
<circle cx="409.40" cy="344.50" r="1.17" fill="#1d4f8a" stroke="none" stroke-width="0.5"/>
<text x="416.80" y="346.60" font-size="6.3" fill="#333" textLength="39.10" lengthAdjust="spacingAndGlyphs">APRIL-28-1XX</text>
<line x1="404.80" y1="353.50" x2="414.00" y2="353.50" stroke="#3db43a" stroke-width="0.6"/>
<rect x="408.30" y="352.39" width="2.21" height="2.21" fill="#3db43a" stroke="none" stroke-width="0.5"/>
<text x="416.80" y="355.60" font-size="6.3" fill="#333" textLength="46.50" lengthAdjust="spacingAndGlyphs">APRIL-28BB-1XX</text>
<line x1="404.80" y1="362.00" x2="414.00" y2="362.00" stroke="#5e2580" stroke-width="0.6"/>
<polygon points="409.40,360.57 408.10,362.91 410.70,362.91" fill="#5e2580"/>
<text x="416.80" y="364.10" font-size="6.3" fill="#333" textLength="40.40" lengthAdjust="spacingAndGlyphs">APRIL-BB-1XX</text>
<line x1="404.80" y1="368.30" x2="414.00" y2="368.30" stroke="#c8d0e4" stroke-width="0.6"/>
<polygon points="409.40,366.87 408.10,368.30 409.40,369.73 410.70,368.30" fill="#c8d0e4"/>
<text x="416.80" y="370.40" font-size="6.3" fill="#333" textLength="30.30" lengthAdjust="spacingAndGlyphs">tumor only</text>
<line x1="470.50" y1="351.90" x2="470.50" y2="365.00" stroke="#333" stroke-width="0.9"/>
<text x="473.00" y="358.00" font-size="4.6" fill="#555" text-anchor="middle" transform="rotate(-90 473.00 358.00)">ns</text>
<line x1="478.50" y1="342.30" x2="478.50" y2="364.20" stroke="#777" stroke-width="1.0"/>
<circle cx="482.40" cy="349.40" r="0.70" fill="#333" stroke="none" stroke-width="0.5"/>
<circle cx="482.40" cy="352.00" r="0.70" fill="#333" stroke="none" stroke-width="0.5"/>
<circle cx="482.40" cy="354.60" r="0.70" fill="#333" stroke="none" stroke-width="0.5"/>
<circle cx="482.40" cy="357.20" r="0.70" fill="#333" stroke="none" stroke-width="0.5"/>
<line x1="485.50" y1="342.30" x2="485.50" y2="354.60" stroke="#777" stroke-width="1.0"/>
<circle cx="489.10" cy="344.60" r="0.70" fill="#333" stroke="none" stroke-width="0.5"/>
<circle cx="489.10" cy="347.20" r="0.70" fill="#333" stroke="none" stroke-width="0.5"/>
<circle cx="489.10" cy="349.80" r="0.70" fill="#333" stroke="none" stroke-width="0.5"/>
<circle cx="489.10" cy="352.40" r="0.70" fill="#333" stroke="none" stroke-width="0.5"/>
<text x="298.40" y="429.00" font-size="11.0" fill="#111" font-weight="bold">G</text>
<text x="371.50" y="439.40" font-size="7.8" fill="#222" text-anchor="middle" textLength="35.40" lengthAdjust="spacingAndGlyphs">T cell BLI</text>
<line x1="343.20" y1="456.30" x2="343.20" y2="459.30" stroke="#4cb844" stroke-width="0.5"/>
<line x1="342.40" y1="456.30" x2="344.00" y2="456.30" stroke="#4cb844" stroke-width="0.5"/>
<line x1="342.40" y1="459.30" x2="344.00" y2="459.30" stroke="#4cb844" stroke-width="0.5"/>
<line x1="360.50" y1="462.70" x2="360.50" y2="465.10" stroke="#4cb844" stroke-width="0.5"/>
<line x1="359.70" y1="462.70" x2="361.30" y2="462.70" stroke="#4cb844" stroke-width="0.5"/>
<line x1="359.70" y1="465.10" x2="361.30" y2="465.10" stroke="#4cb844" stroke-width="0.5"/>
<line x1="378.10" y1="464.70" x2="378.10" y2="467.30" stroke="#4cb844" stroke-width="0.5"/>
<line x1="377.30" y1="464.70" x2="378.90" y2="464.70" stroke="#4cb844" stroke-width="0.5"/>
<line x1="377.30" y1="467.30" x2="378.90" y2="467.30" stroke="#4cb844" stroke-width="0.5"/>
<line x1="395.60" y1="467.10" x2="395.60" y2="470.70" stroke="#4cb844" stroke-width="0.5"/>
<line x1="394.80" y1="467.10" x2="396.40" y2="467.10" stroke="#4cb844" stroke-width="0.5"/>
<line x1="394.80" y1="470.70" x2="396.40" y2="470.70" stroke="#4cb844" stroke-width="0.5"/>
<polyline points="343.20,457.80 360.50,463.90 378.10,466.00 395.60,468.90" fill="none" stroke="#4cb844" stroke-width="0.75" stroke-linejoin="round"/>
<rect x="342.35" y="456.95" width="1.70" height="1.70" fill="#4cb844" stroke="none" stroke-width="0.5"/>
<rect x="359.65" y="463.05" width="1.70" height="1.70" fill="#4cb844" stroke="none" stroke-width="0.5"/>
<rect x="377.25" y="465.15" width="1.70" height="1.70" fill="#4cb844" stroke="none" stroke-width="0.5"/>
<rect x="394.75" y="468.05" width="1.70" height="1.70" fill="#4cb844" stroke="none" stroke-width="0.5"/>
<line x1="343.20" y1="462.70" x2="343.20" y2="465.10" stroke="#7a3a8e" stroke-width="0.5"/>
<line x1="342.40" y1="462.70" x2="344.00" y2="462.70" stroke="#7a3a8e" stroke-width="0.5"/>
<line x1="342.40" y1="465.10" x2="344.00" y2="465.10" stroke="#7a3a8e" stroke-width="0.5"/>
<line x1="360.50" y1="461.00" x2="360.50" y2="464.00" stroke="#7a3a8e" stroke-width="0.5"/>
<line x1="359.70" y1="461.00" x2="361.30" y2="461.00" stroke="#7a3a8e" stroke-width="0.5"/>
<line x1="359.70" y1="464.00" x2="361.30" y2="464.00" stroke="#7a3a8e" stroke-width="0.5"/>
<line x1="378.10" y1="454.80" x2="378.10" y2="459.20" stroke="#7a3a8e" stroke-width="0.5"/>
<line x1="377.30" y1="454.80" x2="378.90" y2="454.80" stroke="#7a3a8e" stroke-width="0.5"/>
<line x1="377.30" y1="459.20" x2="378.90" y2="459.20" stroke="#7a3a8e" stroke-width="0.5"/>
<line x1="395.60" y1="457.10" x2="395.60" y2="460.30" stroke="#7a3a8e" stroke-width="0.5"/>
<line x1="394.80" y1="457.10" x2="396.40" y2="457.10" stroke="#7a3a8e" stroke-width="0.5"/>
<line x1="394.80" y1="460.30" x2="396.40" y2="460.30" stroke="#7a3a8e" stroke-width="0.5"/>
<polyline points="343.20,463.90 360.50,462.50 378.10,457.00 395.60,458.70" fill="none" stroke="#7a3a8e" stroke-width="0.75" stroke-linejoin="round"/>
<polygon points="343.20,462.80 342.20,464.60 344.20,464.60" fill="#7a3a8e"/>
<polygon points="360.50,461.40 359.50,463.20 361.50,463.20" fill="#7a3a8e"/>
<polygon points="378.10,455.90 377.10,457.70 379.10,457.70" fill="#7a3a8e"/>
<polygon points="395.60,457.60 394.60,459.40 396.60,459.40" fill="#7a3a8e"/>
<line x1="343.20" y1="464.70" x2="343.20" y2="468.30" stroke="#1d3f7a" stroke-width="0.5"/>
<line x1="342.40" y1="464.70" x2="344.00" y2="464.70" stroke="#1d3f7a" stroke-width="0.5"/>
<line x1="342.40" y1="468.30" x2="344.00" y2="468.30" stroke="#1d3f7a" stroke-width="0.5"/>
<line x1="360.50" y1="482.80" x2="360.50" y2="484.80" stroke="#1d3f7a" stroke-width="0.5"/>
<line x1="359.70" y1="482.80" x2="361.30" y2="482.80" stroke="#1d3f7a" stroke-width="0.5"/>
<line x1="359.70" y1="484.80" x2="361.30" y2="484.80" stroke="#1d3f7a" stroke-width="0.5"/>
<line x1="378.10" y1="478.30" x2="378.10" y2="485.50" stroke="#1d3f7a" stroke-width="0.5"/>
<line x1="377.30" y1="478.30" x2="378.90" y2="478.30" stroke="#1d3f7a" stroke-width="0.5"/>
<line x1="377.30" y1="485.50" x2="378.90" y2="485.50" stroke="#1d3f7a" stroke-width="0.5"/>
<line x1="395.60" y1="484.80" x2="395.60" y2="493.20" stroke="#1d3f7a" stroke-width="0.5"/>
<line x1="394.80" y1="484.80" x2="396.40" y2="484.80" stroke="#1d3f7a" stroke-width="0.5"/>
<line x1="394.80" y1="493.20" x2="396.40" y2="493.20" stroke="#1d3f7a" stroke-width="0.5"/>
<polyline points="343.20,466.50 360.50,483.80 378.10,481.90 395.60,489.00" fill="none" stroke="#1d3f7a" stroke-width="0.75" stroke-linejoin="round"/>
<circle cx="343.20" cy="466.50" r="0.90" fill="#1d3f7a" stroke="none" stroke-width="0.5"/>
<circle cx="360.50" cy="483.80" r="0.90" fill="#1d3f7a" stroke="none" stroke-width="0.5"/>
<circle cx="378.10" cy="481.90" r="0.90" fill="#1d3f7a" stroke="none" stroke-width="0.5"/>
<circle cx="395.60" cy="489.00" r="0.90" fill="#1d3f7a" stroke="none" stroke-width="0.5"/>
<line x1="331.50" y1="444.10" x2="331.50" y2="498.00" stroke="#1a1a1a" stroke-width="1.0"/>
<line x1="328.70" y1="446.90" x2="331.50" y2="446.90" stroke="#1a1a1a" stroke-width="0.8"/>
<text x="324.40" y="448.70" font-size="6.1" fill="#222" text-anchor="end">10<tspan font-size="3.90" dy="-3.05">9</tspan></text>
<line x1="328.70" y1="472.20" x2="331.50" y2="472.20" stroke="#1a1a1a" stroke-width="0.8"/>
<text x="324.40" y="474.00" font-size="6.1" fill="#222" text-anchor="end">10<tspan font-size="3.90" dy="-3.05">8</tspan></text>
<line x1="328.70" y1="497.50" x2="331.50" y2="497.50" stroke="#1a1a1a" stroke-width="0.8"/>
<text x="324.40" y="499.30" font-size="6.1" fill="#222" text-anchor="end">10<tspan font-size="3.90" dy="-3.05">7</tspan></text>
<line x1="331.00" y1="497.50" x2="410.70" y2="497.50" stroke="#1a1a1a" stroke-width="1.0"/>
<line x1="343.20" y1="497.50" x2="343.20" y2="500.30" stroke="#1a1a1a" stroke-width="0.8"/>
<text x="343.20" y="508.80" font-size="6.1" fill="#222" text-anchor="middle">6</text>
<line x1="360.50" y1="497.50" x2="360.50" y2="500.30" stroke="#1a1a1a" stroke-width="0.8"/>
<text x="360.50" y="508.80" font-size="6.1" fill="#222" text-anchor="middle">13</text>
<line x1="378.10" y1="497.50" x2="378.10" y2="500.30" stroke="#1a1a1a" stroke-width="0.8"/>
<text x="378.10" y="508.80" font-size="6.1" fill="#222" text-anchor="middle">20</text>
<line x1="395.60" y1="497.50" x2="395.60" y2="500.30" stroke="#1a1a1a" stroke-width="0.8"/>
<text x="395.60" y="508.80" font-size="6.1" fill="#222" text-anchor="middle">27</text>
<text x="371.00" y="520.60" font-size="7.4" fill="#222" text-anchor="middle" textLength="48.80" lengthAdjust="spacingAndGlyphs">Days after tumor</text>
<text x="300.80" y="470.00" font-size="7.3" fill="#222" text-anchor="middle" textLength="59.70" lengthAdjust="spacingAndGlyphs" transform="rotate(-90 300.80 470.00)">T-cell luminescence</text>
<text x="310.60" y="470.00" font-size="7.3" fill="#222" text-anchor="middle" textLength="31.40" lengthAdjust="spacingAndGlyphs" transform="rotate(-90 310.60 470.00)">(photons/s)</text>
<path d="M395.4,459.0 H380.7 V464.4" fill="none" stroke="#888" stroke-width="0.6"/>
<text x="382.00" y="463.60" font-size="6.0" fill="#333" textLength="11.50" lengthAdjust="spacingAndGlyphs">0.34</text>
<text x="367.40" y="477.30" font-size="6.0" fill="#333" textLength="19.00" lengthAdjust="spacingAndGlyphs">0.0609</text>
<line x1="387.20" y1="472.00" x2="387.20" y2="484.10" stroke="#888" stroke-width="0.6"/>
<path d="M399.4,458.7 H402.9 V489.0 H399.4" fill="none" stroke="#888" stroke-width="0.6"/>
<text x="405.20" y="473.70" font-size="6.0" fill="#333" text-anchor="middle" textLength="19.00" lengthAdjust="spacingAndGlyphs" transform="rotate(90 405.20 473.70)">0.0062</text>
<text x="420.40" y="428.60" font-size="11.0" fill="#111" font-weight="bold">H</text>
<text x="476.30" y="427.00" font-size="7.2" fill="#222" text-anchor="middle" textLength="37.60" lengthAdjust="spacingAndGlyphs">peripheral</text>
<text x="476.30" y="435.00" font-size="7.2" fill="#222" text-anchor="middle" textLength="37.00" lengthAdjust="spacingAndGlyphs">blood d29</text>
<rect x="463.50" y="485.03" width="5.70" height="12.72" fill="#7da0d6" stroke="#5a7eb8" stroke-width="0.5"/>
<line x1="466.35" y1="485.03" x2="466.35" y2="478.29" stroke="#333" stroke-width="0.6"/>
<line x1="465.15" y1="478.29" x2="467.55" y2="478.29" stroke="#333" stroke-width="0.6"/>
<circle cx="465.35" cy="488.77" r="0.81" fill="#2a4e8a" stroke="none" stroke-width="0.5"/>
<circle cx="467.35" cy="484.28" r="0.81" fill="#2a4e8a" stroke="none" stroke-width="0.5"/>
<circle cx="466.35" cy="479.79" r="0.81" fill="#2a4e8a" stroke="none" stroke-width="0.5"/>
<circle cx="464.85" cy="491.76" r="0.81" fill="#2a4e8a" stroke="none" stroke-width="0.5"/>
<circle cx="467.85" cy="487.27" r="0.81" fill="#2a4e8a" stroke="none" stroke-width="0.5"/>
<circle cx="466.35" cy="482.78" r="0.81" fill="#2a4e8a" stroke="none" stroke-width="0.5"/>
<rect x="473.10" y="464.07" width="6.40" height="33.68" fill="#a8d59c" stroke="#7cba6e" stroke-width="0.5"/>
<line x1="476.30" y1="464.07" x2="476.30" y2="457.33" stroke="#4a8a3a" stroke-width="0.6"/>
<line x1="475.10" y1="457.33" x2="477.50" y2="457.33" stroke="#333" stroke-width="0.6"/>
<rect x="474.54" y="459.56" width="1.53" height="1.53" fill="#4aa040" stroke="none" stroke-width="0.5"/>
<rect x="476.54" y="467.05" width="1.53" height="1.53" fill="#4aa040" stroke="none" stroke-width="0.5"/>
<rect x="475.54" y="456.57" width="1.53" height="1.53" fill="#4aa040" stroke="none" stroke-width="0.5"/>
<rect x="474.04" y="470.04" width="1.53" height="1.53" fill="#4aa040" stroke="none" stroke-width="0.5"/>
<rect x="477.04" y="462.55" width="1.53" height="1.53" fill="#4aa040" stroke="none" stroke-width="0.5"/>
<rect x="483.40" y="467.06" width="6.20" height="30.69" fill="#a27ec2" stroke="#8a62ac" stroke-width="0.5"/>
<line x1="486.50" y1="467.06" x2="486.50" y2="462.57" stroke="#333" stroke-width="0.6"/>
<line x1="485.30" y1="462.57" x2="487.70" y2="462.57" stroke="#333" stroke-width="0.6"/>
<polygon points="486.50,461.58 485.60,463.20 487.40,463.20" fill="#5a2a78"/>
<polygon points="485.50,468.32 484.60,469.94 486.40,469.94" fill="#5a2a78"/>
<polygon points="487.50,465.32 486.60,466.94 488.40,466.94" fill="#5a2a78"/>
<line x1="459.50" y1="445.00" x2="459.50" y2="498.25" stroke="#1a1a1a" stroke-width="1.0"/>
<line x1="456.70" y1="452.84" x2="459.50" y2="452.84" stroke="#1a1a1a" stroke-width="0.8"/>
<line x1="456.70" y1="467.81" x2="459.50" y2="467.81" stroke="#1a1a1a" stroke-width="0.8"/>
<line x1="456.70" y1="482.78" x2="459.50" y2="482.78" stroke="#1a1a1a" stroke-width="0.8"/>
<line x1="456.70" y1="497.75" x2="459.50" y2="497.75" stroke="#1a1a1a" stroke-width="0.8"/>
<text x="452.60" y="452.84" font-size="6.0" fill="#222" text-anchor="middle" transform="rotate(-90 452.60 452.84)">30</text>
<text x="452.60" y="467.81" font-size="6.0" fill="#222" text-anchor="middle" transform="rotate(-90 452.60 467.81)">20</text>
<text x="452.60" y="482.78" font-size="6.0" fill="#222" text-anchor="middle" transform="rotate(-90 452.60 482.78)">10</text>
<text x="452.60" y="497.75" font-size="6.0" fill="#222" text-anchor="middle" transform="rotate(-90 452.60 497.75)">0</text>
<line x1="459.00" y1="497.50" x2="493.10" y2="497.50" stroke="#1a1a1a" stroke-width="1.0"/>
<text x="440.80" y="472.40" font-size="7.3" fill="#222" text-anchor="middle" textLength="61.00" lengthAdjust="spacingAndGlyphs" transform="rotate(-90 440.80 472.40)">% CD45.1+ of CD3+</text>
<line x1="466.25" y1="453.10" x2="476.00" y2="453.10" stroke="#222" stroke-width="0.9"/>
<text x="471.50" y="453.40" font-size="6.4" fill="#222" text-anchor="middle" textLength="7.20" lengthAdjust="spacingAndGlyphs">***</text>
<line x1="466.25" y1="446.00" x2="486.25" y2="446.00" stroke="#222" stroke-width="0.9"/>
<text x="476.60" y="446.40" font-size="6.4" fill="#222" text-anchor="middle" textLength="4.60" lengthAdjust="spacingAndGlyphs">**</text>
<line x1="420.70" y1="515.10" x2="429.50" y2="515.10" stroke="#1d4f8a" stroke-width="0.6"/>
<circle cx="425.10" cy="515.10" r="1.17" fill="#1d4f8a" stroke="none" stroke-width="0.5"/>
<text x="432.20" y="517.20" font-size="6.2" fill="#333" textLength="71.70" lengthAdjust="spacingAndGlyphs">APRIL-28-1XX-gLuc-GFP</text>
<line x1="420.70" y1="525.20" x2="429.50" y2="525.20" stroke="#3aa935" stroke-width="0.6"/>
<rect x="423.99" y="524.10" width="2.21" height="2.21" fill="#3aa935" stroke="none" stroke-width="0.5"/>
<text x="432.20" y="527.30" font-size="6.2" fill="#333" textLength="77.70" lengthAdjust="spacingAndGlyphs">APRIL-28BB-1XX-gLuc-GFP</text>
<line x1="420.70" y1="534.90" x2="429.50" y2="534.90" stroke="#6a2c8c" stroke-width="0.6"/>
<polygon points="425.10,533.47 423.80,535.81 426.40,535.81" fill="#6a2c8c"/>
<text x="432.20" y="537.00" font-size="6.2" fill="#333" textLength="71.70" lengthAdjust="spacingAndGlyphs">APRIL-BB-1XX-gLuc-GFP</text>
<text x="260.00" y="539.00" font-size="7.9" fill="#222" text-anchor="middle" textLength="97.40" lengthAdjust="spacingAndGlyphs">low antigen expression</text>
<text x="153.20" y="551.50" font-size="7.9" fill="#222" textLength="15.20" lengthAdjust="spacingAndGlyphs">4E5</text>
<text x="171.80" y="551.50" font-size="7.9" fill="#c8284a" textLength="60.70" lengthAdjust="spacingAndGlyphs">MOPC315.BM</text>
<text x="233.60" y="547.60" font-size="5.0" fill="#c8284a" textLength="11.60" lengthAdjust="spacingAndGlyphs">low</text>
<text x="247.40" y="551.50" font-size="7.9" fill="#222" textLength="21.10" lengthAdjust="spacingAndGlyphs">(TACI</text>
<text x="268.80" y="547.60" font-size="5.0" fill="#222" textLength="7.50" lengthAdjust="spacingAndGlyphs">KO</text>
<text x="276.30" y="551.50" font-size="7.9" fill="#222" textLength="32.40" lengthAdjust="spacingAndGlyphs">BCMA</text>
<text x="310.00" y="547.60" font-size="5.0" fill="#222" textLength="11.20" lengthAdjust="spacingAndGlyphs">low</text>
<text x="321.80" y="551.50" font-size="7.9" fill="#222" textLength="33.20" lengthAdjust="spacingAndGlyphs">BAFF-R</text>
<text x="355.00" y="547.60" font-size="5.0" fill="#222" textLength="11.00" lengthAdjust="spacingAndGlyphs">low</text>
<text x="366.00" y="551.50" font-size="7.9" fill="#222">)</text>
<text x="14.60" y="569.80" font-size="11.0" fill="#111" font-weight="bold">I</text>
<text x="88.40" y="573.70" font-size="7.8" fill="#222" text-anchor="middle" textLength="35.90" lengthAdjust="spacingAndGlyphs">tumor BLI</text>
<polyline points="58.21,629.10 71.25,611.10 81.03,604.80 92.44,598.50 103.85,593.10 115.26,587.25" fill="none" stroke="#d9cfe6" stroke-width="0.6" stroke-linejoin="round"/>
<polygon points="58.21,628.17 57.36,629.10 58.21,630.03 59.06,629.10" fill="#d9cfe6"/>
<polygon points="71.25,610.17 70.40,611.10 71.25,612.03 72.10,611.10" fill="#d9cfe6"/>
<polygon points="81.03,603.87 80.18,604.80 81.03,605.73 81.88,604.80" fill="#d9cfe6"/>
<polygon points="92.44,597.57 91.59,598.50 92.44,599.43 93.29,598.50" fill="#d9cfe6"/>
<polygon points="103.85,592.17 103.00,593.10 103.85,594.03 104.70,593.10" fill="#d9cfe6"/>
<polygon points="115.26,586.32 114.41,587.25 115.26,588.18 116.11,587.25" fill="#d9cfe6"/>
<polyline points="58.21,630.90 71.25,616.50 81.03,609.30 92.44,602.10 103.85,595.80 115.26,590.40" fill="none" stroke="#d9cfe6" stroke-width="0.6" stroke-linejoin="round"/>
<polygon points="58.21,629.97 57.36,630.90 58.21,631.83 59.06,630.90" fill="#d9cfe6"/>
<polygon points="71.25,615.57 70.40,616.50 71.25,617.43 72.10,616.50" fill="#d9cfe6"/>
<polygon points="81.03,608.37 80.18,609.30 81.03,610.23 81.88,609.30" fill="#d9cfe6"/>
<polygon points="92.44,601.17 91.59,602.10 92.44,603.03 93.29,602.10" fill="#d9cfe6"/>
<polygon points="103.85,594.87 103.00,595.80 103.85,596.73 104.70,595.80" fill="#d9cfe6"/>
<polygon points="115.26,589.47 114.41,590.40 115.26,591.33 116.11,590.40" fill="#d9cfe6"/>
<polyline points="58.21,630.00 71.25,613.80 81.03,605.70 92.44,600.30 103.85,594.90" fill="none" stroke="#d9cfe6" stroke-width="0.6" stroke-linejoin="round"/>
<polygon points="58.21,629.07 57.36,630.00 58.21,630.93 59.06,630.00" fill="#d9cfe6"/>
<polygon points="71.25,612.87 70.40,613.80 71.25,614.73 72.10,613.80" fill="#d9cfe6"/>
<polygon points="81.03,604.77 80.18,605.70 81.03,606.63 81.88,605.70" fill="#d9cfe6"/>
<polygon points="92.44,599.37 91.59,600.30 92.44,601.23 93.29,600.30" fill="#d9cfe6"/>
<polygon points="103.85,593.97 103.00,594.90 103.85,595.83 104.70,594.90" fill="#d9cfe6"/>
<polyline points="58.21,630.00 71.25,609.30 81.03,603.45 92.44,599.40 103.85,594.90" fill="none" stroke="#f5a238" stroke-width="0.6" stroke-linejoin="round"/>
<circle cx="58.21" cy="630.00" r="0.77" fill="#f5a238" stroke="none" stroke-width="0.5"/>
<circle cx="71.25" cy="609.30" r="0.77" fill="#f5a238" stroke="none" stroke-width="0.5"/>
<circle cx="81.03" cy="603.45" r="0.77" fill="#f5a238" stroke="none" stroke-width="0.5"/>
<circle cx="92.44" cy="599.40" r="0.77" fill="#f5a238" stroke="none" stroke-width="0.5"/>
<circle cx="103.85" cy="594.90" r="0.77" fill="#f5a238" stroke="none" stroke-width="0.5"/>
<polyline points="58.21,630.90 71.25,620.10 81.03,616.50 92.44,611.10 103.85,613.80 115.26,611.10" fill="none" stroke="#f5a238" stroke-width="0.6" stroke-linejoin="round"/>
<circle cx="58.21" cy="630.90" r="0.77" fill="#f5a238" stroke="none" stroke-width="0.5"/>
<circle cx="71.25" cy="620.10" r="0.77" fill="#f5a238" stroke="none" stroke-width="0.5"/>
<circle cx="81.03" cy="616.50" r="0.77" fill="#f5a238" stroke="none" stroke-width="0.5"/>
<circle cx="92.44" cy="611.10" r="0.77" fill="#f5a238" stroke="none" stroke-width="0.5"/>
<circle cx="103.85" cy="613.80" r="0.77" fill="#f5a238" stroke="none" stroke-width="0.5"/>
<circle cx="115.26" cy="611.10" r="0.77" fill="#f5a238" stroke="none" stroke-width="0.5"/>
<polyline points="58.21,631.80 71.25,629.10 81.03,622.80 92.44,625.50 103.85,621.90 115.26,622.80" fill="none" stroke="#f5a238" stroke-width="0.6" stroke-linejoin="round"/>
<circle cx="58.21" cy="631.80" r="0.77" fill="#f5a238" stroke="none" stroke-width="0.5"/>
<circle cx="71.25" cy="629.10" r="0.77" fill="#f5a238" stroke="none" stroke-width="0.5"/>
<circle cx="81.03" cy="622.80" r="0.77" fill="#f5a238" stroke="none" stroke-width="0.5"/>
<circle cx="92.44" cy="625.50" r="0.77" fill="#f5a238" stroke="none" stroke-width="0.5"/>
<circle cx="103.85" cy="621.90" r="0.77" fill="#f5a238" stroke="none" stroke-width="0.5"/>
<circle cx="115.26" cy="622.80" r="0.77" fill="#f5a238" stroke="none" stroke-width="0.5"/>
<polyline points="58.21,630.00 71.25,626.40 81.03,630.90 92.44,628.20 103.85,623.70 115.26,626.40" fill="none" stroke="#f5a238" stroke-width="0.6" stroke-linejoin="round"/>
<circle cx="58.21" cy="630.00" r="0.77" fill="#f5a238" stroke="none" stroke-width="0.5"/>
<circle cx="71.25" cy="626.40" r="0.77" fill="#f5a238" stroke="none" stroke-width="0.5"/>
<circle cx="81.03" cy="630.90" r="0.77" fill="#f5a238" stroke="none" stroke-width="0.5"/>
<circle cx="92.44" cy="628.20" r="0.77" fill="#f5a238" stroke="none" stroke-width="0.5"/>
<circle cx="103.85" cy="623.70" r="0.77" fill="#f5a238" stroke="none" stroke-width="0.5"/>
<circle cx="115.26" cy="626.40" r="0.77" fill="#f5a238" stroke="none" stroke-width="0.5"/>
<polyline points="58.21,629.10 71.25,621.90 81.03,620.10 92.44,614.70 103.85,612.90 115.26,608.40" fill="none" stroke="#f5a238" stroke-width="0.6" stroke-linejoin="round"/>
<circle cx="58.21" cy="629.10" r="0.77" fill="#f5a238" stroke="none" stroke-width="0.5"/>
<circle cx="71.25" cy="621.90" r="0.77" fill="#f5a238" stroke="none" stroke-width="0.5"/>
<circle cx="81.03" cy="620.10" r="0.77" fill="#f5a238" stroke="none" stroke-width="0.5"/>
<circle cx="92.44" cy="614.70" r="0.77" fill="#f5a238" stroke="none" stroke-width="0.5"/>
<circle cx="103.85" cy="612.90" r="0.77" fill="#f5a238" stroke="none" stroke-width="0.5"/>
<circle cx="115.26" cy="608.40" r="0.77" fill="#f5a238" stroke="none" stroke-width="0.5"/>
<polyline points="58.21,630.00 71.25,612.00 81.03,608.76 92.44,604.35 103.85,600.30 115.26,594.00" fill="none" stroke="#c8143c" stroke-width="0.6" stroke-linejoin="round"/>
<circle cx="58.21" cy="630.00" r="0.77" fill="#c8143c" stroke="none" stroke-width="0.5"/>
<circle cx="71.25" cy="612.00" r="0.77" fill="#c8143c" stroke="none" stroke-width="0.5"/>
<circle cx="81.03" cy="608.76" r="0.77" fill="#c8143c" stroke="none" stroke-width="0.5"/>
<circle cx="92.44" cy="604.35" r="0.77" fill="#c8143c" stroke="none" stroke-width="0.5"/>
<circle cx="103.85" cy="600.30" r="0.77" fill="#c8143c" stroke="none" stroke-width="0.5"/>
<circle cx="115.26" cy="594.00" r="0.77" fill="#c8143c" stroke="none" stroke-width="0.5"/>
<polyline points="58.21,630.90 71.25,623.70 81.03,617.40 92.44,605.70 103.85,612.90 115.26,616.05" fill="none" stroke="#c8143c" stroke-width="0.6" stroke-linejoin="round"/>
<circle cx="58.21" cy="630.90" r="0.77" fill="#c8143c" stroke="none" stroke-width="0.5"/>
<circle cx="71.25" cy="623.70" r="0.77" fill="#c8143c" stroke="none" stroke-width="0.5"/>
<circle cx="81.03" cy="617.40" r="0.77" fill="#c8143c" stroke="none" stroke-width="0.5"/>
<circle cx="92.44" cy="605.70" r="0.77" fill="#c8143c" stroke="none" stroke-width="0.5"/>
<circle cx="103.85" cy="612.90" r="0.77" fill="#c8143c" stroke="none" stroke-width="0.5"/>
<circle cx="115.26" cy="616.05" r="0.77" fill="#c8143c" stroke="none" stroke-width="0.5"/>
<polyline points="58.21,631.80 71.25,627.30 81.03,626.40 92.44,627.30 103.85,630.90 115.26,631.80" fill="none" stroke="#c8143c" stroke-width="0.6" stroke-linejoin="round"/>
<circle cx="58.21" cy="631.80" r="0.77" fill="#c8143c" stroke="none" stroke-width="0.5"/>
<circle cx="71.25" cy="627.30" r="0.77" fill="#c8143c" stroke="none" stroke-width="0.5"/>
<circle cx="81.03" cy="626.40" r="0.77" fill="#c8143c" stroke="none" stroke-width="0.5"/>
<circle cx="92.44" cy="627.30" r="0.77" fill="#c8143c" stroke="none" stroke-width="0.5"/>
<circle cx="103.85" cy="630.90" r="0.77" fill="#c8143c" stroke="none" stroke-width="0.5"/>
<circle cx="115.26" cy="631.80" r="0.77" fill="#c8143c" stroke="none" stroke-width="0.5"/>
<polyline points="58.21,630.00 71.25,630.00 81.03,625.50 92.44,623.70 103.85,621.90 115.26,623.70" fill="none" stroke="#c8143c" stroke-width="0.6" stroke-linejoin="round"/>
<circle cx="58.21" cy="630.00" r="0.77" fill="#c8143c" stroke="none" stroke-width="0.5"/>
<circle cx="71.25" cy="630.00" r="0.77" fill="#c8143c" stroke="none" stroke-width="0.5"/>
<circle cx="81.03" cy="625.50" r="0.77" fill="#c8143c" stroke="none" stroke-width="0.5"/>
<circle cx="92.44" cy="623.70" r="0.77" fill="#c8143c" stroke="none" stroke-width="0.5"/>
<circle cx="103.85" cy="621.90" r="0.77" fill="#c8143c" stroke="none" stroke-width="0.5"/>
<circle cx="115.26" cy="623.70" r="0.77" fill="#c8143c" stroke="none" stroke-width="0.5"/>
<polyline points="58.21,629.10 71.25,625.50 81.03,621.90 92.44,621.00 103.85,620.10 115.26,612.90" fill="none" stroke="#c8143c" stroke-width="0.6" stroke-linejoin="round"/>
<circle cx="58.21" cy="629.10" r="0.77" fill="#c8143c" stroke="none" stroke-width="0.5"/>
<circle cx="71.25" cy="625.50" r="0.77" fill="#c8143c" stroke="none" stroke-width="0.5"/>
<circle cx="81.03" cy="621.90" r="0.77" fill="#c8143c" stroke="none" stroke-width="0.5"/>
<circle cx="92.44" cy="621.00" r="0.77" fill="#c8143c" stroke="none" stroke-width="0.5"/>
<circle cx="103.85" cy="620.10" r="0.77" fill="#c8143c" stroke="none" stroke-width="0.5"/>
<circle cx="115.26" cy="612.90" r="0.77" fill="#c8143c" stroke="none" stroke-width="0.5"/>
<polyline points="58.21,631.80 71.25,619.20 81.03,612.90 92.44,607.50 103.85,603.45 115.26,602.10" fill="none" stroke="#3aa935" stroke-width="0.6" stroke-linejoin="round"/>
<rect x="57.49" y="631.08" width="1.44" height="1.44" fill="#3aa935" stroke="none" stroke-width="0.5"/>
<rect x="70.53" y="618.48" width="1.44" height="1.44" fill="#3aa935" stroke="none" stroke-width="0.5"/>
<rect x="80.31" y="612.18" width="1.44" height="1.44" fill="#3aa935" stroke="none" stroke-width="0.5"/>
<rect x="91.72" y="606.78" width="1.44" height="1.44" fill="#3aa935" stroke="none" stroke-width="0.5"/>
<rect x="103.13" y="602.73" width="1.44" height="1.44" fill="#3aa935" stroke="none" stroke-width="0.5"/>
<rect x="114.54" y="601.38" width="1.44" height="1.44" fill="#3aa935" stroke="none" stroke-width="0.5"/>
<polyline points="58.21,630.90 71.25,621.90 81.03,616.50 92.44,612.00 103.85,605.70 115.26,604.35" fill="none" stroke="#3aa935" stroke-width="0.6" stroke-linejoin="round"/>
<rect x="57.49" y="630.18" width="1.44" height="1.44" fill="#3aa935" stroke="none" stroke-width="0.5"/>
<rect x="70.53" y="621.18" width="1.44" height="1.44" fill="#3aa935" stroke="none" stroke-width="0.5"/>
<rect x="80.31" y="615.78" width="1.44" height="1.44" fill="#3aa935" stroke="none" stroke-width="0.5"/>
<rect x="91.72" y="611.28" width="1.44" height="1.44" fill="#3aa935" stroke="none" stroke-width="0.5"/>
<rect x="103.13" y="604.98" width="1.44" height="1.44" fill="#3aa935" stroke="none" stroke-width="0.5"/>
<rect x="114.54" y="603.63" width="1.44" height="1.44" fill="#3aa935" stroke="none" stroke-width="0.5"/>
<polyline points="58.21,630.00 71.25,626.40 81.03,620.10 92.44,610.20 103.85,616.50 115.26,617.40" fill="none" stroke="#3aa935" stroke-width="0.6" stroke-linejoin="round"/>
<rect x="57.49" y="629.28" width="1.44" height="1.44" fill="#3aa935" stroke="none" stroke-width="0.5"/>
<rect x="70.53" y="625.68" width="1.44" height="1.44" fill="#3aa935" stroke="none" stroke-width="0.5"/>
<rect x="80.31" y="619.38" width="1.44" height="1.44" fill="#3aa935" stroke="none" stroke-width="0.5"/>
<rect x="91.72" y="609.48" width="1.44" height="1.44" fill="#3aa935" stroke="none" stroke-width="0.5"/>
<rect x="103.13" y="615.78" width="1.44" height="1.44" fill="#3aa935" stroke="none" stroke-width="0.5"/>
<rect x="114.54" y="616.68" width="1.44" height="1.44" fill="#3aa935" stroke="none" stroke-width="0.5"/>
<polyline points="58.21,632.70 71.25,629.10 81.03,623.70 92.44,614.70 103.85,623.70 115.26,630.90" fill="none" stroke="#3aa935" stroke-width="0.6" stroke-linejoin="round"/>
<rect x="57.49" y="631.98" width="1.44" height="1.44" fill="#3aa935" stroke="none" stroke-width="0.5"/>
<rect x="70.53" y="628.38" width="1.44" height="1.44" fill="#3aa935" stroke="none" stroke-width="0.5"/>
<rect x="80.31" y="622.98" width="1.44" height="1.44" fill="#3aa935" stroke="none" stroke-width="0.5"/>
<rect x="91.72" y="613.98" width="1.44" height="1.44" fill="#3aa935" stroke="none" stroke-width="0.5"/>
<rect x="103.13" y="622.98" width="1.44" height="1.44" fill="#3aa935" stroke="none" stroke-width="0.5"/>
<rect x="114.54" y="630.18" width="1.44" height="1.44" fill="#3aa935" stroke="none" stroke-width="0.5"/>
<polyline points="58.21,630.90 71.25,628.20 81.03,625.50 92.44,612.90 103.85,614.70 115.26,611.10" fill="none" stroke="#3aa935" stroke-width="0.6" stroke-linejoin="round"/>
<rect x="57.49" y="630.18" width="1.44" height="1.44" fill="#3aa935" stroke="none" stroke-width="0.5"/>
<rect x="70.53" y="627.48" width="1.44" height="1.44" fill="#3aa935" stroke="none" stroke-width="0.5"/>
<rect x="80.31" y="624.78" width="1.44" height="1.44" fill="#3aa935" stroke="none" stroke-width="0.5"/>
<rect x="91.72" y="612.18" width="1.44" height="1.44" fill="#3aa935" stroke="none" stroke-width="0.5"/>
<rect x="103.13" y="613.98" width="1.44" height="1.44" fill="#3aa935" stroke="none" stroke-width="0.5"/>
<rect x="114.54" y="610.38" width="1.44" height="1.44" fill="#3aa935" stroke="none" stroke-width="0.5"/>
<line x1="46.50" y1="578.00" x2="46.50" y2="635.00" stroke="#1a1a1a" stroke-width="1.0"/>
<line x1="43.70" y1="634.50" x2="46.50" y2="634.50" stroke="#1a1a1a" stroke-width="0.8"/>
<text x="40.00" y="636.30" font-size="6.1" fill="#222" text-anchor="end">10<tspan font-size="3.90" dy="-3.05">5</tspan></text>
<line x1="43.70" y1="625.50" x2="46.50" y2="625.50" stroke="#1a1a1a" stroke-width="0.8"/>
<text x="40.00" y="627.30" font-size="6.1" fill="#222" text-anchor="end">10<tspan font-size="3.90" dy="-3.05">6</tspan></text>
<line x1="43.70" y1="616.50" x2="46.50" y2="616.50" stroke="#1a1a1a" stroke-width="0.8"/>
<text x="40.00" y="618.30" font-size="6.1" fill="#222" text-anchor="end">10<tspan font-size="3.90" dy="-3.05">7</tspan></text>
<line x1="43.70" y1="607.50" x2="46.50" y2="607.50" stroke="#1a1a1a" stroke-width="0.8"/>
<text x="40.00" y="609.30" font-size="6.1" fill="#222" text-anchor="end">10<tspan font-size="3.90" dy="-3.05">8</tspan></text>
<line x1="43.70" y1="598.50" x2="46.50" y2="598.50" stroke="#1a1a1a" stroke-width="0.8"/>
<text x="40.00" y="600.30" font-size="6.1" fill="#222" text-anchor="end">10<tspan font-size="3.90" dy="-3.05">9</tspan></text>
<line x1="43.70" y1="589.50" x2="46.50" y2="589.50" stroke="#1a1a1a" stroke-width="0.8"/>
<text x="40.00" y="591.30" font-size="6.1" fill="#222" text-anchor="end">10<tspan font-size="3.90" dy="-3.05">10</tspan></text>
<line x1="43.70" y1="580.50" x2="46.50" y2="580.50" stroke="#1a1a1a" stroke-width="0.8"/>
<text x="40.00" y="582.30" font-size="6.1" fill="#222" text-anchor="end">10<tspan font-size="3.90" dy="-3.05">11</tspan></text>
<line x1="46.00" y1="634.50" x2="129.70" y2="634.50" stroke="#1a1a1a" stroke-width="1.0"/>
<line x1="46.80" y1="634.50" x2="46.80" y2="637.30" stroke="#1a1a1a" stroke-width="0.8"/>
<text x="46.80" y="645.00" font-size="6.1" fill="#222" text-anchor="middle">0</text>
<line x1="63.10" y1="634.50" x2="63.10" y2="637.30" stroke="#1a1a1a" stroke-width="0.8"/>
<text x="63.10" y="645.00" font-size="6.1" fill="#222" text-anchor="middle">10</text>
<line x1="79.40" y1="634.50" x2="79.40" y2="637.30" stroke="#1a1a1a" stroke-width="0.8"/>
<text x="79.40" y="645.00" font-size="6.1" fill="#222" text-anchor="middle">20</text>
<line x1="95.70" y1="634.50" x2="95.70" y2="637.30" stroke="#1a1a1a" stroke-width="0.8"/>
<text x="95.70" y="645.00" font-size="6.1" fill="#222" text-anchor="middle">30</text>
<line x1="112.00" y1="634.50" x2="112.00" y2="637.30" stroke="#1a1a1a" stroke-width="0.8"/>
<text x="112.00" y="645.00" font-size="6.1" fill="#222" text-anchor="middle">40</text>
<line x1="128.30" y1="634.50" x2="128.30" y2="637.30" stroke="#1a1a1a" stroke-width="0.8"/>
<text x="128.30" y="645.00" font-size="6.1" fill="#222" text-anchor="middle">50</text>
<text x="88.30" y="656.60" font-size="7.4" fill="#222" text-anchor="middle" textLength="49.00" lengthAdjust="spacingAndGlyphs">Days after tumor</text>
<text x="14.10" y="605.90" font-size="7.3" fill="#222" text-anchor="middle" textLength="60.60" lengthAdjust="spacingAndGlyphs" transform="rotate(-90 14.10 605.90)">Tumor luminescence</text>
<text x="23.70" y="605.40" font-size="7.3" fill="#222" text-anchor="middle" textLength="34.40" lengthAdjust="spacingAndGlyphs" transform="rotate(-90 23.70 605.40)">(photons/s)</text>
<text x="208.80" y="575.80" font-size="7.8" fill="#222" text-anchor="middle" textLength="28.70" lengthAdjust="spacingAndGlyphs">survival</text>
<path d="M167.30,585.70 H188.49 V595.48 H189.98 V615.04 H196.73 V624.82 H220.80 V634.60" fill="none" stroke="#ddd6ea" stroke-width="0.75"/>
<path d="M167.30,585.70 H188.49 V595.48 H192.23 V605.26 H203.25 V615.04 H213.42 V624.82 H221.71 V634.60" fill="none" stroke="#f5a238" stroke-width="0.75"/>
<path d="M167.30,585.70 H198.70 V595.48 H210.64 V605.26 H212.51 V615.04 H213.42 V624.82 H232.84" fill="none" stroke="#c8143c" stroke-width="0.75"/>
<circle cx="232.84" cy="624.82" r="1.08" fill="#c8143c" stroke="none" stroke-width="0.5"/>
<path d="M167.30,585.70 H203.25 V595.48 H205.12 V615.04 H215.24 V624.82 H222.62 V634.60" fill="none" stroke="#6cbf5a" stroke-width="0.75"/>
<line x1="167.50" y1="581.10" x2="167.50" y2="635.10" stroke="#1a1a1a" stroke-width="1.0"/>
<line x1="164.70" y1="585.70" x2="167.50" y2="585.70" stroke="#1a1a1a" stroke-width="0.8"/>
<text x="162.20" y="587.70" font-size="6.1" fill="#222" text-anchor="end">100</text>
<line x1="164.70" y1="610.15" x2="167.50" y2="610.15" stroke="#1a1a1a" stroke-width="0.8"/>
<text x="162.20" y="612.15" font-size="6.1" fill="#222" text-anchor="end">50</text>
<line x1="164.70" y1="634.60" x2="167.50" y2="634.60" stroke="#1a1a1a" stroke-width="0.8"/>
<text x="162.20" y="636.60" font-size="6.1" fill="#222" text-anchor="end">0</text>
<line x1="167.00" y1="634.50" x2="248.20" y2="634.50" stroke="#1a1a1a" stroke-width="1.0"/>
<line x1="167.30" y1="634.50" x2="167.30" y2="637.30" stroke="#1a1a1a" stroke-width="0.8"/>
<text x="167.30" y="645.50" font-size="6.1" fill="#222" text-anchor="middle">0</text>
<line x1="194.05" y1="634.50" x2="194.05" y2="637.30" stroke="#1a1a1a" stroke-width="0.8"/>
<text x="194.05" y="645.50" font-size="6.1" fill="#222" text-anchor="middle">50</text>
<line x1="220.80" y1="634.50" x2="220.80" y2="637.30" stroke="#1a1a1a" stroke-width="0.8"/>
<text x="220.80" y="645.50" font-size="6.1" fill="#222" text-anchor="middle">100</text>
<line x1="247.55" y1="634.50" x2="247.55" y2="637.30" stroke="#1a1a1a" stroke-width="0.8"/>
<text x="247.55" y="645.50" font-size="6.1" fill="#222" text-anchor="middle">150</text>
<text x="209.00" y="656.60" font-size="7.4" fill="#222" text-anchor="middle" textLength="48.90" lengthAdjust="spacingAndGlyphs">Days after tumor</text>
<text x="145.00" y="608.00" font-size="7.3" fill="#222" text-anchor="middle" textLength="46.00" lengthAdjust="spacingAndGlyphs" transform="rotate(-90 145.00 608.00)">Percent survival</text>
<text x="170.0" y="630.6" font-size="6.2" fill="#333" textLength="46" lengthAdjust="spacingAndGlyphs"><tspan font-style="italic">n</tspan> = 5 <tspan font-style="italic">per group</tspan></text>
<line x1="144.00" y1="672.00" x2="152.10" y2="672.00" stroke="#f5a238" stroke-width="0.6"/>
<circle cx="148.05" cy="672.00" r="1.17" fill="#f5a238" stroke="none" stroke-width="0.5"/>
<text x="155.70" y="674.10" font-size="6.2" fill="#333" textLength="41.50" lengthAdjust="spacingAndGlyphs">BCMA-28-1XX</text>
<line x1="144.00" y1="681.70" x2="152.10" y2="681.70" stroke="#c8143c" stroke-width="0.6"/>
<circle cx="148.05" cy="681.70" r="1.17" fill="#c8143c" stroke="none" stroke-width="0.5"/>
<text x="155.70" y="683.80" font-size="6.2" fill="#333" textLength="49.80" lengthAdjust="spacingAndGlyphs">BCMA-28BB-1XX</text>
<line x1="215.40" y1="672.00" x2="223.50" y2="672.00" stroke="#3aa935" stroke-width="0.6"/>
<rect x="218.35" y="670.89" width="2.21" height="2.21" fill="#3aa935" stroke="none" stroke-width="0.5"/>
<text x="227.10" y="674.10" font-size="6.2" fill="#333" textLength="47.90" lengthAdjust="spacingAndGlyphs">APRIL-28BB-1XX</text>
<line x1="215.40" y1="681.70" x2="223.50" y2="681.70" stroke="#d9cfe6" stroke-width="0.6"/>
<polygon points="219.45,680.27 218.15,681.70 219.45,683.13 220.75,681.70" fill="#d9cfe6"/>
<text x="227.10" y="683.80" font-size="6.2" fill="#333" textLength="30.40" lengthAdjust="spacingAndGlyphs">tumor only</text>
<text x="269.60" y="569.80" font-size="11.0" fill="#111" font-weight="bold">J</text>
<text x="344.80" y="571.20" font-size="7.8" fill="#222" text-anchor="middle" textLength="36.60" lengthAdjust="spacingAndGlyphs">tumor BLI</text>
<polyline points="311.19,627.46 320.78,608.43 330.37,601.29 339.96,595.74 349.55,590.19" fill="none" stroke="#c4c4c4" stroke-width="0.75" stroke-linejoin="round"/>
<polygon points="311.19,626.47 310.29,627.46 311.19,628.45 312.09,627.46" fill="#c4c4c4"/>
<polygon points="320.78,607.44 319.88,608.43 320.78,609.42 321.68,608.43" fill="#c4c4c4"/>
<polygon points="330.37,600.30 329.47,601.29 330.37,602.28 331.27,601.29" fill="#c4c4c4"/>
<polygon points="339.96,594.75 339.06,595.74 339.96,596.73 340.86,595.74" fill="#c4c4c4"/>
<polygon points="349.55,589.20 348.65,590.19 349.55,591.18 350.45,590.19" fill="#c4c4c4"/>
<polyline points="311.19,629.05 320.78,612.40 330.37,602.88 339.96,597.33 349.55,593.36" fill="none" stroke="#c4c4c4" stroke-width="0.75" stroke-linejoin="round"/>
<polygon points="311.19,628.06 310.29,629.05 311.19,630.04 312.09,629.05" fill="#c4c4c4"/>
<polygon points="320.78,611.41 319.88,612.40 320.78,613.39 321.68,612.40" fill="#c4c4c4"/>
<polygon points="330.37,601.89 329.47,602.88 330.37,603.87 331.27,602.88" fill="#c4c4c4"/>
<polygon points="339.96,596.34 339.06,597.33 339.96,598.32 340.86,597.33" fill="#c4c4c4"/>
<polygon points="349.55,592.37 348.65,593.36 349.55,594.35 350.45,593.36" fill="#c4c4c4"/>
<polyline points="311.19,628.26 320.78,610.81 330.37,602.09 339.96,598.12" fill="none" stroke="#c4c4c4" stroke-width="0.75" stroke-linejoin="round"/>
<polygon points="311.19,627.27 310.29,628.26 311.19,629.25 312.09,628.26" fill="#c4c4c4"/>
<polygon points="320.78,609.82 319.88,610.81 320.78,611.80 321.68,610.81" fill="#c4c4c4"/>
<polygon points="330.37,601.10 329.47,602.09 330.37,603.08 331.27,602.09" fill="#c4c4c4"/>
<polygon points="339.96,597.13 339.06,598.12 339.96,599.11 340.86,598.12" fill="#c4c4c4"/>
<polyline points="311.19,625.88 320.78,613.98 330.37,605.26 339.96,598.28 349.55,593.36 359.14,587.81 368.73,587.02" fill="none" stroke="#45a0d8" stroke-width="0.75" stroke-linejoin="round"/>
<circle cx="311.19" cy="625.88" r="0.81" fill="#45a0d8" stroke="none" stroke-width="0.5"/>
<circle cx="320.78" cy="613.98" r="0.81" fill="#45a0d8" stroke="none" stroke-width="0.5"/>
<circle cx="330.37" cy="605.26" r="0.81" fill="#45a0d8" stroke="none" stroke-width="0.5"/>
<circle cx="339.96" cy="598.28" r="0.81" fill="#45a0d8" stroke="none" stroke-width="0.5"/>
<circle cx="349.55" cy="593.36" r="0.81" fill="#45a0d8" stroke="none" stroke-width="0.5"/>
<circle cx="359.14" cy="587.81" r="0.81" fill="#45a0d8" stroke="none" stroke-width="0.5"/>
<circle cx="368.73" cy="587.02" r="0.81" fill="#45a0d8" stroke="none" stroke-width="0.5"/>
<polyline points="311.19,627.07 320.78,617.15 330.37,606.85 339.96,600.50 349.55,599.31 359.14,599.31 368.73,592.81" fill="none" stroke="#45a0d8" stroke-width="0.75" stroke-linejoin="round"/>
<circle cx="311.19" cy="627.07" r="0.81" fill="#45a0d8" stroke="none" stroke-width="0.5"/>
<circle cx="320.78" cy="617.15" r="0.81" fill="#45a0d8" stroke="none" stroke-width="0.5"/>
<circle cx="330.37" cy="606.85" r="0.81" fill="#45a0d8" stroke="none" stroke-width="0.5"/>
<circle cx="339.96" cy="600.50" r="0.81" fill="#45a0d8" stroke="none" stroke-width="0.5"/>
<circle cx="349.55" cy="599.31" r="0.81" fill="#45a0d8" stroke="none" stroke-width="0.5"/>
<circle cx="359.14" cy="599.31" r="0.81" fill="#45a0d8" stroke="none" stroke-width="0.5"/>
<circle cx="368.73" cy="592.81" r="0.81" fill="#45a0d8" stroke="none" stroke-width="0.5"/>
<polyline points="311.19,628.26 320.78,622.94 330.37,616.36 339.96,610.02 349.55,606.05 359.14,599.31 368.73,592.81" fill="none" stroke="#45a0d8" stroke-width="0.75" stroke-linejoin="round"/>
<circle cx="311.19" cy="628.26" r="0.81" fill="#45a0d8" stroke="none" stroke-width="0.5"/>
<circle cx="320.78" cy="622.94" r="0.81" fill="#45a0d8" stroke="none" stroke-width="0.5"/>
<circle cx="330.37" cy="616.36" r="0.81" fill="#45a0d8" stroke="none" stroke-width="0.5"/>
<circle cx="339.96" cy="610.02" r="0.81" fill="#45a0d8" stroke="none" stroke-width="0.5"/>
<circle cx="349.55" cy="606.05" r="0.81" fill="#45a0d8" stroke="none" stroke-width="0.5"/>
<circle cx="359.14" cy="599.31" r="0.81" fill="#45a0d8" stroke="none" stroke-width="0.5"/>
<circle cx="368.73" cy="592.81" r="0.81" fill="#45a0d8" stroke="none" stroke-width="0.5"/>
<polyline points="311.19,627.86 320.78,622.94 330.37,616.36 339.96,603.28 349.55,618.50 359.14,621.52 368.73,612.00" fill="none" stroke="#45a0d8" stroke-width="0.75" stroke-linejoin="round"/>
<circle cx="311.19" cy="627.86" r="0.81" fill="#45a0d8" stroke="none" stroke-width="0.5"/>
<circle cx="320.78" cy="622.94" r="0.81" fill="#45a0d8" stroke="none" stroke-width="0.5"/>
<circle cx="330.37" cy="616.36" r="0.81" fill="#45a0d8" stroke="none" stroke-width="0.5"/>
<circle cx="339.96" cy="603.28" r="0.81" fill="#45a0d8" stroke="none" stroke-width="0.5"/>
<circle cx="349.55" cy="618.50" r="0.81" fill="#45a0d8" stroke="none" stroke-width="0.5"/>
<circle cx="359.14" cy="621.52" r="0.81" fill="#45a0d8" stroke="none" stroke-width="0.5"/>
<circle cx="368.73" cy="612.00" r="0.81" fill="#45a0d8" stroke="none" stroke-width="0.5"/>
<polyline points="311.19,626.67 320.78,613.43 330.37,605.26 339.96,598.28 349.55,599.71 359.14,629.60 368.73,629.60" fill="none" stroke="#45a0d8" stroke-width="0.75" stroke-linejoin="round"/>
<circle cx="311.19" cy="626.67" r="0.81" fill="#45a0d8" stroke="none" stroke-width="0.5"/>
<circle cx="320.78" cy="613.43" r="0.81" fill="#45a0d8" stroke="none" stroke-width="0.5"/>
<circle cx="330.37" cy="605.26" r="0.81" fill="#45a0d8" stroke="none" stroke-width="0.5"/>
<circle cx="339.96" cy="598.28" r="0.81" fill="#45a0d8" stroke="none" stroke-width="0.5"/>
<circle cx="349.55" cy="599.71" r="0.81" fill="#45a0d8" stroke="none" stroke-width="0.5"/>
<circle cx="359.14" cy="629.60" r="0.81" fill="#45a0d8" stroke="none" stroke-width="0.5"/>
<circle cx="368.73" cy="629.60" r="0.81" fill="#45a0d8" stroke="none" stroke-width="0.5"/>
<line x1="302.50" y1="576.00" x2="302.50" y2="635.10" stroke="#1a1a1a" stroke-width="1.0"/>
<line x1="299.70" y1="634.60" x2="302.50" y2="634.60" stroke="#1a1a1a" stroke-width="0.8"/>
<text x="295.60" y="636.40" font-size="6.1" fill="#222" text-anchor="end">10<tspan font-size="3.90" dy="-3.05">5</tspan></text>
<line x1="299.70" y1="626.67" x2="302.50" y2="626.67" stroke="#1a1a1a" stroke-width="0.8"/>
<text x="295.60" y="628.47" font-size="6.1" fill="#222" text-anchor="end">10<tspan font-size="3.90" dy="-3.05">6</tspan></text>
<line x1="299.70" y1="618.74" x2="302.50" y2="618.74" stroke="#1a1a1a" stroke-width="0.8"/>
<text x="295.60" y="620.54" font-size="6.1" fill="#222" text-anchor="end">10<tspan font-size="3.90" dy="-3.05">7</tspan></text>
<line x1="299.70" y1="610.81" x2="302.50" y2="610.81" stroke="#1a1a1a" stroke-width="0.8"/>
<text x="295.60" y="612.61" font-size="6.1" fill="#222" text-anchor="end">10<tspan font-size="3.90" dy="-3.05">8</tspan></text>
<line x1="299.70" y1="602.88" x2="302.50" y2="602.88" stroke="#1a1a1a" stroke-width="0.8"/>
<text x="295.60" y="604.68" font-size="6.1" fill="#222" text-anchor="end">10<tspan font-size="3.90" dy="-3.05">9</tspan></text>
<line x1="299.70" y1="594.95" x2="302.50" y2="594.95" stroke="#1a1a1a" stroke-width="0.8"/>
<text x="295.60" y="596.75" font-size="6.1" fill="#222" text-anchor="end">10<tspan font-size="3.90" dy="-3.05">10</tspan></text>
<line x1="299.70" y1="587.02" x2="302.50" y2="587.02" stroke="#1a1a1a" stroke-width="0.8"/>
<text x="295.60" y="588.82" font-size="6.1" fill="#222" text-anchor="end">10<tspan font-size="3.90" dy="-3.05">11</tspan></text>
<line x1="299.70" y1="579.09" x2="302.50" y2="579.09" stroke="#1a1a1a" stroke-width="0.8"/>
<text x="295.60" y="580.89" font-size="6.1" fill="#222" text-anchor="end">10<tspan font-size="3.90" dy="-3.05">12</tspan></text>
<line x1="302.00" y1="634.50" x2="385.00" y2="634.50" stroke="#1a1a1a" stroke-width="1.0"/>
<line x1="301.60" y1="634.50" x2="301.60" y2="637.30" stroke="#1a1a1a" stroke-width="0.8"/>
<text x="301.60" y="645.50" font-size="6.1" fill="#222" text-anchor="middle">0</text>
<line x1="329.00" y1="634.50" x2="329.00" y2="637.30" stroke="#1a1a1a" stroke-width="0.8"/>
<text x="329.00" y="645.50" font-size="6.1" fill="#222" text-anchor="middle">20</text>
<line x1="356.40" y1="634.50" x2="356.40" y2="637.30" stroke="#1a1a1a" stroke-width="0.8"/>
<text x="356.40" y="645.50" font-size="6.1" fill="#222" text-anchor="middle">40</text>
<line x1="383.80" y1="634.50" x2="383.80" y2="637.30" stroke="#1a1a1a" stroke-width="0.8"/>
<text x="383.80" y="645.50" font-size="6.1" fill="#222" text-anchor="middle">60</text>
<text x="344.50" y="656.60" font-size="7.4" fill="#222" text-anchor="middle" textLength="48.60" lengthAdjust="spacingAndGlyphs">Days after tumor</text>
<text x="269.00" y="603.90" font-size="7.3" fill="#222" text-anchor="middle" textLength="61.70" lengthAdjust="spacingAndGlyphs" transform="rotate(-90 269.00 603.90)">Tumor luminescence</text>
<text x="279.20" y="604.90" font-size="7.3" fill="#222" text-anchor="middle" textLength="33.40" lengthAdjust="spacingAndGlyphs" transform="rotate(-90 279.20 604.90)">(photons/s)</text>
<text x="467.90" y="573.30" font-size="7.8" fill="#222" text-anchor="middle" textLength="27.80" lengthAdjust="spacingAndGlyphs">survival</text>
<path d="M425.40,583.75 H443.03 V593.75 H465.58 V603.75 H472.96 V613.75 H482.80 V623.75 H501.66" fill="none" stroke="#5aaede" stroke-width="0.8"/>
<path d="M425.40,583.75 H453.28 V593.75 H457.71 V603.75 H460.25 V623.75 H465.58 V633.75" fill="none" stroke="#cfcfcf" stroke-width="0.75"/>
<circle cx="501.66" cy="623.75" r="0.99" fill="#3c9ad2" stroke="none" stroke-width="0.5"/>
<line x1="425.50" y1="580.00" x2="425.50" y2="634.25" stroke="#1a1a1a" stroke-width="1.0"/>
<line x1="422.70" y1="583.75" x2="425.50" y2="583.75" stroke="#1a1a1a" stroke-width="0.8"/>
<text x="420.00" y="585.75" font-size="6.1" fill="#222" text-anchor="end">100</text>
<line x1="422.70" y1="608.75" x2="425.50" y2="608.75" stroke="#1a1a1a" stroke-width="0.8"/>
<text x="420.00" y="610.75" font-size="6.1" fill="#222" text-anchor="end">50</text>
<line x1="422.70" y1="633.75" x2="425.50" y2="633.75" stroke="#1a1a1a" stroke-width="0.8"/>
<text x="420.00" y="635.75" font-size="6.1" fill="#222" text-anchor="end">0</text>
<line x1="425.00" y1="633.50" x2="512.00" y2="633.50" stroke="#1a1a1a" stroke-width="1.0"/>
<line x1="425.40" y1="633.50" x2="425.40" y2="636.30" stroke="#1a1a1a" stroke-width="0.8"/>
<text x="425.40" y="645.50" font-size="6.1" fill="#222" text-anchor="middle">0</text>
<line x1="441.80" y1="633.50" x2="441.80" y2="636.30" stroke="#1a1a1a" stroke-width="0.8"/>
<text x="441.80" y="645.50" font-size="6.1" fill="#222" text-anchor="middle">20</text>
<line x1="458.20" y1="633.50" x2="458.20" y2="636.30" stroke="#1a1a1a" stroke-width="0.8"/>
<text x="458.20" y="645.50" font-size="6.1" fill="#222" text-anchor="middle">40</text>
<line x1="474.60" y1="633.50" x2="474.60" y2="636.30" stroke="#1a1a1a" stroke-width="0.8"/>
<text x="474.60" y="645.50" font-size="6.1" fill="#222" text-anchor="middle">60</text>
<line x1="491.00" y1="633.50" x2="491.00" y2="636.30" stroke="#1a1a1a" stroke-width="0.8"/>
<text x="491.00" y="645.50" font-size="6.1" fill="#222" text-anchor="middle">80</text>
<line x1="507.40" y1="633.50" x2="507.40" y2="636.30" stroke="#1a1a1a" stroke-width="0.8"/>
<text x="507.40" y="645.50" font-size="6.1" fill="#222" text-anchor="middle">100</text>
<text x="468.00" y="656.60" font-size="7.4" fill="#222" text-anchor="middle" textLength="48.50" lengthAdjust="spacingAndGlyphs">Days after tumor</text>
<text x="403.00" y="606.40" font-size="7.3" fill="#222" text-anchor="middle" textLength="46.60" lengthAdjust="spacingAndGlyphs" transform="rotate(-90 403.00 606.40)">Percent survival</text>
<text x="428.8" y="620.6" font-size="6.2" fill="#333" textLength="15" lengthAdjust="spacingAndGlyphs"><tspan font-style="italic">n</tspan> = 5</text>
<text x="428.80" y="629.20" font-size="6.2" fill="#333" font-style="italic" textLength="27.50" lengthAdjust="spacingAndGlyphs">per group</text>
<line x1="424.80" y1="671.20" x2="433.50" y2="671.20" stroke="#45a0d8" stroke-width="0.6"/>
<circle cx="429.15" cy="671.20" r="1.17" fill="#45a0d8" stroke="none" stroke-width="0.5"/>
<text x="437.10" y="673.30" font-size="6.2" fill="#333" textLength="43.90" lengthAdjust="spacingAndGlyphs">BAFF-R-28-1XX</text>
<line x1="424.80" y1="681.60" x2="433.50" y2="681.60" stroke="#c4c4c4" stroke-width="0.6"/>
<polygon points="429.15,680.17 427.85,681.60 429.15,683.03 430.45,681.60" fill="#c4c4c4"/>
<text x="437.10" y="683.70" font-size="6.2" fill="#333" textLength="29.80" lengthAdjust="spacingAndGlyphs">tumor only</text>
<rect x="0.5" y="0.5" width="519" height="691" fill="none" stroke="#444" stroke-width="1"/>
</svg>
</body></html>
